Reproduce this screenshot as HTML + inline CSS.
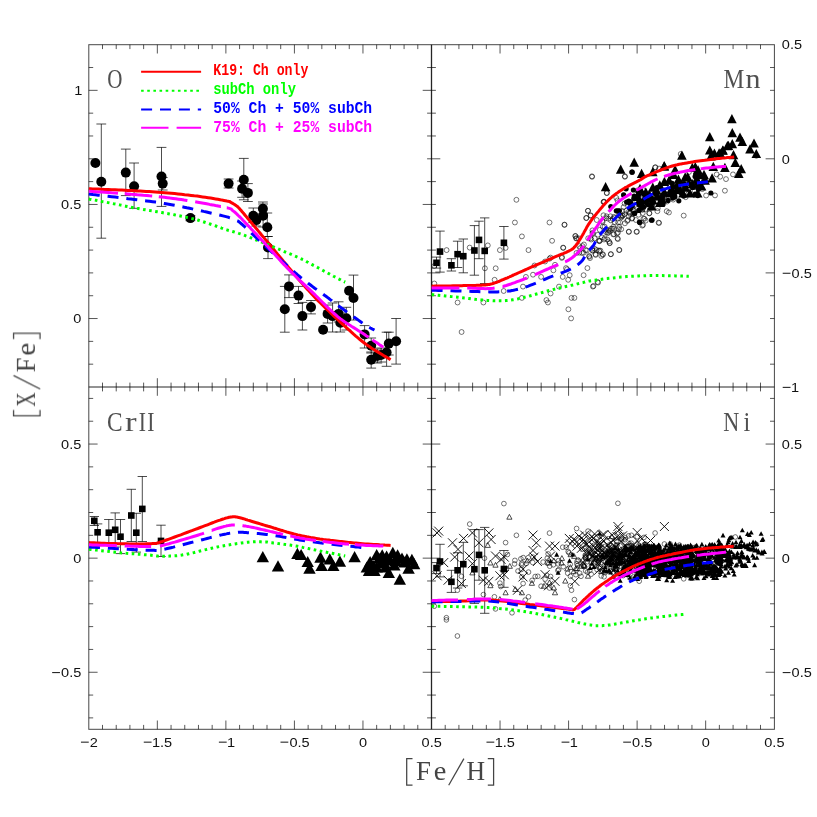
<!DOCTYPE html><html><head><meta charset="utf-8"><style>html,body{margin:0;padding:0;background:#fff}svg{display:block}</style></head><body><svg width="817" height="817" viewBox="0 0 817 817">
<rect width="817" height="817" fill="#fff"/>
<g stroke="#000" stroke-width="1" fill="none" shape-rendering="auto" opacity="0.72">
<rect x="88.8" y="44.7" width="685.6" height="684.5999999999999"/>
</g>
<g stroke="#000" stroke-width="1" opacity="0.85">
<line x1="431.50" y1="44.70" x2="431.50" y2="729.30" stroke="#000" stroke-width="1.3" />
<line x1="88.80" y1="387.00" x2="774.40" y2="387.00" stroke="#000" stroke-width="1" />
</g>
<g stroke="#000" stroke-width="1" opacity="0.66">
<line x1="102.51" y1="44.70" x2="102.51" y2="49.10" stroke="#000" stroke-width="1" />
<line x1="102.51" y1="729.30" x2="102.51" y2="724.90" stroke="#000" stroke-width="1" />
<line x1="102.51" y1="382.60" x2="102.51" y2="391.40" stroke="#000" stroke-width="1" />
<line x1="116.22" y1="44.70" x2="116.22" y2="49.10" stroke="#000" stroke-width="1" />
<line x1="116.22" y1="729.30" x2="116.22" y2="724.90" stroke="#000" stroke-width="1" />
<line x1="116.22" y1="382.60" x2="116.22" y2="391.40" stroke="#000" stroke-width="1" />
<line x1="129.92" y1="44.70" x2="129.92" y2="49.10" stroke="#000" stroke-width="1" />
<line x1="129.92" y1="729.30" x2="129.92" y2="724.90" stroke="#000" stroke-width="1" />
<line x1="129.92" y1="382.60" x2="129.92" y2="391.40" stroke="#000" stroke-width="1" />
<line x1="143.63" y1="44.70" x2="143.63" y2="49.10" stroke="#000" stroke-width="1" />
<line x1="143.63" y1="729.30" x2="143.63" y2="724.90" stroke="#000" stroke-width="1" />
<line x1="143.63" y1="382.60" x2="143.63" y2="391.40" stroke="#000" stroke-width="1" />
<line x1="157.34" y1="44.70" x2="157.34" y2="53.50" stroke="#000" stroke-width="1" />
<line x1="157.34" y1="729.30" x2="157.34" y2="720.50" stroke="#000" stroke-width="1" />
<line x1="157.34" y1="378.20" x2="157.34" y2="395.80" stroke="#000" stroke-width="1" />
<line x1="171.05" y1="44.70" x2="171.05" y2="49.10" stroke="#000" stroke-width="1" />
<line x1="171.05" y1="729.30" x2="171.05" y2="724.90" stroke="#000" stroke-width="1" />
<line x1="171.05" y1="382.60" x2="171.05" y2="391.40" stroke="#000" stroke-width="1" />
<line x1="184.76" y1="44.70" x2="184.76" y2="49.10" stroke="#000" stroke-width="1" />
<line x1="184.76" y1="729.30" x2="184.76" y2="724.90" stroke="#000" stroke-width="1" />
<line x1="184.76" y1="382.60" x2="184.76" y2="391.40" stroke="#000" stroke-width="1" />
<line x1="198.46" y1="44.70" x2="198.46" y2="49.10" stroke="#000" stroke-width="1" />
<line x1="198.46" y1="729.30" x2="198.46" y2="724.90" stroke="#000" stroke-width="1" />
<line x1="198.46" y1="382.60" x2="198.46" y2="391.40" stroke="#000" stroke-width="1" />
<line x1="212.17" y1="44.70" x2="212.17" y2="49.10" stroke="#000" stroke-width="1" />
<line x1="212.17" y1="729.30" x2="212.17" y2="724.90" stroke="#000" stroke-width="1" />
<line x1="212.17" y1="382.60" x2="212.17" y2="391.40" stroke="#000" stroke-width="1" />
<line x1="225.88" y1="44.70" x2="225.88" y2="53.50" stroke="#000" stroke-width="1" />
<line x1="225.88" y1="729.30" x2="225.88" y2="720.50" stroke="#000" stroke-width="1" />
<line x1="225.88" y1="378.20" x2="225.88" y2="395.80" stroke="#000" stroke-width="1" />
<line x1="239.59" y1="44.70" x2="239.59" y2="49.10" stroke="#000" stroke-width="1" />
<line x1="239.59" y1="729.30" x2="239.59" y2="724.90" stroke="#000" stroke-width="1" />
<line x1="239.59" y1="382.60" x2="239.59" y2="391.40" stroke="#000" stroke-width="1" />
<line x1="253.30" y1="44.70" x2="253.30" y2="49.10" stroke="#000" stroke-width="1" />
<line x1="253.30" y1="729.30" x2="253.30" y2="724.90" stroke="#000" stroke-width="1" />
<line x1="253.30" y1="382.60" x2="253.30" y2="391.40" stroke="#000" stroke-width="1" />
<line x1="267.00" y1="44.70" x2="267.00" y2="49.10" stroke="#000" stroke-width="1" />
<line x1="267.00" y1="729.30" x2="267.00" y2="724.90" stroke="#000" stroke-width="1" />
<line x1="267.00" y1="382.60" x2="267.00" y2="391.40" stroke="#000" stroke-width="1" />
<line x1="280.71" y1="44.70" x2="280.71" y2="49.10" stroke="#000" stroke-width="1" />
<line x1="280.71" y1="729.30" x2="280.71" y2="724.90" stroke="#000" stroke-width="1" />
<line x1="280.71" y1="382.60" x2="280.71" y2="391.40" stroke="#000" stroke-width="1" />
<line x1="294.42" y1="44.70" x2="294.42" y2="53.50" stroke="#000" stroke-width="1" />
<line x1="294.42" y1="729.30" x2="294.42" y2="720.50" stroke="#000" stroke-width="1" />
<line x1="294.42" y1="378.20" x2="294.42" y2="395.80" stroke="#000" stroke-width="1" />
<line x1="308.13" y1="44.70" x2="308.13" y2="49.10" stroke="#000" stroke-width="1" />
<line x1="308.13" y1="729.30" x2="308.13" y2="724.90" stroke="#000" stroke-width="1" />
<line x1="308.13" y1="382.60" x2="308.13" y2="391.40" stroke="#000" stroke-width="1" />
<line x1="321.84" y1="44.70" x2="321.84" y2="49.10" stroke="#000" stroke-width="1" />
<line x1="321.84" y1="729.30" x2="321.84" y2="724.90" stroke="#000" stroke-width="1" />
<line x1="321.84" y1="382.60" x2="321.84" y2="391.40" stroke="#000" stroke-width="1" />
<line x1="335.54" y1="44.70" x2="335.54" y2="49.10" stroke="#000" stroke-width="1" />
<line x1="335.54" y1="729.30" x2="335.54" y2="724.90" stroke="#000" stroke-width="1" />
<line x1="335.54" y1="382.60" x2="335.54" y2="391.40" stroke="#000" stroke-width="1" />
<line x1="349.25" y1="44.70" x2="349.25" y2="49.10" stroke="#000" stroke-width="1" />
<line x1="349.25" y1="729.30" x2="349.25" y2="724.90" stroke="#000" stroke-width="1" />
<line x1="349.25" y1="382.60" x2="349.25" y2="391.40" stroke="#000" stroke-width="1" />
<line x1="362.96" y1="44.70" x2="362.96" y2="53.50" stroke="#000" stroke-width="1" />
<line x1="362.96" y1="729.30" x2="362.96" y2="720.50" stroke="#000" stroke-width="1" />
<line x1="362.96" y1="378.20" x2="362.96" y2="395.80" stroke="#000" stroke-width="1" />
<line x1="376.67" y1="44.70" x2="376.67" y2="49.10" stroke="#000" stroke-width="1" />
<line x1="376.67" y1="729.30" x2="376.67" y2="724.90" stroke="#000" stroke-width="1" />
<line x1="376.67" y1="382.60" x2="376.67" y2="391.40" stroke="#000" stroke-width="1" />
<line x1="390.38" y1="44.70" x2="390.38" y2="49.10" stroke="#000" stroke-width="1" />
<line x1="390.38" y1="729.30" x2="390.38" y2="724.90" stroke="#000" stroke-width="1" />
<line x1="390.38" y1="382.60" x2="390.38" y2="391.40" stroke="#000" stroke-width="1" />
<line x1="404.08" y1="44.70" x2="404.08" y2="49.10" stroke="#000" stroke-width="1" />
<line x1="404.08" y1="729.30" x2="404.08" y2="724.90" stroke="#000" stroke-width="1" />
<line x1="404.08" y1="382.60" x2="404.08" y2="391.40" stroke="#000" stroke-width="1" />
<line x1="417.79" y1="44.70" x2="417.79" y2="49.10" stroke="#000" stroke-width="1" />
<line x1="417.79" y1="729.30" x2="417.79" y2="724.90" stroke="#000" stroke-width="1" />
<line x1="417.79" y1="382.60" x2="417.79" y2="391.40" stroke="#000" stroke-width="1" />
<line x1="445.21" y1="44.70" x2="445.21" y2="49.10" stroke="#000" stroke-width="1" />
<line x1="445.21" y1="729.30" x2="445.21" y2="724.90" stroke="#000" stroke-width="1" />
<line x1="445.21" y1="382.60" x2="445.21" y2="391.40" stroke="#000" stroke-width="1" />
<line x1="458.92" y1="44.70" x2="458.92" y2="49.10" stroke="#000" stroke-width="1" />
<line x1="458.92" y1="729.30" x2="458.92" y2="724.90" stroke="#000" stroke-width="1" />
<line x1="458.92" y1="382.60" x2="458.92" y2="391.40" stroke="#000" stroke-width="1" />
<line x1="472.62" y1="44.70" x2="472.62" y2="49.10" stroke="#000" stroke-width="1" />
<line x1="472.62" y1="729.30" x2="472.62" y2="724.90" stroke="#000" stroke-width="1" />
<line x1="472.62" y1="382.60" x2="472.62" y2="391.40" stroke="#000" stroke-width="1" />
<line x1="486.33" y1="44.70" x2="486.33" y2="49.10" stroke="#000" stroke-width="1" />
<line x1="486.33" y1="729.30" x2="486.33" y2="724.90" stroke="#000" stroke-width="1" />
<line x1="486.33" y1="382.60" x2="486.33" y2="391.40" stroke="#000" stroke-width="1" />
<line x1="500.04" y1="44.70" x2="500.04" y2="53.50" stroke="#000" stroke-width="1" />
<line x1="500.04" y1="729.30" x2="500.04" y2="720.50" stroke="#000" stroke-width="1" />
<line x1="500.04" y1="378.20" x2="500.04" y2="395.80" stroke="#000" stroke-width="1" />
<line x1="513.75" y1="44.70" x2="513.75" y2="49.10" stroke="#000" stroke-width="1" />
<line x1="513.75" y1="729.30" x2="513.75" y2="724.90" stroke="#000" stroke-width="1" />
<line x1="513.75" y1="382.60" x2="513.75" y2="391.40" stroke="#000" stroke-width="1" />
<line x1="527.46" y1="44.70" x2="527.46" y2="49.10" stroke="#000" stroke-width="1" />
<line x1="527.46" y1="729.30" x2="527.46" y2="724.90" stroke="#000" stroke-width="1" />
<line x1="527.46" y1="382.60" x2="527.46" y2="391.40" stroke="#000" stroke-width="1" />
<line x1="541.16" y1="44.70" x2="541.16" y2="49.10" stroke="#000" stroke-width="1" />
<line x1="541.16" y1="729.30" x2="541.16" y2="724.90" stroke="#000" stroke-width="1" />
<line x1="541.16" y1="382.60" x2="541.16" y2="391.40" stroke="#000" stroke-width="1" />
<line x1="554.87" y1="44.70" x2="554.87" y2="49.10" stroke="#000" stroke-width="1" />
<line x1="554.87" y1="729.30" x2="554.87" y2="724.90" stroke="#000" stroke-width="1" />
<line x1="554.87" y1="382.60" x2="554.87" y2="391.40" stroke="#000" stroke-width="1" />
<line x1="568.58" y1="44.70" x2="568.58" y2="53.50" stroke="#000" stroke-width="1" />
<line x1="568.58" y1="729.30" x2="568.58" y2="720.50" stroke="#000" stroke-width="1" />
<line x1="568.58" y1="378.20" x2="568.58" y2="395.80" stroke="#000" stroke-width="1" />
<line x1="582.29" y1="44.70" x2="582.29" y2="49.10" stroke="#000" stroke-width="1" />
<line x1="582.29" y1="729.30" x2="582.29" y2="724.90" stroke="#000" stroke-width="1" />
<line x1="582.29" y1="382.60" x2="582.29" y2="391.40" stroke="#000" stroke-width="1" />
<line x1="596.00" y1="44.70" x2="596.00" y2="49.10" stroke="#000" stroke-width="1" />
<line x1="596.00" y1="729.30" x2="596.00" y2="724.90" stroke="#000" stroke-width="1" />
<line x1="596.00" y1="382.60" x2="596.00" y2="391.40" stroke="#000" stroke-width="1" />
<line x1="609.70" y1="44.70" x2="609.70" y2="49.10" stroke="#000" stroke-width="1" />
<line x1="609.70" y1="729.30" x2="609.70" y2="724.90" stroke="#000" stroke-width="1" />
<line x1="609.70" y1="382.60" x2="609.70" y2="391.40" stroke="#000" stroke-width="1" />
<line x1="623.41" y1="44.70" x2="623.41" y2="49.10" stroke="#000" stroke-width="1" />
<line x1="623.41" y1="729.30" x2="623.41" y2="724.90" stroke="#000" stroke-width="1" />
<line x1="623.41" y1="382.60" x2="623.41" y2="391.40" stroke="#000" stroke-width="1" />
<line x1="637.12" y1="44.70" x2="637.12" y2="53.50" stroke="#000" stroke-width="1" />
<line x1="637.12" y1="729.30" x2="637.12" y2="720.50" stroke="#000" stroke-width="1" />
<line x1="637.12" y1="378.20" x2="637.12" y2="395.80" stroke="#000" stroke-width="1" />
<line x1="650.83" y1="44.70" x2="650.83" y2="49.10" stroke="#000" stroke-width="1" />
<line x1="650.83" y1="729.30" x2="650.83" y2="724.90" stroke="#000" stroke-width="1" />
<line x1="650.83" y1="382.60" x2="650.83" y2="391.40" stroke="#000" stroke-width="1" />
<line x1="664.54" y1="44.70" x2="664.54" y2="49.10" stroke="#000" stroke-width="1" />
<line x1="664.54" y1="729.30" x2="664.54" y2="724.90" stroke="#000" stroke-width="1" />
<line x1="664.54" y1="382.60" x2="664.54" y2="391.40" stroke="#000" stroke-width="1" />
<line x1="678.24" y1="44.70" x2="678.24" y2="49.10" stroke="#000" stroke-width="1" />
<line x1="678.24" y1="729.30" x2="678.24" y2="724.90" stroke="#000" stroke-width="1" />
<line x1="678.24" y1="382.60" x2="678.24" y2="391.40" stroke="#000" stroke-width="1" />
<line x1="691.95" y1="44.70" x2="691.95" y2="49.10" stroke="#000" stroke-width="1" />
<line x1="691.95" y1="729.30" x2="691.95" y2="724.90" stroke="#000" stroke-width="1" />
<line x1="691.95" y1="382.60" x2="691.95" y2="391.40" stroke="#000" stroke-width="1" />
<line x1="705.66" y1="44.70" x2="705.66" y2="53.50" stroke="#000" stroke-width="1" />
<line x1="705.66" y1="729.30" x2="705.66" y2="720.50" stroke="#000" stroke-width="1" />
<line x1="705.66" y1="378.20" x2="705.66" y2="395.80" stroke="#000" stroke-width="1" />
<line x1="719.37" y1="44.70" x2="719.37" y2="49.10" stroke="#000" stroke-width="1" />
<line x1="719.37" y1="729.30" x2="719.37" y2="724.90" stroke="#000" stroke-width="1" />
<line x1="719.37" y1="382.60" x2="719.37" y2="391.40" stroke="#000" stroke-width="1" />
<line x1="733.08" y1="44.70" x2="733.08" y2="49.10" stroke="#000" stroke-width="1" />
<line x1="733.08" y1="729.30" x2="733.08" y2="724.90" stroke="#000" stroke-width="1" />
<line x1="733.08" y1="382.60" x2="733.08" y2="391.40" stroke="#000" stroke-width="1" />
<line x1="746.78" y1="44.70" x2="746.78" y2="49.10" stroke="#000" stroke-width="1" />
<line x1="746.78" y1="729.30" x2="746.78" y2="724.90" stroke="#000" stroke-width="1" />
<line x1="746.78" y1="382.60" x2="746.78" y2="391.40" stroke="#000" stroke-width="1" />
<line x1="760.49" y1="44.70" x2="760.49" y2="49.10" stroke="#000" stroke-width="1" />
<line x1="760.49" y1="729.30" x2="760.49" y2="724.90" stroke="#000" stroke-width="1" />
<line x1="760.49" y1="382.60" x2="760.49" y2="391.40" stroke="#000" stroke-width="1" />
<line x1="88.80" y1="364.18" x2="93.20" y2="364.18" stroke="#000" stroke-width="1" />
<line x1="427.10" y1="364.18" x2="431.50" y2="364.18" stroke="#000" stroke-width="1" />
<line x1="88.80" y1="341.36" x2="93.20" y2="341.36" stroke="#000" stroke-width="1" />
<line x1="427.10" y1="341.36" x2="431.50" y2="341.36" stroke="#000" stroke-width="1" />
<line x1="88.80" y1="318.54" x2="97.60" y2="318.54" stroke="#000" stroke-width="1" />
<line x1="422.70" y1="318.54" x2="431.50" y2="318.54" stroke="#000" stroke-width="1" />
<line x1="88.80" y1="295.72" x2="93.20" y2="295.72" stroke="#000" stroke-width="1" />
<line x1="427.10" y1="295.72" x2="431.50" y2="295.72" stroke="#000" stroke-width="1" />
<line x1="88.80" y1="272.90" x2="93.20" y2="272.90" stroke="#000" stroke-width="1" />
<line x1="427.10" y1="272.90" x2="431.50" y2="272.90" stroke="#000" stroke-width="1" />
<line x1="88.80" y1="250.08" x2="93.20" y2="250.08" stroke="#000" stroke-width="1" />
<line x1="427.10" y1="250.08" x2="431.50" y2="250.08" stroke="#000" stroke-width="1" />
<line x1="88.80" y1="227.26" x2="93.20" y2="227.26" stroke="#000" stroke-width="1" />
<line x1="427.10" y1="227.26" x2="431.50" y2="227.26" stroke="#000" stroke-width="1" />
<line x1="88.80" y1="204.44" x2="97.60" y2="204.44" stroke="#000" stroke-width="1" />
<line x1="422.70" y1="204.44" x2="431.50" y2="204.44" stroke="#000" stroke-width="1" />
<line x1="88.80" y1="181.62" x2="93.20" y2="181.62" stroke="#000" stroke-width="1" />
<line x1="427.10" y1="181.62" x2="431.50" y2="181.62" stroke="#000" stroke-width="1" />
<line x1="88.80" y1="158.80" x2="93.20" y2="158.80" stroke="#000" stroke-width="1" />
<line x1="427.10" y1="158.80" x2="431.50" y2="158.80" stroke="#000" stroke-width="1" />
<line x1="88.80" y1="135.98" x2="93.20" y2="135.98" stroke="#000" stroke-width="1" />
<line x1="427.10" y1="135.98" x2="431.50" y2="135.98" stroke="#000" stroke-width="1" />
<line x1="88.80" y1="113.16" x2="93.20" y2="113.16" stroke="#000" stroke-width="1" />
<line x1="427.10" y1="113.16" x2="431.50" y2="113.16" stroke="#000" stroke-width="1" />
<line x1="88.80" y1="90.34" x2="97.60" y2="90.34" stroke="#000" stroke-width="1" />
<line x1="422.70" y1="90.34" x2="431.50" y2="90.34" stroke="#000" stroke-width="1" />
<line x1="88.80" y1="67.52" x2="93.20" y2="67.52" stroke="#000" stroke-width="1" />
<line x1="427.10" y1="67.52" x2="431.50" y2="67.52" stroke="#000" stroke-width="1" />
<line x1="431.50" y1="364.18" x2="435.90" y2="364.18" stroke="#000" stroke-width="1" />
<line x1="770.00" y1="364.18" x2="774.40" y2="364.18" stroke="#000" stroke-width="1" />
<line x1="431.50" y1="341.36" x2="435.90" y2="341.36" stroke="#000" stroke-width="1" />
<line x1="770.00" y1="341.36" x2="774.40" y2="341.36" stroke="#000" stroke-width="1" />
<line x1="431.50" y1="318.54" x2="435.90" y2="318.54" stroke="#000" stroke-width="1" />
<line x1="770.00" y1="318.54" x2="774.40" y2="318.54" stroke="#000" stroke-width="1" />
<line x1="431.50" y1="295.72" x2="435.90" y2="295.72" stroke="#000" stroke-width="1" />
<line x1="770.00" y1="295.72" x2="774.40" y2="295.72" stroke="#000" stroke-width="1" />
<line x1="431.50" y1="272.90" x2="440.30" y2="272.90" stroke="#000" stroke-width="1" />
<line x1="765.60" y1="272.90" x2="774.40" y2="272.90" stroke="#000" stroke-width="1" />
<line x1="431.50" y1="250.08" x2="435.90" y2="250.08" stroke="#000" stroke-width="1" />
<line x1="770.00" y1="250.08" x2="774.40" y2="250.08" stroke="#000" stroke-width="1" />
<line x1="431.50" y1="227.26" x2="435.90" y2="227.26" stroke="#000" stroke-width="1" />
<line x1="770.00" y1="227.26" x2="774.40" y2="227.26" stroke="#000" stroke-width="1" />
<line x1="431.50" y1="204.44" x2="435.90" y2="204.44" stroke="#000" stroke-width="1" />
<line x1="770.00" y1="204.44" x2="774.40" y2="204.44" stroke="#000" stroke-width="1" />
<line x1="431.50" y1="181.62" x2="435.90" y2="181.62" stroke="#000" stroke-width="1" />
<line x1="770.00" y1="181.62" x2="774.40" y2="181.62" stroke="#000" stroke-width="1" />
<line x1="431.50" y1="158.80" x2="440.30" y2="158.80" stroke="#000" stroke-width="1" />
<line x1="765.60" y1="158.80" x2="774.40" y2="158.80" stroke="#000" stroke-width="1" />
<line x1="431.50" y1="135.98" x2="435.90" y2="135.98" stroke="#000" stroke-width="1" />
<line x1="770.00" y1="135.98" x2="774.40" y2="135.98" stroke="#000" stroke-width="1" />
<line x1="431.50" y1="113.16" x2="435.90" y2="113.16" stroke="#000" stroke-width="1" />
<line x1="770.00" y1="113.16" x2="774.40" y2="113.16" stroke="#000" stroke-width="1" />
<line x1="431.50" y1="90.34" x2="435.90" y2="90.34" stroke="#000" stroke-width="1" />
<line x1="770.00" y1="90.34" x2="774.40" y2="90.34" stroke="#000" stroke-width="1" />
<line x1="431.50" y1="67.52" x2="435.90" y2="67.52" stroke="#000" stroke-width="1" />
<line x1="770.00" y1="67.52" x2="774.40" y2="67.52" stroke="#000" stroke-width="1" />
<line x1="88.80" y1="717.89" x2="93.20" y2="717.89" stroke="#000" stroke-width="1" />
<line x1="427.10" y1="717.89" x2="435.90" y2="717.89" stroke="#000" stroke-width="1" />
<line x1="770.00" y1="717.89" x2="774.40" y2="717.89" stroke="#000" stroke-width="1" />
<line x1="88.80" y1="695.07" x2="93.20" y2="695.07" stroke="#000" stroke-width="1" />
<line x1="427.10" y1="695.07" x2="435.90" y2="695.07" stroke="#000" stroke-width="1" />
<line x1="770.00" y1="695.07" x2="774.40" y2="695.07" stroke="#000" stroke-width="1" />
<line x1="88.80" y1="672.25" x2="97.60" y2="672.25" stroke="#000" stroke-width="1" />
<line x1="422.70" y1="672.25" x2="440.30" y2="672.25" stroke="#000" stroke-width="1" />
<line x1="765.60" y1="672.25" x2="774.40" y2="672.25" stroke="#000" stroke-width="1" />
<line x1="88.80" y1="649.43" x2="93.20" y2="649.43" stroke="#000" stroke-width="1" />
<line x1="427.10" y1="649.43" x2="435.90" y2="649.43" stroke="#000" stroke-width="1" />
<line x1="770.00" y1="649.43" x2="774.40" y2="649.43" stroke="#000" stroke-width="1" />
<line x1="88.80" y1="626.61" x2="93.20" y2="626.61" stroke="#000" stroke-width="1" />
<line x1="427.10" y1="626.61" x2="435.90" y2="626.61" stroke="#000" stroke-width="1" />
<line x1="770.00" y1="626.61" x2="774.40" y2="626.61" stroke="#000" stroke-width="1" />
<line x1="88.80" y1="603.79" x2="93.20" y2="603.79" stroke="#000" stroke-width="1" />
<line x1="427.10" y1="603.79" x2="435.90" y2="603.79" stroke="#000" stroke-width="1" />
<line x1="770.00" y1="603.79" x2="774.40" y2="603.79" stroke="#000" stroke-width="1" />
<line x1="88.80" y1="580.97" x2="93.20" y2="580.97" stroke="#000" stroke-width="1" />
<line x1="427.10" y1="580.97" x2="435.90" y2="580.97" stroke="#000" stroke-width="1" />
<line x1="770.00" y1="580.97" x2="774.40" y2="580.97" stroke="#000" stroke-width="1" />
<line x1="88.80" y1="558.15" x2="97.60" y2="558.15" stroke="#000" stroke-width="1" />
<line x1="422.70" y1="558.15" x2="440.30" y2="558.15" stroke="#000" stroke-width="1" />
<line x1="765.60" y1="558.15" x2="774.40" y2="558.15" stroke="#000" stroke-width="1" />
<line x1="88.80" y1="535.33" x2="93.20" y2="535.33" stroke="#000" stroke-width="1" />
<line x1="427.10" y1="535.33" x2="435.90" y2="535.33" stroke="#000" stroke-width="1" />
<line x1="770.00" y1="535.33" x2="774.40" y2="535.33" stroke="#000" stroke-width="1" />
<line x1="88.80" y1="512.51" x2="93.20" y2="512.51" stroke="#000" stroke-width="1" />
<line x1="427.10" y1="512.51" x2="435.90" y2="512.51" stroke="#000" stroke-width="1" />
<line x1="770.00" y1="512.51" x2="774.40" y2="512.51" stroke="#000" stroke-width="1" />
<line x1="88.80" y1="489.69" x2="93.20" y2="489.69" stroke="#000" stroke-width="1" />
<line x1="427.10" y1="489.69" x2="435.90" y2="489.69" stroke="#000" stroke-width="1" />
<line x1="770.00" y1="489.69" x2="774.40" y2="489.69" stroke="#000" stroke-width="1" />
<line x1="88.80" y1="466.87" x2="93.20" y2="466.87" stroke="#000" stroke-width="1" />
<line x1="427.10" y1="466.87" x2="435.90" y2="466.87" stroke="#000" stroke-width="1" />
<line x1="770.00" y1="466.87" x2="774.40" y2="466.87" stroke="#000" stroke-width="1" />
<line x1="88.80" y1="444.05" x2="97.60" y2="444.05" stroke="#000" stroke-width="1" />
<line x1="422.70" y1="444.05" x2="440.30" y2="444.05" stroke="#000" stroke-width="1" />
<line x1="765.60" y1="444.05" x2="774.40" y2="444.05" stroke="#000" stroke-width="1" />
<line x1="88.80" y1="421.23" x2="93.20" y2="421.23" stroke="#000" stroke-width="1" />
<line x1="427.10" y1="421.23" x2="435.90" y2="421.23" stroke="#000" stroke-width="1" />
<line x1="770.00" y1="421.23" x2="774.40" y2="421.23" stroke="#000" stroke-width="1" />
<line x1="88.80" y1="398.41" x2="93.20" y2="398.41" stroke="#000" stroke-width="1" />
<line x1="427.10" y1="398.41" x2="435.90" y2="398.41" stroke="#000" stroke-width="1" />
<line x1="770.00" y1="398.41" x2="774.40" y2="398.41" stroke="#000" stroke-width="1" />
</g>
<g opacity="0.999">
<rect x="80.95" y="741.65" width="7.8" height="1.0" fill="#111"/>
<text transform="translate(89.85,746.50) scale(1.12,1)" font-family="Liberation Sans" font-size="13.0" fill="#111">2</text>
<rect x="143.77" y="741.65" width="7.8" height="1.0" fill="#111"/>
<text transform="translate(151.97,746.50) scale(1.12,1)" font-family="Liberation Sans" font-size="13.0" fill="#111">1.5</text>
<rect x="218.88" y="741.65" width="7.8" height="1.0" fill="#111"/>
<text transform="translate(227.08,746.50) scale(1.12,1)" font-family="Liberation Sans" font-size="13.0" fill="#111">1</text>
<rect x="280.50" y="741.65" width="7.8" height="1.0" fill="#111"/>
<text transform="translate(289.40,746.50) scale(1.12,1)" font-family="Liberation Sans" font-size="13.0" fill="#111">0.5</text>
<text transform="translate(359.11,746.50) scale(1.12,1)" font-family="Liberation Sans" font-size="13.0" fill="#111">0</text>
<text transform="translate(421.58,746.50) scale(1.12,1)" font-family="Liberation Sans" font-size="13.0" fill="#111">0.5</text>
<rect x="486.47" y="741.65" width="7.8" height="1.0" fill="#111"/>
<text transform="translate(494.67,746.50) scale(1.12,1)" font-family="Liberation Sans" font-size="13.0" fill="#111">1.5</text>
<rect x="561.58" y="741.65" width="7.8" height="1.0" fill="#111"/>
<text transform="translate(569.78,746.50) scale(1.12,1)" font-family="Liberation Sans" font-size="13.0" fill="#111">1</text>
<rect x="623.20" y="741.65" width="7.8" height="1.0" fill="#111"/>
<text transform="translate(632.10,746.50) scale(1.12,1)" font-family="Liberation Sans" font-size="13.0" fill="#111">0.5</text>
<text transform="translate(701.81,746.50) scale(1.12,1)" font-family="Liberation Sans" font-size="13.0" fill="#111">0</text>
<text transform="translate(764.28,746.50) scale(1.12,1)" font-family="Liberation Sans" font-size="13.0" fill="#111">0.5</text>
<text transform="translate(74.20,95.04) scale(1.12,1)" font-family="Liberation Sans" font-size="13.0" fill="#111">1</text>
<text transform="translate(61.06,209.14) scale(1.12,1)" font-family="Liberation Sans" font-size="13.0" fill="#111">0.5</text>
<text transform="translate(73.20,323.24) scale(1.12,1)" font-family="Liberation Sans" font-size="13.0" fill="#111">0</text>
<text transform="translate(61.06,448.75) scale(1.12,1)" font-family="Liberation Sans" font-size="13.0" fill="#111">0.5</text>
<text transform="translate(73.20,562.85) scale(1.12,1)" font-family="Liberation Sans" font-size="13.0" fill="#111">0</text>
<rect x="52.16" y="672.10" width="7.8" height="1.0" fill="#111"/>
<text transform="translate(61.06,676.95) scale(1.12,1)" font-family="Liberation Sans" font-size="13.0" fill="#111">0.5</text>
<text transform="translate(781.80,49.40) scale(1.12,1)" font-family="Liberation Sans" font-size="13.0" fill="#111">0.5</text>
<text transform="translate(781.80,163.50) scale(1.12,1)" font-family="Liberation Sans" font-size="13.0" fill="#111">0</text>
<rect x="782.70" y="272.75" width="7.8" height="1.0" fill="#111"/>
<text transform="translate(791.60,277.60) scale(1.12,1)" font-family="Liberation Sans" font-size="13.0" fill="#111">0.5</text>
<rect x="782.70" y="386.85" width="7.8" height="1.0" fill="#111"/>
<text transform="translate(790.90,391.70) scale(1.12,1)" font-family="Liberation Sans" font-size="13.0" fill="#111">1</text>
<text transform="translate(781.80,448.75) scale(1.12,1)" font-family="Liberation Sans" font-size="13.0" fill="#111">0.5</text>
<text transform="translate(781.80,562.85) scale(1.12,1)" font-family="Liberation Sans" font-size="13.0" fill="#111">0</text>
<rect x="782.70" y="672.10" width="7.8" height="1.0" fill="#111"/>
<text transform="translate(791.60,676.95) scale(1.12,1)" font-family="Liberation Sans" font-size="13.0" fill="#111">0.5</text>
<g transform="translate(406.1,780)" fill="#444" stroke="none" font-family="Liberation Serif" font-size="27.5">
<path d="M6.4,-21.4H0.6V5.2H6.4" fill="none" stroke="#444" stroke-width="1.25"/>
<text x="10.0" y="0" textLength="14.9" lengthAdjust="spacingAndGlyphs">F</text>
<text x="27.6" y="0" textLength="12.6" lengthAdjust="spacingAndGlyphs">e</text>
<path d="M42.6,5.2L57.8,-21.4" fill="none" stroke="#444" stroke-width="1.25"/>
<text x="60.3" y="0" textLength="18.6" lengthAdjust="spacingAndGlyphs">H</text>
<path d="M81.7,-21.4H87.5V5.2H81.7" fill="none" stroke="#444" stroke-width="1.25"/>
</g>
<g transform="translate(34.9,416.4) rotate(-90)" fill="#444" stroke="none" font-family="Liberation Serif" font-size="27.5">
<path d="M6.4,-21.4H0.6V5.2H6.4" fill="none" stroke="#444" stroke-width="1.25"/>
<text x="9.7" y="0" textLength="14.2" lengthAdjust="spacingAndGlyphs">X</text>
<path d="M27.4,5.2L40.9,-21.4" fill="none" stroke="#444" stroke-width="1.25"/>
<text x="43.9" y="0" textLength="14.9" lengthAdjust="spacingAndGlyphs">F</text>
<text x="60.8" y="0" textLength="12.9" lengthAdjust="spacingAndGlyphs">e</text>
<path d="M77.3,-21.4H83.1V5.2H77.3" fill="none" stroke="#444" stroke-width="1.25"/>
</g>
<text x="107.2" y="88.3" font-family="Liberation Serif" font-size="28" fill="#505050" textLength="15.2" lengthAdjust="spacingAndGlyphs">O</text>
<text x="723.4" y="88.4" font-family="Liberation Serif" font-size="28" fill="#505050" textLength="20.8" lengthAdjust="spacingAndGlyphs">M</text>
<text x="745.4" y="88.4" font-family="Liberation Serif" font-size="28" fill="#505050" textLength="15.0" lengthAdjust="spacingAndGlyphs">n</text>
<text x="106.9" y="430.7" font-family="Liberation Serif" font-size="28" fill="#505050" textLength="15.6" lengthAdjust="spacingAndGlyphs">C</text>
<text x="125.0" y="430.7" font-family="Liberation Serif" font-size="28" fill="#505050" textLength="11.6" lengthAdjust="spacingAndGlyphs">r</text>
<text x="138.8" y="430.7" font-family="Liberation Serif" font-size="28" fill="#505050" textLength="7.2" lengthAdjust="spacingAndGlyphs">I</text>
<text x="147.2" y="430.7" font-family="Liberation Serif" font-size="28" fill="#505050" textLength="7.2" lengthAdjust="spacingAndGlyphs">I</text>
<text x="723.2" y="430.8" font-family="Liberation Serif" font-size="28" fill="#505050" textLength="16.0" lengthAdjust="spacingAndGlyphs">N</text>
<text x="743.4" y="430.8" font-family="Liberation Serif" font-size="28" fill="#505050" textLength="6.8" lengthAdjust="spacingAndGlyphs">i</text>
</g>
<path d="M101.3,124.0V238.2M96.4,124.0h9.8M96.4,238.2h9.8" stroke="#000" stroke-width="1" fill="none" opacity="0.7"/>
<path d="M125.8,149.1V195.6M120.9,149.1h9.8M120.9,195.6h9.8" stroke="#000" stroke-width="1" fill="none" opacity="0.7"/>
<path d="M134.1,163.0V208.3M129.2,163.0h9.8M129.2,208.3h9.8" stroke="#000" stroke-width="1" fill="none" opacity="0.7"/>
<path d="M161.5,147.4V206.4M156.6,147.4h9.8M156.6,206.4h9.8" stroke="#000" stroke-width="1" fill="none" opacity="0.7"/>
<path d="M162.7,177.5V190.0M157.8,177.5h9.8M157.8,190.0h9.8" stroke="#000" stroke-width="1" fill="none" opacity="0.7"/>
<path d="M190.4,215.5V220.7M185.5,215.5h9.8M185.5,220.7h9.8" stroke="#000" stroke-width="1" fill="none" opacity="0.7"/>
<path d="M228.6,179.0V188.0M223.7,179.0h9.8M223.7,188.0h9.8" stroke="#000" stroke-width="1" fill="none" opacity="0.7"/>
<path d="M243.8,158.4V199.8M238.9,158.4h9.8M238.9,199.8h9.8" stroke="#000" stroke-width="1" fill="none" opacity="0.7"/>
<path d="M242.1,181.0V197.3M237.2,181.0h9.8M237.2,197.3h9.8" stroke="#000" stroke-width="1" fill="none" opacity="0.7"/>
<path d="M247.9,183.6V201.5M243.0,183.6h9.8M243.0,201.5h9.8" stroke="#000" stroke-width="1" fill="none" opacity="0.7"/>
<path d="M262.9,202.0V215.0M258.0,202.0h9.8M258.0,215.0h9.8" stroke="#000" stroke-width="1" fill="none" opacity="0.7"/>
<path d="M253.3,208.0V222.5M248.4,208.0h9.8M248.4,222.5h9.8" stroke="#000" stroke-width="1" fill="none" opacity="0.7"/>
<path d="M256.3,214.0V226.0M251.4,214.0h9.8M251.4,226.0h9.8" stroke="#000" stroke-width="1" fill="none" opacity="0.7"/>
<path d="M263.1,204.0V227.0M258.2,204.0h9.8M258.2,227.0h9.8" stroke="#000" stroke-width="1" fill="none" opacity="0.7"/>
<path d="M267.3,213.0V236.5M262.4,213.0h9.8M262.4,236.5h9.8" stroke="#000" stroke-width="1" fill="none" opacity="0.7"/>
<path d="M268.0,236.5V258.6M263.1,236.5h9.8M263.1,258.6h9.8" stroke="#000" stroke-width="1" fill="none" opacity="0.7"/>
<path d="M289.0,274.9V297.6M284.1,274.9h9.8M284.1,297.6h9.8" stroke="#000" stroke-width="1" fill="none" opacity="0.7"/>
<path d="M284.8,286.4V332.2M279.9,286.4h9.8M279.9,332.2h9.8" stroke="#000" stroke-width="1" fill="none" opacity="0.7"/>
<path d="M298.5,286.4V303.5M293.6,286.4h9.8M293.6,303.5h9.8" stroke="#000" stroke-width="1" fill="none" opacity="0.7"/>
<path d="M302.4,302.4V330.0M297.5,302.4h9.8M297.5,330.0h9.8" stroke="#000" stroke-width="1" fill="none" opacity="0.7"/>
<path d="M311.0,300.5V313.9M306.1,300.5h9.8M306.1,313.9h9.8" stroke="#000" stroke-width="1" fill="none" opacity="0.7"/>
<path d="M327.6,305.0V323.0M322.7,305.0h9.8M322.7,323.0h9.8" stroke="#000" stroke-width="1" fill="none" opacity="0.7"/>
<path d="M332.6,303.0V332.0M327.7,303.0h9.8M327.7,332.0h9.8" stroke="#000" stroke-width="1" fill="none" opacity="0.7"/>
<path d="M338.6,301.8V322.0M333.7,301.8h9.8M333.7,322.0h9.8" stroke="#000" stroke-width="1" fill="none" opacity="0.7"/>
<path d="M340.3,313.0V332.0M335.4,313.0h9.8M335.4,332.0h9.8" stroke="#000" stroke-width="1" fill="none" opacity="0.7"/>
<path d="M346.3,307.3V330.0M341.4,307.3h9.8M341.4,330.0h9.8" stroke="#000" stroke-width="1" fill="none" opacity="0.7"/>
<path d="M353.5,275.1V320.0M348.6,275.1h9.8M348.6,320.0h9.8" stroke="#000" stroke-width="1" fill="none" opacity="0.7"/>
<path d="M364.6,325.6V348.0M359.7,325.6h9.8M359.7,348.0h9.8" stroke="#000" stroke-width="1" fill="none" opacity="0.7"/>
<path d="M371.2,338.0V353.0M366.3,338.0h9.8M366.3,353.0h9.8" stroke="#000" stroke-width="1" fill="none" opacity="0.7"/>
<path d="M371.2,352.0V368.1M366.3,352.0h9.8M366.3,368.1h9.8" stroke="#000" stroke-width="1" fill="none" opacity="0.7"/>
<path d="M377.3,349.0V363.0M372.4,349.0h9.8M372.4,363.0h9.8" stroke="#000" stroke-width="1" fill="none" opacity="0.7"/>
<path d="M381.1,348.0V362.0M376.2,348.0h9.8M376.2,362.0h9.8" stroke="#000" stroke-width="1" fill="none" opacity="0.7"/>
<path d="M386.6,332.2V366.3M381.7,332.2h9.8M381.7,366.3h9.8" stroke="#000" stroke-width="1" fill="none" opacity="0.7"/>
<path d="M388.8,332.2V355.0M383.9,332.2h9.8M383.9,355.0h9.8" stroke="#000" stroke-width="1" fill="none" opacity="0.7"/>
<path d="M396.1,318.5V364.1M391.2,318.5h9.8M391.2,364.1h9.8" stroke="#000" stroke-width="1" fill="none" opacity="0.7"/>
<circle cx="95.4" cy="163.0" r="5" fill="#000"/>
<circle cx="101.3" cy="181.7" r="5" fill="#000"/>
<circle cx="125.8" cy="172.6" r="5" fill="#000"/>
<circle cx="134.1" cy="186.3" r="5" fill="#000"/>
<circle cx="161.5" cy="176.5" r="5" fill="#000"/>
<circle cx="162.7" cy="183.6" r="5" fill="#000"/>
<circle cx="190.4" cy="218.1" r="5" fill="#000"/>
<circle cx="228.6" cy="183.6" r="5" fill="#000"/>
<circle cx="243.8" cy="179.7" r="5" fill="#000"/>
<circle cx="242.1" cy="188.8" r="5" fill="#000"/>
<circle cx="247.9" cy="192.9" r="5" fill="#000"/>
<circle cx="262.9" cy="208.8" r="5" fill="#000"/>
<circle cx="253.3" cy="215.7" r="5" fill="#000"/>
<circle cx="256.3" cy="220.1" r="5" fill="#000"/>
<circle cx="263.1" cy="215.7" r="5" fill="#000"/>
<circle cx="267.3" cy="227.2" r="5" fill="#000"/>
<circle cx="268.0" cy="247.5" r="5" fill="#000"/>
<circle cx="289.0" cy="286.4" r="5" fill="#000"/>
<circle cx="284.8" cy="309.3" r="5" fill="#000"/>
<circle cx="298.5" cy="295.6" r="5" fill="#000"/>
<circle cx="302.4" cy="316.1" r="5" fill="#000"/>
<circle cx="311.0" cy="307.1" r="5" fill="#000"/>
<circle cx="323.1" cy="329.8" r="5" fill="#000"/>
<circle cx="327.6" cy="313.9" r="5" fill="#000"/>
<circle cx="332.6" cy="316.1" r="5" fill="#000"/>
<circle cx="338.6" cy="313.9" r="5" fill="#000"/>
<circle cx="340.3" cy="322.7" r="5" fill="#000"/>
<circle cx="346.3" cy="318.3" r="5" fill="#000"/>
<circle cx="349.1" cy="290.8" r="5" fill="#000"/>
<circle cx="353.5" cy="298.0" r="5" fill="#000"/>
<circle cx="364.6" cy="334.4" r="5" fill="#000"/>
<circle cx="371.2" cy="345.8" r="5" fill="#000"/>
<circle cx="371.2" cy="359.7" r="5" fill="#000"/>
<circle cx="377.3" cy="356.0" r="5" fill="#000"/>
<circle cx="381.1" cy="354.9" r="5" fill="#000"/>
<circle cx="386.6" cy="352.5" r="5" fill="#000"/>
<circle cx="388.8" cy="343.6" r="5" fill="#000"/>
<circle cx="396.1" cy="341.2" r="5" fill="#000"/>
<path d="M94.3,516.5V525.5M89.6,516.5h9.4M89.6,525.5h9.4" stroke="#000" stroke-width="1" fill="none" opacity="0.7"/>
<path d="M97.6,523.9V542.6M92.9,523.9h9.4M92.9,542.6h9.4" stroke="#000" stroke-width="1" fill="none" opacity="0.7"/>
<path d="M108.8,519.5V543.7M104.1,519.5h9.4M104.1,543.7h9.4" stroke="#000" stroke-width="1" fill="none" opacity="0.7"/>
<path d="M115.2,512.9V547.0M110.5,512.9h9.4M110.5,547.0h9.4" stroke="#000" stroke-width="1" fill="none" opacity="0.7"/>
<path d="M120.5,519.5V553.6M115.8,519.5h9.4M115.8,553.6h9.4" stroke="#000" stroke-width="1" fill="none" opacity="0.7"/>
<path d="M131.3,489.3V541.5M126.6,489.3h9.4M126.6,541.5h9.4" stroke="#000" stroke-width="1" fill="none" opacity="0.7"/>
<path d="M136.3,513.3V552.1M131.6,513.3h9.4M131.6,552.1h9.4" stroke="#000" stroke-width="1" fill="none" opacity="0.7"/>
<path d="M142.3,476.5V541.5M137.6,476.5h9.4M137.6,541.5h9.4" stroke="#000" stroke-width="1" fill="none" opacity="0.7"/>
<path d="M161.0,525.2V556.5M156.3,525.2h9.4M156.3,556.5h9.4" stroke="#000" stroke-width="1" fill="none" opacity="0.7"/>
<rect x="91.0" y="517.5" width="6.6" height="6.6" fill="#000"/>
<rect x="94.3" y="529.0" width="6.6" height="6.6" fill="#000"/>
<rect x="105.5" y="529.4" width="6.6" height="6.6" fill="#000"/>
<rect x="111.9" y="526.5" width="6.6" height="6.6" fill="#000"/>
<rect x="117.2" y="533.4" width="6.6" height="6.6" fill="#000"/>
<rect x="128.0" y="512.2" width="6.6" height="6.6" fill="#000"/>
<rect x="133.0" y="529.4" width="6.6" height="6.6" fill="#000"/>
<rect x="139.0" y="505.6" width="6.6" height="6.6" fill="#000"/>
<rect x="157.7" y="537.6" width="6.6" height="6.6" fill="#000"/>
<polygon points="262.8,551.1 269.0,562.3 256.6,562.3" fill="#000"/>
<polygon points="278.0,560.3 284.2,571.5 271.8,571.5" fill="#000"/>
<polygon points="297.4,547.8 303.6,559.0 291.2,559.0" fill="#000"/>
<polygon points="301.1,548.9 307.3,560.1 294.9,560.1" fill="#000"/>
<polygon points="307.7,555.9 313.9,567.1 301.5,567.1" fill="#000"/>
<polygon points="309.5,562.5 315.7,573.7 303.3,573.7" fill="#000"/>
<polygon points="320.5,551.5 326.7,562.7 314.3,562.7" fill="#000"/>
<polygon points="321.6,559.9 327.8,571.1 315.4,571.1" fill="#000"/>
<polygon points="329.8,553.3 336.0,564.5 323.6,564.5" fill="#000"/>
<polygon points="333.3,559.9 339.5,571.1 327.1,571.1" fill="#000"/>
<polygon points="339.9,555.5 346.1,566.7 333.7,566.7" fill="#000"/>
<polygon points="354.6,551.1 360.8,562.3 348.4,562.3" fill="#000"/>
<polygon points="370.1,555.9 376.3,567.1 363.9,567.1" fill="#000"/>
<polygon points="366.8,561.4 373.0,572.6 360.6,572.6" fill="#000"/>
<polygon points="369.0,564.7 375.2,575.9 362.8,575.9" fill="#000"/>
<polygon points="374.5,564.7 380.7,575.9 368.3,575.9" fill="#000"/>
<polygon points="376.7,548.9 382.9,560.1 370.5,560.1" fill="#000"/>
<polygon points="382.2,549.3 388.4,560.5 376.0,560.5" fill="#000"/>
<polygon points="381.1,557.0 387.3,568.2 374.9,568.2" fill="#000"/>
<polygon points="392.8,546.7 399.0,557.9 386.6,557.9" fill="#000"/>
<polygon points="397.6,549.3 403.8,560.5 391.4,560.5" fill="#000"/>
<polygon points="389.9,553.7 396.1,564.9 383.7,564.9" fill="#000"/>
<polygon points="394.3,559.2 400.5,570.4 388.1,570.4" fill="#000"/>
<polygon points="388.8,566.9 395.0,578.1 382.6,578.1" fill="#000"/>
<polygon points="399.8,573.5 406.0,584.7 393.6,584.7" fill="#000"/>
<polygon points="406.9,553.3 413.1,564.5 400.7,564.5" fill="#000"/>
<polygon points="411.9,553.7 418.1,564.9 405.7,564.9" fill="#000"/>
<polygon points="414.1,558.1 420.3,569.3 407.9,569.3" fill="#000"/>
<polygon points="408.6,562.5 414.8,573.7 402.4,573.7" fill="#000"/>
<polygon points="402.0,552.6 408.2,563.8 395.8,563.8" fill="#000"/>
<polygon points="373.4,559.9 379.6,571.1 367.2,571.1" fill="#000"/>
<polygon points="385.5,561.4 391.7,572.6 379.3,572.6" fill="#000"/>
<polygon points="378.9,552.6 385.1,563.8 372.7,563.8" fill="#000"/>
<polygon points="386.6,550.4 392.8,561.6 380.4,561.6" fill="#000"/>
<polygon points="395.4,554.8 401.6,566.0 389.2,566.0" fill="#000"/>
<polygon points="384.4,557.0 390.6,568.2 378.2,568.2" fill="#000"/>
<polygon points="376.7,561.4 382.9,572.6 370.5,572.6" fill="#000"/>
<polygon points="404.2,556.4 410.4,567.6 398.0,567.6" fill="#000"/>
<path d="M436.5,257.1V268.1M431.8,257.1h9.4M431.8,268.1h9.4" stroke="#000" stroke-width="1" fill="none" opacity="0.7"/>
<path d="M440.0,231.1V272.1M435.3,231.1h9.4M435.3,272.1h9.4" stroke="#000" stroke-width="1" fill="none" opacity="0.7"/>
<path d="M451.4,258.7V271.0M446.7,258.7h9.4M446.7,271.0h9.4" stroke="#000" stroke-width="1" fill="none" opacity="0.7"/>
<path d="M457.6,241.2V267.5M452.9,241.2h9.4M452.9,267.5h9.4" stroke="#000" stroke-width="1" fill="none" opacity="0.7"/>
<path d="M463.3,239.0V272.8M458.6,239.0h9.4M458.6,272.8h9.4" stroke="#000" stroke-width="1" fill="none" opacity="0.7"/>
<path d="M474.4,225.6V275.2M469.7,225.6h9.4M469.7,275.2h9.4" stroke="#000" stroke-width="1" fill="none" opacity="0.7"/>
<path d="M479.0,221.2V258.7M474.3,221.2h9.4M474.3,258.7h9.4" stroke="#000" stroke-width="1" fill="none" opacity="0.7"/>
<path d="M484.7,217.9V283.5M480.0,217.9h9.4M480.0,283.5h9.4" stroke="#000" stroke-width="1" fill="none" opacity="0.7"/>
<path d="M503.9,226.5V259.1M499.2,226.5h9.4M499.2,259.1h9.4" stroke="#000" stroke-width="1" fill="none" opacity="0.7"/>
<circle cx="516.4" cy="199.8" r="2.45" fill="none" stroke="#000" stroke-width="0.55"/>
<circle cx="514.9" cy="222.5" r="2.45" fill="none" stroke="#000" stroke-width="0.55"/>
<circle cx="521.9" cy="236.4" r="2.45" fill="none" stroke="#000" stroke-width="0.55"/>
<circle cx="528.5" cy="250.1" r="2.45" fill="none" stroke="#000" stroke-width="0.55"/>
<circle cx="549.5" cy="222.5" r="2.45" fill="none" stroke="#000" stroke-width="0.55"/>
<circle cx="564.5" cy="224.9" r="2.45" fill="none" stroke="#000" stroke-width="0.55"/>
<circle cx="552.1" cy="240.8" r="2.45" fill="none" stroke="#000" stroke-width="0.55"/>
<circle cx="563.1" cy="247.6" r="2.45" fill="none" stroke="#000" stroke-width="0.55"/>
<circle cx="446.6" cy="250.1" r="2.45" fill="none" stroke="#000" stroke-width="0.55"/>
<circle cx="434.3" cy="265.9" r="2.45" fill="none" stroke="#000" stroke-width="0.55"/>
<circle cx="469.7" cy="247.6" r="2.45" fill="none" stroke="#000" stroke-width="0.55"/>
<circle cx="487.8" cy="245.4" r="2.45" fill="none" stroke="#000" stroke-width="0.55"/>
<circle cx="499.9" cy="250.1" r="2.45" fill="none" stroke="#000" stroke-width="0.55"/>
<circle cx="505.6" cy="247.9" r="2.45" fill="none" stroke="#000" stroke-width="0.55"/>
<circle cx="484.9" cy="268.3" r="2.45" fill="none" stroke="#000" stroke-width="0.55"/>
<circle cx="495.7" cy="268.3" r="2.45" fill="none" stroke="#000" stroke-width="0.55"/>
<circle cx="494.6" cy="279.8" r="2.45" fill="none" stroke="#000" stroke-width="0.55"/>
<circle cx="434.3" cy="283.5" r="2.45" fill="none" stroke="#000" stroke-width="0.55"/>
<circle cx="457.6" cy="302.5" r="2.45" fill="none" stroke="#000" stroke-width="0.55"/>
<circle cx="483.4" cy="302.5" r="2.45" fill="none" stroke="#000" stroke-width="0.55"/>
<circle cx="461.6" cy="332.0" r="2.45" fill="none" stroke="#000" stroke-width="0.55"/>
<circle cx="503.7" cy="291.0" r="2.45" fill="none" stroke="#000" stroke-width="0.55"/>
<circle cx="523.0" cy="286.6" r="2.45" fill="none" stroke="#000" stroke-width="0.55"/>
<circle cx="521.9" cy="297.9" r="2.45" fill="none" stroke="#000" stroke-width="0.55"/>
<circle cx="525.9" cy="276.9" r="2.45" fill="none" stroke="#000" stroke-width="0.55"/>
<circle cx="534.5" cy="265.5" r="2.45" fill="none" stroke="#000" stroke-width="0.55"/>
<circle cx="533.0" cy="274.7" r="2.45" fill="none" stroke="#000" stroke-width="0.55"/>
<circle cx="541.1" cy="276.9" r="2.45" fill="none" stroke="#000" stroke-width="0.55"/>
<circle cx="545.1" cy="261.5" r="2.45" fill="none" stroke="#000" stroke-width="0.55"/>
<circle cx="549.5" cy="258.7" r="2.45" fill="none" stroke="#000" stroke-width="0.55"/>
<circle cx="550.6" cy="257.6" r="2.45" fill="none" stroke="#000" stroke-width="0.55"/>
<circle cx="553.4" cy="270.3" r="2.45" fill="none" stroke="#000" stroke-width="0.55"/>
<circle cx="555.0" cy="264.8" r="2.45" fill="none" stroke="#000" stroke-width="0.55"/>
<circle cx="562.0" cy="257.1" r="2.45" fill="none" stroke="#000" stroke-width="0.55"/>
<circle cx="566.0" cy="268.1" r="2.45" fill="none" stroke="#000" stroke-width="0.55"/>
<circle cx="567.1" cy="269.2" r="2.45" fill="none" stroke="#000" stroke-width="0.55"/>
<circle cx="562.7" cy="276.9" r="2.45" fill="none" stroke="#000" stroke-width="0.55"/>
<circle cx="569.7" cy="275.2" r="2.45" fill="none" stroke="#000" stroke-width="0.55"/>
<circle cx="568.2" cy="279.8" r="2.45" fill="none" stroke="#000" stroke-width="0.55"/>
<circle cx="559.0" cy="286.6" r="2.45" fill="none" stroke="#000" stroke-width="0.55"/>
<circle cx="550.6" cy="293.5" r="2.45" fill="none" stroke="#000" stroke-width="0.55"/>
<circle cx="546.4" cy="300.1" r="2.45" fill="none" stroke="#000" stroke-width="0.55"/>
<circle cx="547.9" cy="302.5" r="2.45" fill="none" stroke="#000" stroke-width="0.55"/>
<circle cx="571.5" cy="297.9" r="2.45" fill="none" stroke="#000" stroke-width="0.55"/>
<circle cx="574.4" cy="297.9" r="2.45" fill="none" stroke="#000" stroke-width="0.55"/>
<circle cx="568.4" cy="309.3" r="2.45" fill="none" stroke="#000" stroke-width="0.55"/>
<circle cx="571.1" cy="318.4" r="2.45" fill="none" stroke="#000" stroke-width="0.55"/>
<circle cx="583.6" cy="275.2" r="2.45" fill="none" stroke="#000" stroke-width="0.55"/>
<circle cx="587.4" cy="268.1" r="2.45" fill="none" stroke="#000" stroke-width="0.55"/>
<circle cx="592.9" cy="286.6" r="2.45" fill="none" stroke="#000" stroke-width="0.55"/>
<circle cx="597.5" cy="282.0" r="2.45" fill="none" stroke="#000" stroke-width="0.55"/>
<circle cx="588.0" cy="210.8" r="2.45" fill="none" stroke="#000" stroke-width="0.55"/>
<circle cx="586.3" cy="217.9" r="2.45" fill="none" stroke="#000" stroke-width="0.55"/>
<circle cx="590.7" cy="215.3" r="2.45" fill="none" stroke="#000" stroke-width="0.55"/>
<circle cx="603.5" cy="202.0" r="2.45" fill="none" stroke="#000" stroke-width="0.55"/>
<circle cx="575.5" cy="236.2" r="2.45" fill="none" stroke="#000" stroke-width="0.55"/>
<circle cx="576.1" cy="238.4" r="2.45" fill="none" stroke="#000" stroke-width="0.55"/>
<circle cx="579.2" cy="246.1" r="2.45" fill="none" stroke="#000" stroke-width="0.55"/>
<circle cx="582.5" cy="246.1" r="2.45" fill="none" stroke="#000" stroke-width="0.55"/>
<circle cx="586.9" cy="250.5" r="2.45" fill="none" stroke="#000" stroke-width="0.55"/>
<circle cx="589.1" cy="256.0" r="2.45" fill="none" stroke="#000" stroke-width="0.55"/>
<circle cx="592.4" cy="250.5" r="2.45" fill="none" stroke="#000" stroke-width="0.55"/>
<circle cx="595.7" cy="254.9" r="2.45" fill="none" stroke="#000" stroke-width="0.55"/>
<circle cx="599.0" cy="250.5" r="2.45" fill="none" stroke="#000" stroke-width="0.55"/>
<circle cx="601.3" cy="256.0" r="2.45" fill="none" stroke="#000" stroke-width="0.55"/>
<circle cx="594.6" cy="238.4" r="2.45" fill="none" stroke="#000" stroke-width="0.55"/>
<circle cx="599.0" cy="240.6" r="2.45" fill="none" stroke="#000" stroke-width="0.55"/>
<circle cx="592.4" cy="232.9" r="2.45" fill="none" stroke="#000" stroke-width="0.55"/>
<circle cx="583.6" cy="252.7" r="2.45" fill="none" stroke="#000" stroke-width="0.55"/>
<circle cx="579.2" cy="252.7" r="2.45" fill="none" stroke="#000" stroke-width="0.55"/>
<circle cx="603.5" cy="215.3" r="2.45" fill="none" stroke="#000" stroke-width="0.55"/>
<circle cx="602.4" cy="220.8" r="2.45" fill="none" stroke="#000" stroke-width="0.55"/>
<circle cx="592.1" cy="176.8" r="2.45" fill="none" stroke="#000" stroke-width="0.55"/>
<circle cx="624.9" cy="176.8" r="2.45" fill="none" stroke="#000" stroke-width="0.55"/>
<circle cx="606.9" cy="193.0" r="2.45" fill="none" stroke="#000" stroke-width="0.55"/>
<circle cx="604.1" cy="202.0" r="2.45" fill="none" stroke="#000" stroke-width="0.55"/>
<circle cx="587.9" cy="210.8" r="2.45" fill="none" stroke="#000" stroke-width="0.55"/>
<circle cx="590.6" cy="215.7" r="2.45" fill="none" stroke="#000" stroke-width="0.55"/>
<circle cx="586.3" cy="218.1" r="2.45" fill="none" stroke="#000" stroke-width="0.55"/>
<circle cx="596.7" cy="220.0" r="2.45" fill="none" stroke="#000" stroke-width="0.55"/>
<circle cx="564.5" cy="224.6" r="2.45" fill="none" stroke="#000" stroke-width="0.55"/>
<circle cx="563.3" cy="247.9" r="2.45" fill="none" stroke="#000" stroke-width="0.55"/>
<circle cx="561.8" cy="257.9" r="2.45" fill="none" stroke="#000" stroke-width="0.55"/>
<circle cx="575.3" cy="235.9" r="2.45" fill="none" stroke="#000" stroke-width="0.55"/>
<circle cx="576.5" cy="238.3" r="2.45" fill="none" stroke="#000" stroke-width="0.55"/>
<circle cx="578.4" cy="238.3" r="2.45" fill="none" stroke="#000" stroke-width="0.55"/>
<circle cx="583.9" cy="244.5" r="2.45" fill="none" stroke="#000" stroke-width="0.55"/>
<circle cx="580.2" cy="248.1" r="2.45" fill="none" stroke="#000" stroke-width="0.55"/>
<circle cx="585.7" cy="250.0" r="2.45" fill="none" stroke="#000" stroke-width="0.55"/>
<circle cx="576.5" cy="253.0" r="2.45" fill="none" stroke="#000" stroke-width="0.55"/>
<circle cx="582.0" cy="253.0" r="2.45" fill="none" stroke="#000" stroke-width="0.55"/>
<circle cx="589.4" cy="256.7" r="2.45" fill="none" stroke="#000" stroke-width="0.55"/>
<circle cx="593.0" cy="250.6" r="2.45" fill="none" stroke="#000" stroke-width="0.55"/>
<circle cx="596.7" cy="250.0" r="2.45" fill="none" stroke="#000" stroke-width="0.55"/>
<circle cx="600.4" cy="250.6" r="2.45" fill="none" stroke="#000" stroke-width="0.55"/>
<circle cx="602.8" cy="254.9" r="2.45" fill="none" stroke="#000" stroke-width="0.55"/>
<circle cx="595.5" cy="254.2" r="2.45" fill="none" stroke="#000" stroke-width="0.55"/>
<circle cx="610.8" cy="254.2" r="2.45" fill="none" stroke="#000" stroke-width="0.55"/>
<circle cx="619.4" cy="250.0" r="2.45" fill="none" stroke="#000" stroke-width="0.55"/>
<circle cx="588.2" cy="238.3" r="2.45" fill="none" stroke="#000" stroke-width="0.55"/>
<circle cx="590.6" cy="238.3" r="2.45" fill="none" stroke="#000" stroke-width="0.55"/>
<circle cx="592.4" cy="230.4" r="2.45" fill="none" stroke="#000" stroke-width="0.55"/>
<circle cx="599.8" cy="240.8" r="2.45" fill="none" stroke="#000" stroke-width="0.55"/>
<circle cx="604.7" cy="238.3" r="2.45" fill="none" stroke="#000" stroke-width="0.55"/>
<circle cx="609.0" cy="241.4" r="2.45" fill="none" stroke="#000" stroke-width="0.55"/>
<circle cx="609.6" cy="243.2" r="2.45" fill="none" stroke="#000" stroke-width="0.55"/>
<circle cx="617.5" cy="238.3" r="2.45" fill="none" stroke="#000" stroke-width="0.55"/>
<circle cx="613.9" cy="234.1" r="2.45" fill="none" stroke="#000" stroke-width="0.55"/>
<circle cx="616.9" cy="233.4" r="2.45" fill="none" stroke="#000" stroke-width="0.55"/>
<circle cx="609.6" cy="231.0" r="2.45" fill="none" stroke="#000" stroke-width="0.55"/>
<circle cx="613.9" cy="228.5" r="2.45" fill="none" stroke="#000" stroke-width="0.55"/>
<circle cx="618.8" cy="229.2" r="2.45" fill="none" stroke="#000" stroke-width="0.55"/>
<circle cx="621.2" cy="229.2" r="2.45" fill="none" stroke="#000" stroke-width="0.55"/>
<circle cx="602.8" cy="226.7" r="2.45" fill="none" stroke="#000" stroke-width="0.55"/>
<circle cx="604.7" cy="226.7" r="2.45" fill="none" stroke="#000" stroke-width="0.55"/>
<circle cx="599.8" cy="229.8" r="2.45" fill="none" stroke="#000" stroke-width="0.55"/>
<circle cx="597.9" cy="234.7" r="2.45" fill="none" stroke="#000" stroke-width="0.55"/>
<circle cx="593.0" cy="233.4" r="2.45" fill="none" stroke="#000" stroke-width="0.55"/>
<circle cx="606.5" cy="216.3" r="2.45" fill="none" stroke="#000" stroke-width="0.55"/>
<circle cx="605.9" cy="218.1" r="2.45" fill="none" stroke="#000" stroke-width="0.55"/>
<circle cx="613.9" cy="216.9" r="2.45" fill="none" stroke="#000" stroke-width="0.55"/>
<circle cx="618.1" cy="222.4" r="2.45" fill="none" stroke="#000" stroke-width="0.55"/>
<circle cx="620.0" cy="222.4" r="2.45" fill="none" stroke="#000" stroke-width="0.55"/>
<circle cx="620.6" cy="215.7" r="2.45" fill="none" stroke="#000" stroke-width="0.55"/>
<circle cx="623.6" cy="207.1" r="2.45" fill="none" stroke="#000" stroke-width="0.55"/>
<circle cx="616.3" cy="197.9" r="2.45" fill="none" stroke="#000" stroke-width="0.55"/>
<circle cx="617.5" cy="200.4" r="2.45" fill="none" stroke="#000" stroke-width="0.55"/>
<circle cx="628.9" cy="231.6" r="2.45" fill="none" stroke="#000" stroke-width="0.55"/>
<circle cx="636.9" cy="231.6" r="2.45" fill="none" stroke="#000" stroke-width="0.55"/>
<circle cx="643.0" cy="224.9" r="2.45" fill="none" stroke="#000" stroke-width="0.55"/>
<circle cx="644.5" cy="218.8" r="2.45" fill="none" stroke="#000" stroke-width="0.55"/>
<circle cx="645.7" cy="220.6" r="2.45" fill="none" stroke="#000" stroke-width="0.55"/>
<circle cx="649.4" cy="213.2" r="2.45" fill="none" stroke="#000" stroke-width="0.55"/>
<circle cx="640.8" cy="209.0" r="2.45" fill="none" stroke="#000" stroke-width="0.55"/>
<circle cx="632.2" cy="218.1" r="2.45" fill="none" stroke="#000" stroke-width="0.55"/>
<circle cx="627.9" cy="220.0" r="2.45" fill="none" stroke="#000" stroke-width="0.55"/>
<circle cx="635.9" cy="220.0" r="2.45" fill="none" stroke="#000" stroke-width="0.55"/>
<circle cx="633.4" cy="213.9" r="2.45" fill="none" stroke="#000" stroke-width="0.55"/>
<circle cx="659.1" cy="223.0" r="2.45" fill="none" stroke="#000" stroke-width="0.55"/>
<circle cx="655.5" cy="167.3" r="2.45" fill="none" stroke="#000" stroke-width="0.55"/>
<circle cx="659.1" cy="168.6" r="2.45" fill="none" stroke="#000" stroke-width="0.55"/>
<circle cx="591.9" cy="176.3" r="2.45" fill="none" stroke="#000" stroke-width="0.55"/>
<circle cx="624.9" cy="176.3" r="2.45" fill="none" stroke="#000" stroke-width="0.55"/>
<circle cx="606.7" cy="193.0" r="2.45" fill="none" stroke="#000" stroke-width="0.55"/>
<circle cx="604.0" cy="201.6" r="2.45" fill="none" stroke="#000" stroke-width="0.55"/>
<circle cx="683.7" cy="215.6" r="2.45" fill="none" stroke="#000" stroke-width="0.55"/>
<circle cx="724.9" cy="190.7" r="2.45" fill="none" stroke="#000" stroke-width="0.55"/>
<circle cx="726.0" cy="179.1" r="2.45" fill="none" stroke="#000" stroke-width="0.55"/>
<circle cx="733.0" cy="174.4" r="2.45" fill="none" stroke="#000" stroke-width="0.55"/>
<circle cx="756.3" cy="155.8" r="2.45" fill="none" stroke="#000" stroke-width="0.55"/>
<circle cx="658.6" cy="222.6" r="2.45" fill="none" stroke="#000" stroke-width="0.55"/>
<circle cx="636.5" cy="231.9" r="2.45" fill="none" stroke="#000" stroke-width="0.55"/>
<circle cx="628.8" cy="231.9" r="2.45" fill="none" stroke="#000" stroke-width="0.55"/>
<circle cx="619.1" cy="250.0" r="2.45" fill="none" stroke="#000" stroke-width="0.55"/>
<circle cx="610.9" cy="254.2" r="2.45" fill="none" stroke="#000" stroke-width="0.55"/>
<circle cx="602.8" cy="254.2" r="2.45" fill="none" stroke="#000" stroke-width="0.55"/>
<circle cx="598.1" cy="282.6" r="2.45" fill="none" stroke="#000" stroke-width="0.55"/>
<circle cx="593.5" cy="286.0" r="2.45" fill="none" stroke="#000" stroke-width="0.55"/>
<circle cx="617.9" cy="239.1" r="2.45" fill="none" stroke="#000" stroke-width="0.55"/>
<circle cx="655.1" cy="167.4" r="2.45" fill="none" stroke="#000" stroke-width="0.55"/>
<circle cx="680.7" cy="154.0" r="2.45" fill="none" stroke="#000" stroke-width="0.55"/>
<circle cx="720.2" cy="176.7" r="2.45" fill="none" stroke="#000" stroke-width="0.55"/>
<circle cx="716.7" cy="174.4" r="2.45" fill="none" stroke="#000" stroke-width="0.55"/>
<circle cx="666.7" cy="211.2" r="2.45" fill="none" stroke="#000" stroke-width="0.55"/>
<circle cx="657.4" cy="211.2" r="2.45" fill="none" stroke="#000" stroke-width="0.55"/>
<circle cx="649.3" cy="213.3" r="2.45" fill="none" stroke="#000" stroke-width="0.55"/>
<circle cx="643.5" cy="218.6" r="2.45" fill="none" stroke="#000" stroke-width="0.55"/>
<circle cx="642.3" cy="225.6" r="2.45" fill="none" stroke="#000" stroke-width="0.55"/>
<circle cx="631.9" cy="218.6" r="2.45" fill="none" stroke="#000" stroke-width="0.55"/>
<circle cx="627.2" cy="220.9" r="2.45" fill="none" stroke="#000" stroke-width="0.55"/>
<circle cx="624.9" cy="223.3" r="2.45" fill="none" stroke="#000" stroke-width="0.55"/>
<circle cx="621.4" cy="217.4" r="2.45" fill="none" stroke="#000" stroke-width="0.55"/>
<circle cx="613.3" cy="226.7" r="2.45" fill="none" stroke="#000" stroke-width="0.55"/>
<circle cx="608.6" cy="230.2" r="2.45" fill="none" stroke="#000" stroke-width="0.55"/>
<circle cx="613.3" cy="234.4" r="2.45" fill="none" stroke="#000" stroke-width="0.55"/>
<circle cx="617.9" cy="232.6" r="2.45" fill="none" stroke="#000" stroke-width="0.55"/>
<circle cx="607.4" cy="239.5" r="2.45" fill="none" stroke="#000" stroke-width="0.55"/>
<circle cx="609.8" cy="243.0" r="2.45" fill="none" stroke="#000" stroke-width="0.55"/>
<circle cx="604.0" cy="239.5" r="2.45" fill="none" stroke="#000" stroke-width="0.55"/>
<circle cx="599.3" cy="241.2" r="2.45" fill="none" stroke="#000" stroke-width="0.55"/>
<circle cx="594.7" cy="248.8" r="2.45" fill="none" stroke="#000" stroke-width="0.55"/>
<circle cx="599.3" cy="251.2" r="2.45" fill="none" stroke="#000" stroke-width="0.55"/>
<circle cx="592.3" cy="248.8" r="2.45" fill="none" stroke="#000" stroke-width="0.55"/>
<circle cx="591.2" cy="239.5" r="2.45" fill="none" stroke="#000" stroke-width="0.55"/>
<circle cx="590.0" cy="258.1" r="2.45" fill="none" stroke="#000" stroke-width="0.55"/>
<circle cx="643.1" cy="190.1" r="2.45" fill="none" stroke="#000" stroke-width="0.55"/>
<circle cx="644.0" cy="198.8" r="2.45" fill="none" stroke="#000" stroke-width="0.55"/>
<circle cx="647.1" cy="199.7" r="2.45" fill="none" stroke="#000" stroke-width="0.55"/>
<circle cx="647.4" cy="201.1" r="2.45" fill="none" stroke="#000" stroke-width="0.55"/>
<circle cx="656.8" cy="201.0" r="2.45" fill="none" stroke="#000" stroke-width="0.55"/>
<circle cx="632.5" cy="207.0" r="2.45" fill="none" stroke="#000" stroke-width="0.55"/>
<circle cx="610.9" cy="228.8" r="2.45" fill="none" stroke="#000" stroke-width="0.55"/>
<circle cx="602.6" cy="221.8" r="2.45" fill="none" stroke="#000" stroke-width="0.55"/>
<circle cx="706.1" cy="195.5" r="2.45" fill="none" stroke="#000" stroke-width="0.55"/>
<circle cx="655.6" cy="198.3" r="2.45" fill="none" stroke="#000" stroke-width="0.55"/>
<circle cx="619.2" cy="227.0" r="2.45" fill="none" stroke="#000" stroke-width="0.55"/>
<circle cx="606.0" cy="229.8" r="2.45" fill="none" stroke="#000" stroke-width="0.55"/>
<circle cx="622.6" cy="215.9" r="2.45" fill="none" stroke="#000" stroke-width="0.55"/>
<circle cx="643.9" cy="206.4" r="2.45" fill="none" stroke="#000" stroke-width="0.55"/>
<circle cx="642.3" cy="209.9" r="2.45" fill="none" stroke="#000" stroke-width="0.55"/>
<circle cx="657.7" cy="192.7" r="2.45" fill="none" stroke="#000" stroke-width="0.55"/>
<circle cx="646.5" cy="199.7" r="2.45" fill="none" stroke="#000" stroke-width="0.55"/>
<circle cx="630.4" cy="204.5" r="2.45" fill="none" stroke="#000" stroke-width="0.55"/>
<circle cx="715.0" cy="195.4" r="2.45" fill="none" stroke="#000" stroke-width="0.55"/>
<circle cx="663.8" cy="197.7" r="2.45" fill="none" stroke="#000" stroke-width="0.55"/>
<circle cx="633.4" cy="210.3" r="2.45" fill="none" stroke="#000" stroke-width="0.55"/>
<circle cx="607.8" cy="233.2" r="2.45" fill="none" stroke="#000" stroke-width="0.55"/>
<circle cx="669.8" cy="185.6" r="2.45" fill="none" stroke="#000" stroke-width="0.55"/>
<circle cx="638.6" cy="214.7" r="2.45" fill="none" stroke="#000" stroke-width="0.55"/>
<circle cx="698.7" cy="188.5" r="2.45" fill="none" stroke="#000" stroke-width="0.55"/>
<circle cx="624.5" cy="214.2" r="2.45" fill="none" stroke="#000" stroke-width="0.55"/>
<circle cx="688.9" cy="172.1" r="2.45" fill="none" stroke="#000" stroke-width="0.55"/>
<circle cx="639.3" cy="210.0" r="2.45" fill="none" stroke="#000" stroke-width="0.55"/>
<circle cx="608.3" cy="218.7" r="2.45" fill="none" stroke="#000" stroke-width="0.55"/>
<circle cx="629.8" cy="202.6" r="2.45" fill="none" stroke="#000" stroke-width="0.55"/>
<circle cx="610.4" cy="216.3" r="2.45" fill="none" stroke="#000" stroke-width="0.55"/>
<circle cx="668.9" cy="212.5" r="2.45" fill="none" stroke="#000" stroke-width="0.55"/>
<circle cx="614.6" cy="222.1" r="2.45" fill="none" stroke="#000" stroke-width="0.55"/>
<circle cx="606.1" cy="232.2" r="2.45" fill="none" stroke="#000" stroke-width="0.55"/>
<circle cx="673.2" cy="199.6" r="2.45" fill="none" stroke="#000" stroke-width="0.55"/>
<circle cx="642.7" cy="213.1" r="2.45" fill="none" stroke="#000" stroke-width="0.55"/>
<circle cx="622.6" cy="215.4" r="2.45" fill="none" stroke="#000" stroke-width="0.55"/>
<circle cx="658.0" cy="196.0" r="2.45" fill="none" stroke="#000" stroke-width="0.55"/>
<circle cx="614.4" cy="217.9" r="2.45" fill="none" stroke="#000" stroke-width="0.55"/>
<circle cx="629.8" cy="213.8" r="2.45" fill="none" stroke="#000" stroke-width="0.55"/>
<circle cx="702.3" cy="189.1" r="2.45" fill="none" stroke="#000" stroke-width="0.55"/>
<circle cx="684.7" cy="187.0" r="2.45" fill="none" stroke="#000" stroke-width="0.55"/>
<circle cx="624.6" cy="203.5" r="2.45" fill="none" stroke="#000" stroke-width="0.55"/>
<circle cx="657.8" cy="208.2" r="2.45" fill="none" stroke="#000" stroke-width="0.55"/>
<circle cx="612.3" cy="228.6" r="2.45" fill="none" stroke="#000" stroke-width="0.55"/>
<circle cx="628.8" cy="211.7" r="2.45" fill="none" stroke="#000" stroke-width="0.55"/>
<circle cx="670.5" cy="193.6" r="2.45" fill="none" stroke="#000" stroke-width="0.55"/>
<circle cx="608.3" cy="232.2" r="2.45" fill="none" stroke="#000" stroke-width="0.55"/>
<circle cx="610.9" cy="220.4" r="2.45" fill="none" stroke="#000" stroke-width="0.55"/>
<circle cx="654.4" cy="198.4" r="2.45" fill="none" stroke="#000" stroke-width="0.55"/>
<circle cx="637.5" cy="190.4" r="2.45" fill="none" stroke="#000" stroke-width="0.55"/>
<circle cx="645.3" cy="209.3" r="2.45" fill="none" stroke="#000" stroke-width="0.55"/>
<circle cx="652.2" cy="204.7" r="2.45" fill="none" stroke="#000" stroke-width="0.55"/>
<circle cx="618.8" cy="215.4" r="2.45" fill="none" stroke="#000" stroke-width="0.55"/>
<circle cx="688.6" cy="193.6" r="2.45" fill="none" stroke="#000" stroke-width="0.55"/>
<circle cx="622.5" cy="211.1" r="2.45" fill="none" stroke="#000" stroke-width="0.55"/>
<circle cx="667.0" cy="201.6" r="2.45" fill="none" stroke="#000" stroke-width="0.55"/>
<circle cx="696.8" cy="187.3" r="2.45" fill="none" stroke="#000" stroke-width="0.55"/>
<circle cx="684.3" cy="186.9" r="2.45" fill="none" stroke="#000" stroke-width="0.55"/>
<circle cx="612.8" cy="219.0" r="2.45" fill="none" stroke="#000" stroke-width="0.55"/>
<circle cx="602.0" cy="237.4" r="2.45" fill="none" stroke="#000" stroke-width="0.55"/>
<circle cx="663.5" cy="196.9" r="2.45" fill="none" stroke="#000" stroke-width="0.55"/>
<circle cx="628.7" cy="216.2" r="2.45" fill="none" stroke="#000" stroke-width="0.55"/>
<circle cx="631.7" cy="202.0" r="2.45" fill="none" stroke="#000" stroke-width="0.55"/>
<circle cx="621.1" cy="216.5" r="2.45" fill="none" stroke="#000" stroke-width="0.55"/>
<circle cx="626.2" cy="210.8" r="2.45" fill="none" stroke="#000" stroke-width="0.55"/>
<circle cx="651.0" cy="207.9" r="2.45" fill="none" stroke="#000" stroke-width="0.55"/>
<circle cx="630.6" cy="203.3" r="2.45" fill="none" stroke="#000" stroke-width="0.55"/>
<circle cx="690.1" cy="191.3" r="2.45" fill="none" stroke="#000" stroke-width="0.55"/>
<circle cx="629.7" cy="212.7" r="2.45" fill="none" stroke="#000" stroke-width="0.55"/>
<circle cx="642.6" cy="209.1" r="2.45" fill="none" stroke="#000" stroke-width="0.55"/>
<circle cx="637.3" cy="209.0" r="2.45" fill="none" stroke="#000" stroke-width="0.55"/>
<circle cx="652.0" cy="206.3" r="2.45" fill="none" stroke="#000" stroke-width="0.55"/>
<circle cx="685.7" cy="197.2" r="2.45" fill="none" stroke="#000" stroke-width="0.55"/>
<circle cx="705.5" cy="179.9" r="2.45" fill="none" stroke="#000" stroke-width="0.55"/>
<circle cx="631.9" cy="172.1" r="2.6" fill="#000"/>
<circle cx="710.9" cy="193.0" r="2.6" fill="#000"/>
<circle cx="651.6" cy="220.2" r="2.6" fill="#000"/>
<circle cx="639.5" cy="222.1" r="2.6" fill="#000"/>
<circle cx="634.2" cy="213.3" r="2.6" fill="#000"/>
<circle cx="617.9" cy="210.9" r="2.6" fill="#000"/>
<circle cx="632.2" cy="172.2" r="2.6" fill="#000"/>
<circle cx="633.4" cy="190.0" r="2.6" fill="#000"/>
<circle cx="626.1" cy="188.8" r="2.6" fill="#000"/>
<circle cx="623.6" cy="194.9" r="2.6" fill="#000"/>
<circle cx="626.7" cy="202.2" r="2.6" fill="#000"/>
<circle cx="630.4" cy="202.2" r="2.6" fill="#000"/>
<circle cx="632.2" cy="205.9" r="2.6" fill="#000"/>
<circle cx="610.8" cy="206.5" r="2.6" fill="#000"/>
<circle cx="616.3" cy="210.8" r="2.6" fill="#000"/>
<circle cx="619.4" cy="210.8" r="2.6" fill="#000"/>
<circle cx="634.7" cy="213.2" r="2.6" fill="#000"/>
<circle cx="639.8" cy="222.4" r="2.6" fill="#000"/>
<circle cx="652.0" cy="220.0" r="2.6" fill="#000"/>
<circle cx="638.3" cy="195.5" r="2.6" fill="#000"/>
<circle cx="673.0" cy="186.4" r="2.6" fill="#000"/>
<circle cx="638.8" cy="204.6" r="2.6" fill="#000"/>
<circle cx="698.1" cy="185.8" r="2.6" fill="#000"/>
<circle cx="682.0" cy="191.4" r="2.6" fill="#000"/>
<circle cx="677.0" cy="191.5" r="2.6" fill="#000"/>
<circle cx="665.1" cy="194.2" r="2.6" fill="#000"/>
<circle cx="705.0" cy="178.7" r="2.6" fill="#000"/>
<circle cx="633.8" cy="198.5" r="2.6" fill="#000"/>
<circle cx="697.3" cy="183.5" r="2.6" fill="#000"/>
<circle cx="684.8" cy="187.0" r="2.6" fill="#000"/>
<circle cx="698.5" cy="177.0" r="2.6" fill="#000"/>
<circle cx="655.1" cy="193.5" r="2.6" fill="#000"/>
<circle cx="695.1" cy="176.6" r="2.6" fill="#000"/>
<circle cx="660.1" cy="198.5" r="2.6" fill="#000"/>
<circle cx="672.1" cy="183.3" r="2.6" fill="#000"/>
<circle cx="676.1" cy="187.1" r="2.6" fill="#000"/>
<circle cx="674.9" cy="196.7" r="2.6" fill="#000"/>
<circle cx="634.2" cy="196.0" r="2.6" fill="#000"/>
<circle cx="695.7" cy="174.1" r="2.6" fill="#000"/>
<circle cx="684.1" cy="183.6" r="2.6" fill="#000"/>
<circle cx="672.7" cy="198.1" r="2.6" fill="#000"/>
<circle cx="661.9" cy="196.6" r="2.6" fill="#000"/>
<circle cx="685.8" cy="187.5" r="2.6" fill="#000"/>
<circle cx="630.3" cy="203.6" r="2.6" fill="#000"/>
<circle cx="645.7" cy="197.6" r="2.6" fill="#000"/>
<circle cx="681.8" cy="183.6" r="2.6" fill="#000"/>
<circle cx="698.9" cy="185.5" r="2.6" fill="#000"/>
<circle cx="647.7" cy="204.5" r="2.6" fill="#000"/>
<circle cx="680.2" cy="191.2" r="2.6" fill="#000"/>
<circle cx="643.6" cy="207.0" r="2.6" fill="#000"/>
<circle cx="678.8" cy="200.8" r="2.6" fill="#000"/>
<circle cx="662.0" cy="199.0" r="2.6" fill="#000"/>
<circle cx="679.3" cy="188.4" r="2.6" fill="#000"/>
<circle cx="643.3" cy="193.6" r="2.6" fill="#000"/>
<circle cx="698.4" cy="189.3" r="2.6" fill="#000"/>
<circle cx="695.8" cy="181.3" r="2.6" fill="#000"/>
<circle cx="652.4" cy="203.1" r="2.6" fill="#000"/>
<circle cx="638.5" cy="194.3" r="2.6" fill="#000"/>
<circle cx="693.4" cy="187.2" r="2.6" fill="#000"/>
<circle cx="682.8" cy="194.0" r="2.6" fill="#000"/>
<circle cx="641.0" cy="201.4" r="2.6" fill="#000"/>
<circle cx="662.7" cy="194.8" r="2.6" fill="#000"/>
<circle cx="659.9" cy="199.5" r="2.6" fill="#000"/>
<circle cx="676.2" cy="187.6" r="2.6" fill="#000"/>
<circle cx="692.6" cy="187.4" r="2.6" fill="#000"/>
<circle cx="703.6" cy="181.7" r="2.6" fill="#000"/>
<circle cx="630.4" cy="208.7" r="2.6" fill="#000"/>
<circle cx="695.2" cy="194.0" r="2.6" fill="#000"/>
<circle cx="671.9" cy="195.0" r="2.6" fill="#000"/>
<circle cx="651.8" cy="199.1" r="2.6" fill="#000"/>
<circle cx="638.5" cy="202.9" r="2.6" fill="#000"/>
<circle cx="663.0" cy="204.5" r="2.6" fill="#000"/>
<circle cx="646.3" cy="202.3" r="2.6" fill="#000"/>
<circle cx="638.8" cy="210.4" r="2.6" fill="#000"/>
<circle cx="662.4" cy="197.5" r="2.6" fill="#000"/>
<circle cx="676.5" cy="186.8" r="2.6" fill="#000"/>
<circle cx="701.8" cy="176.8" r="2.6" fill="#000"/>
<circle cx="680.7" cy="192.6" r="2.6" fill="#000"/>
<circle cx="641.8" cy="207.8" r="2.6" fill="#000"/>
<circle cx="628.8" cy="201.2" r="2.6" fill="#000"/>
<circle cx="641.8" cy="203.7" r="2.6" fill="#000"/>
<circle cx="649.0" cy="195.5" r="2.6" fill="#000"/>
<circle cx="668.1" cy="200.4" r="2.6" fill="#000"/>
<circle cx="675.3" cy="192.4" r="2.6" fill="#000"/>
<circle cx="689.0" cy="183.3" r="2.6" fill="#000"/>
<circle cx="697.8" cy="195.6" r="2.6" fill="#000"/>
<circle cx="683.6" cy="196.0" r="2.6" fill="#000"/>
<circle cx="638.0" cy="197.4" r="2.6" fill="#000"/>
<circle cx="698.1" cy="187.6" r="2.6" fill="#000"/>
<circle cx="657.0" cy="187.7" r="2.6" fill="#000"/>
<polygon points="731.9,114.0 736.7,123.2 727.1,123.2" fill="#000"/>
<polygon points="732.3,128.0 737.1,137.2 727.5,137.2" fill="#000"/>
<polygon points="740.0,132.6 744.8,141.8 735.2,141.8" fill="#000"/>
<polygon points="709.8,132.1 714.6,141.3 705.0,141.3" fill="#000"/>
<polygon points="742.3,136.8 747.1,146.0 737.5,146.0" fill="#000"/>
<polygon points="754.0,138.4 758.8,147.6 749.2,147.6" fill="#000"/>
<polygon points="728.4,140.7 733.2,149.9 723.6,149.9" fill="#000"/>
<polygon points="732.3,139.1 737.1,148.3 727.5,148.3" fill="#000"/>
<polygon points="723.0,145.4 727.8,154.6 718.2,154.6" fill="#000"/>
<polygon points="750.0,144.2 754.8,153.4 745.2,153.4" fill="#000"/>
<polygon points="756.3,148.9 761.1,158.1 751.5,158.1" fill="#000"/>
<polygon points="709.8,145.4 714.6,154.6 705.0,154.6" fill="#000"/>
<polygon points="714.4,148.4 719.2,157.6 709.6,157.6" fill="#000"/>
<polygon points="720.2,148.4 725.0,157.6 715.4,157.6" fill="#000"/>
<polygon points="710.9,151.2 715.7,160.4 706.1,160.4" fill="#000"/>
<polygon points="733.5,150.1 738.3,159.3 728.7,159.3" fill="#000"/>
<polygon points="735.3,157.7 740.1,166.9 730.5,166.9" fill="#000"/>
<polygon points="741.2,164.0 746.0,173.2 736.4,173.2" fill="#000"/>
<polygon points="738.8,168.7 743.6,177.9 734.0,177.9" fill="#000"/>
<polygon points="724.9,162.8 729.7,172.0 720.1,172.0" fill="#000"/>
<polygon points="681.9,150.5 686.7,159.7 677.1,159.7" fill="#000"/>
<polygon points="634.2,157.5 639.0,166.7 629.4,166.7" fill="#000"/>
<polygon points="620.7,164.5 625.5,173.7 615.9,173.7" fill="#000"/>
<polygon points="605.6,182.1 610.4,191.3 600.8,191.3" fill="#000"/>
<polygon points="641.6,168.7 646.4,177.9 636.8,177.9" fill="#000"/>
<polygon points="664.4,161.2 669.2,170.4 659.6,170.4" fill="#000"/>
<polygon points="652.8,167.0 657.6,176.2 648.0,176.2" fill="#000"/>
<polygon points="697.7,188.4 702.5,197.6 692.9,197.6" fill="#000"/>
<polygon points="692.3,162.8 697.1,172.0 687.5,172.0" fill="#000"/>
<polygon points="698.1,165.2 702.9,174.4 693.3,174.4" fill="#000"/>
<polygon points="713.3,161.7 718.1,170.9 708.5,170.9" fill="#000"/>
<polygon points="712.1,173.3 716.9,182.5 707.3,182.5" fill="#000"/>
<polygon points="704.0,169.8 708.8,179.0 699.2,179.0" fill="#000"/>
<polygon points="687.7,172.1 692.5,181.3 682.9,181.3" fill="#000"/>
<polygon points="678.4,174.5 683.2,183.7 673.6,183.7" fill="#000"/>
<polygon points="669.1,175.6 673.9,184.8 664.3,184.8" fill="#000"/>
<polygon points="664.4,176.8 669.2,186.0 659.6,186.0" fill="#000"/>
<polygon points="659.8,180.3 664.6,189.5 655.0,189.5" fill="#000"/>
<polygon points="652.8,182.6 657.6,191.8 648.0,191.8" fill="#000"/>
<polygon points="645.8,187.3 650.6,196.5 641.0,196.5" fill="#000"/>
<polygon points="640.0,183.8 644.8,193.0 635.2,193.0" fill="#000"/>
<polygon points="647.0,193.1 651.8,202.3 642.2,202.3" fill="#000"/>
<polygon points="652.8,195.4 657.6,204.6 648.0,204.6" fill="#000"/>
<polygon points="657.4,190.7 662.2,199.9 652.6,199.9" fill="#000"/>
<polygon points="664.4,187.3 669.2,196.5 659.6,196.5" fill="#000"/>
<polygon points="671.4,183.8 676.2,193.0 666.6,193.0" fill="#000"/>
<polygon points="678.4,184.9 683.2,194.1 673.6,194.1" fill="#000"/>
<polygon points="685.3,182.6 690.1,191.8 680.5,191.8" fill="#000"/>
<polygon points="692.3,179.1 697.1,188.3 687.5,188.3" fill="#000"/>
<polygon points="697.0,174.5 701.8,183.7 692.2,183.7" fill="#000"/>
<polygon points="690.0,188.4 694.8,197.6 685.2,197.6" fill="#000"/>
<polygon points="683.0,188.4 687.8,197.6 678.2,197.6" fill="#000"/>
<polygon points="659.8,197.7 664.6,206.9 655.0,206.9" fill="#000"/>
<polygon points="651.6,201.2 656.4,210.4 646.8,210.4" fill="#000"/>
<polygon points="643.5,195.4 648.3,204.6 638.7,204.6" fill="#000"/>
<polygon points="637.7,191.9 642.5,201.1 632.9,201.1" fill="#000"/>
<polygon points="701.6,181.4 706.4,190.6 696.8,190.6" fill="#000"/>
<polygon points="705.1,175.6 709.9,184.8 700.3,184.8" fill="#000"/>
<polygon points="673.7,169.8 678.5,179.0 668.9,179.0" fill="#000"/>
<polygon points="670.2,188.4 675.0,197.6 665.4,197.6" fill="#000"/>
<polygon points="677.2,180.3 682.0,189.5 672.4,189.5" fill="#000"/>
<polygon points="662.1,194.2 666.9,203.4 657.3,203.4" fill="#000"/>
<polygon points="656.3,184.9 661.1,194.1 651.5,194.1" fill="#000"/>
<polygon points="649.3,189.6 654.1,198.8 644.5,198.8" fill="#000"/>
<polygon points="722.8,145.6 727.6,154.8 718.0,154.8" fill="#000"/>
<polygon points="719.1,148.3 723.9,157.5 714.3,157.5" fill="#000"/>
<polygon points="727.4,141.0 732.2,150.2 722.6,150.2" fill="#000"/>
<polygon points="675.1,164.9 679.9,174.1 670.3,174.1" fill="#000"/>
<polygon points="695.3,162.1 700.1,171.3 690.5,171.3" fill="#000"/>
<polygon points="698.9,169.5 703.7,178.7 694.1,178.7" fill="#000"/>
<polygon points="664.1,161.2 668.9,170.4 659.3,170.4" fill="#000"/>
<polygon points="685.2,172.2 690.0,181.4 680.4,181.4" fill="#000"/>
<rect x="433.2" y="259.5" width="6.6" height="6.6" fill="#000"/>
<rect x="436.7" y="248.3" width="6.6" height="6.6" fill="#000"/>
<rect x="448.1" y="262.0" width="6.6" height="6.6" fill="#000"/>
<rect x="454.3" y="250.9" width="6.6" height="6.6" fill="#000"/>
<rect x="460.0" y="252.9" width="6.6" height="6.6" fill="#000"/>
<rect x="471.1" y="247.2" width="6.6" height="6.6" fill="#000"/>
<rect x="475.7" y="236.6" width="6.6" height="6.6" fill="#000"/>
<rect x="481.4" y="247.6" width="6.6" height="6.6" fill="#000"/>
<rect x="500.6" y="239.5" width="6.6" height="6.6" fill="#000"/>
<path d="M436.5,562.6V573.6M431.8,562.6h9.4M431.8,573.6h9.4" stroke="#000" stroke-width="1" fill="none" opacity="0.7"/>
<path d="M440.0,544.3V576.9M435.3,544.3h9.4M435.3,576.9h9.4" stroke="#000" stroke-width="1" fill="none" opacity="0.7"/>
<path d="M451.4,570.3V592.4M446.7,570.3h9.4M446.7,592.4h9.4" stroke="#000" stroke-width="1" fill="none" opacity="0.7"/>
<path d="M457.6,552.7V588.0M452.9,552.7h9.4M452.9,588.0h9.4" stroke="#000" stroke-width="1" fill="none" opacity="0.7"/>
<path d="M463.3,542.3V585.8M458.6,542.3h9.4M458.6,585.8h9.4" stroke="#000" stroke-width="1" fill="none" opacity="0.7"/>
<path d="M474.4,529.6V603.4M469.7,529.6h9.4M469.7,603.4h9.4" stroke="#000" stroke-width="1" fill="none" opacity="0.7"/>
<path d="M479.0,529.6V580.2M474.3,529.6h9.4M474.3,580.2h9.4" stroke="#000" stroke-width="1" fill="none" opacity="0.7"/>
<path d="M484.7,527.4V613.3M480.0,527.4h9.4M480.0,613.3h9.4" stroke="#000" stroke-width="1" fill="none" opacity="0.7"/>
<path d="M503.9,550.5V587.3M499.2,550.5h9.4M499.2,587.3h9.4" stroke="#000" stroke-width="1" fill="none" opacity="0.7"/>
<path d="M432.6,528.4L441.6,537.4M432.6,537.4L441.6,528.4" stroke="#000" stroke-width="0.9" fill="none"/>
<path d="M434.2,526.6L443.2,535.6M434.2,535.6L443.2,526.6" stroke="#000" stroke-width="0.9" fill="none"/>
<path d="M448.0,538.3L457.0,547.3M448.0,547.3L457.0,538.3" stroke="#000" stroke-width="0.9" fill="none"/>
<path d="M453.5,544.9L462.5,553.9M453.5,553.9L462.5,544.9" stroke="#000" stroke-width="0.9" fill="none"/>
<path d="M459.1,533.9L468.1,542.9M459.1,542.9L468.1,533.9" stroke="#000" stroke-width="0.9" fill="none"/>
<path d="M467.9,528.4L476.9,537.4M467.9,537.4L476.9,528.4" stroke="#000" stroke-width="0.9" fill="none"/>
<path d="M474.5,538.3L483.5,547.3M474.5,547.3L483.5,538.3" stroke="#000" stroke-width="0.9" fill="none"/>
<path d="M484.4,528.4L493.4,537.4M484.4,537.4L493.4,528.4" stroke="#000" stroke-width="0.9" fill="none"/>
<path d="M486.6,535.0L495.6,544.0M486.6,544.0L495.6,535.0" stroke="#000" stroke-width="0.9" fill="none"/>
<path d="M432.6,571.3L441.6,580.3M432.6,580.3L441.6,571.3" stroke="#000" stroke-width="0.9" fill="none"/>
<path d="M439.2,558.1L448.2,567.1M439.2,567.1L448.2,558.1" stroke="#000" stroke-width="0.9" fill="none"/>
<path d="M443.6,575.7L452.6,584.7M443.6,584.7L452.6,575.7" stroke="#000" stroke-width="0.9" fill="none"/>
<path d="M450.2,552.6L459.2,561.6M450.2,561.6L459.2,552.6" stroke="#000" stroke-width="0.9" fill="none"/>
<path d="M456.9,579.0L465.9,588.0M456.9,588.0L465.9,579.0" stroke="#000" stroke-width="0.9" fill="none"/>
<path d="M464.6,551.5L473.6,560.5M464.6,560.5L473.6,551.5" stroke="#000" stroke-width="0.9" fill="none"/>
<path d="M467.9,559.2L476.9,568.2M467.9,568.2L476.9,559.2" stroke="#000" stroke-width="0.9" fill="none"/>
<path d="M478.9,575.7L487.9,584.7M478.9,584.7L487.9,575.7" stroke="#000" stroke-width="0.9" fill="none"/>
<path d="M484.4,576.8L493.4,585.8M484.4,585.8L493.4,576.8" stroke="#000" stroke-width="0.9" fill="none"/>
<path d="M491.0,551.5L500.0,560.5M491.0,560.5L500.0,551.5" stroke="#000" stroke-width="0.9" fill="none"/>
<path d="M496.5,554.8L505.5,563.8M496.5,563.8L505.5,554.8" stroke="#000" stroke-width="0.9" fill="none"/>
<path d="M499.8,552.6L508.8,561.6M499.8,561.6L508.8,552.6" stroke="#000" stroke-width="0.9" fill="none"/>
<path d="M495.4,571.3L504.4,580.3M495.4,580.3L504.4,571.3" stroke="#000" stroke-width="0.9" fill="none"/>
<path d="M499.8,570.2L508.8,579.2M499.8,579.2L508.8,570.2" stroke="#000" stroke-width="0.9" fill="none"/>
<path d="M513.0,585.7L522.0,594.7M513.0,594.7L522.0,585.7" stroke="#000" stroke-width="0.9" fill="none"/>
<path d="M518.5,564.7L527.5,573.7M518.5,573.7L527.5,564.7" stroke="#000" stroke-width="0.9" fill="none"/>
<path d="M518.5,572.4L527.5,581.4M518.5,581.4L527.5,572.4" stroke="#000" stroke-width="0.9" fill="none"/>
<path d="M528.5,530.6L537.5,539.6M528.5,539.6L537.5,530.6" stroke="#000" stroke-width="0.9" fill="none"/>
<path d="M531.8,538.3L540.8,547.3M531.8,547.3L540.8,538.3" stroke="#000" stroke-width="0.9" fill="none"/>
<path d="M528.5,546.0L537.5,555.0M528.5,555.0L537.5,546.0" stroke="#000" stroke-width="0.9" fill="none"/>
<path d="M529.6,552.6L538.6,561.6M529.6,561.6L538.6,552.6" stroke="#000" stroke-width="0.9" fill="none"/>
<path d="M532.9,557.0L541.9,566.0M532.9,566.0L541.9,557.0" stroke="#000" stroke-width="0.9" fill="none"/>
<path d="M540.6,570.2L549.6,579.2M540.6,579.2L549.6,570.2" stroke="#000" stroke-width="0.9" fill="none"/>
<path d="M545.0,541.6L554.0,550.6M545.0,550.6L554.0,541.6" stroke="#000" stroke-width="0.9" fill="none"/>
<path d="M550.5,541.6L559.5,550.6M550.5,550.6L559.5,541.6" stroke="#000" stroke-width="0.9" fill="none"/>
<path d="M546.1,551.5L555.1,560.5M546.1,560.5L555.1,551.5" stroke="#000" stroke-width="0.9" fill="none"/>
<path d="M550.5,576.8L559.5,585.8M550.5,585.8L559.5,576.8" stroke="#000" stroke-width="0.9" fill="none"/>
<path d="M543.9,581.3L552.9,590.3M543.9,590.3L552.9,581.3" stroke="#000" stroke-width="0.9" fill="none"/>
<path d="M570.3,576.8L579.3,585.8M570.3,585.8L579.3,576.8" stroke="#000" stroke-width="0.9" fill="none"/>
<path d="M564.8,533.9L573.8,542.9M564.8,542.9L573.8,533.9" stroke="#000" stroke-width="0.9" fill="none"/>
<path d="M569.2,535.0L578.2,544.0M569.2,544.0L578.2,535.0" stroke="#000" stroke-width="0.9" fill="none"/>
<path d="M572.5,537.2L581.5,546.2M572.5,546.2L581.5,537.2" stroke="#000" stroke-width="0.9" fill="none"/>
<path d="M574.7,531.7L583.7,540.7M574.7,540.7L583.7,531.7" stroke="#000" stroke-width="0.9" fill="none"/>
<path d="M579.1,535.0L588.1,544.0M579.1,544.0L588.1,535.0" stroke="#000" stroke-width="0.9" fill="none"/>
<path d="M582.4,539.4L591.4,548.4M582.4,548.4L591.4,539.4" stroke="#000" stroke-width="0.9" fill="none"/>
<path d="M585.7,533.9L594.7,542.9M585.7,542.9L594.7,533.9" stroke="#000" stroke-width="0.9" fill="none"/>
<path d="M589.0,541.6L598.0,550.6M589.0,550.6L598.0,541.6" stroke="#000" stroke-width="0.9" fill="none"/>
<path d="M592.3,537.2L601.3,546.2M592.3,546.2L601.3,537.2" stroke="#000" stroke-width="0.9" fill="none"/>
<path d="M595.6,543.8L604.6,552.8M595.6,552.8L604.6,543.8" stroke="#000" stroke-width="0.9" fill="none"/>
<path d="M597.9,530.6L606.9,539.6M597.9,539.6L606.9,530.6" stroke="#000" stroke-width="0.9" fill="none"/>
<path d="M599.0,548.2L608.0,557.2M599.0,557.2L608.0,548.2" stroke="#000" stroke-width="0.9" fill="none"/>
<path d="M576.9,543.8L585.9,552.8M576.9,552.8L585.9,543.8" stroke="#000" stroke-width="0.9" fill="none"/>
<path d="M583.5,548.2L592.5,557.2M583.5,557.2L592.5,548.2" stroke="#000" stroke-width="0.9" fill="none"/>
<path d="M587.9,551.5L596.9,560.5M587.9,560.5L596.9,551.5" stroke="#000" stroke-width="0.9" fill="none"/>
<path d="M593.4,550.4L602.4,559.4M593.4,559.4L602.4,550.4" stroke="#000" stroke-width="0.9" fill="none"/>
<path d="M565.9,539.4L574.9,548.4M565.9,548.4L574.9,539.4" stroke="#000" stroke-width="0.9" fill="none"/>
<path d="M580.2,530.6L589.2,539.6M580.2,539.6L589.2,530.6" stroke="#000" stroke-width="0.9" fill="none"/>
<path d="M590.1,529.5L599.1,538.5M590.1,538.5L599.1,529.5" stroke="#000" stroke-width="0.9" fill="none"/>
<path d="M596.8,539.4L605.8,548.4M596.8,548.4L605.8,539.4" stroke="#000" stroke-width="0.9" fill="none"/>
<path d="M572.5,541.6L581.5,550.6M572.5,550.6L581.5,541.6" stroke="#000" stroke-width="0.9" fill="none"/>
<path d="M584.6,542.7L593.6,551.7M584.6,551.7L593.6,542.7" stroke="#000" stroke-width="0.9" fill="none"/>
<path d="M659.9,522.0L668.9,531.0M659.9,531.0L668.9,522.0" stroke="#000" stroke-width="0.9" fill="none"/>
<path d="M613.4,522.0L622.4,531.0M613.4,531.0L622.4,522.0" stroke="#000" stroke-width="0.9" fill="none"/>
<path d="M614.6,525.5L623.6,534.5M614.6,534.5L623.6,525.5" stroke="#000" stroke-width="0.9" fill="none"/>
<path d="M599.5,530.2L608.5,539.2M599.5,539.2L608.5,530.2" stroke="#000" stroke-width="0.9" fill="none"/>
<path d="M618.1,531.3L627.1,540.3M618.1,540.3L627.1,531.3" stroke="#000" stroke-width="0.9" fill="none"/>
<path d="M646.0,536.0L655.0,545.0M646.0,545.0L655.0,536.0" stroke="#000" stroke-width="0.9" fill="none"/>
<path d="M589.0,533.6L598.0,542.6M589.0,542.6L598.0,533.6" stroke="#000" stroke-width="0.9" fill="none"/>
<path d="M594.8,538.3L603.8,547.3M594.8,547.3L603.8,538.3" stroke="#000" stroke-width="0.9" fill="none"/>
<path d="M602.9,540.6L611.9,549.6M602.9,549.6L611.9,540.6" stroke="#000" stroke-width="0.9" fill="none"/>
<path d="M608.8,536.0L617.8,545.0M608.8,545.0L617.8,536.0" stroke="#000" stroke-width="0.9" fill="none"/>
<path d="M611.1,542.9L620.1,551.9M611.1,551.9L620.1,542.9" stroke="#000" stroke-width="0.9" fill="none"/>
<path d="M620.4,542.9L629.4,551.9M620.4,551.9L629.4,542.9" stroke="#000" stroke-width="0.9" fill="none"/>
<path d="M625.0,545.3L634.0,554.3M625.0,554.3L634.0,545.3" stroke="#000" stroke-width="0.9" fill="none"/>
<path d="M592.5,545.3L601.5,554.3M592.5,554.3L601.5,545.3" stroke="#000" stroke-width="0.9" fill="none"/>
<path d="M598.3,549.9L607.3,558.9M598.3,558.9L607.3,549.9" stroke="#000" stroke-width="0.9" fill="none"/>
<path d="M605.3,547.6L614.3,556.6M605.3,556.6L614.3,547.6" stroke="#000" stroke-width="0.9" fill="none"/>
<path d="M615.7,549.9L624.7,558.9M615.7,558.9L624.7,549.9" stroke="#000" stroke-width="0.9" fill="none"/>
<path d="M629.7,542.9L638.7,551.9M629.7,551.9L638.7,542.9" stroke="#000" stroke-width="0.9" fill="none"/>
<path d="M634.3,545.3L643.3,554.3M634.3,554.3L643.3,545.3" stroke="#000" stroke-width="0.9" fill="none"/>
<path d="M587.8,552.2L596.8,561.2M587.8,561.2L596.8,552.2" stroke="#000" stroke-width="0.9" fill="none"/>
<path d="M596.0,555.7L605.0,564.7M596.0,564.7L605.0,555.7" stroke="#000" stroke-width="0.9" fill="none"/>
<path d="M607.6,554.6L616.6,563.6M607.6,563.6L616.6,554.6" stroke="#000" stroke-width="0.9" fill="none"/>
<path d="M620.8,540.6L629.8,549.6M620.8,549.6L629.8,540.6" stroke="#000" stroke-width="0.9" fill="none"/>
<path d="M632.6,536.2L641.6,545.2M632.6,545.2L641.6,536.2" stroke="#000" stroke-width="0.9" fill="none"/>
<path d="M593.7,550.1L602.7,559.1M593.7,559.1L602.7,550.1" stroke="#000" stroke-width="0.9" fill="none"/>
<path d="M616.6,552.3L625.6,561.3M616.6,561.3L625.6,552.3" stroke="#000" stroke-width="0.9" fill="none"/>
<path d="M616.4,537.1L625.4,546.1M616.4,546.1L625.4,537.1" stroke="#000" stroke-width="0.9" fill="none"/>
<path d="M594.2,565.7L603.2,574.7M594.2,574.7L603.2,565.7" stroke="#000" stroke-width="0.9" fill="none"/>
<path d="M637.3,534.3L646.3,543.3M637.3,543.3L646.3,534.3" stroke="#000" stroke-width="0.9" fill="none"/>
<path d="M608.2,549.3L617.2,558.3M608.2,558.3L617.2,549.3" stroke="#000" stroke-width="0.9" fill="none"/>
<path d="M629.1,540.7L638.1,549.7M629.1,549.7L638.1,540.7" stroke="#000" stroke-width="0.9" fill="none"/>
<path d="M624.7,545.6L633.7,554.6M624.7,554.6L633.7,545.6" stroke="#000" stroke-width="0.9" fill="none"/>
<path d="M604.5,550.2L613.5,559.2M604.5,559.2L613.5,550.2" stroke="#000" stroke-width="0.9" fill="none"/>
<path d="M608.8,548.6L617.8,557.6M608.8,557.6L617.8,548.6" stroke="#000" stroke-width="0.9" fill="none"/>
<path d="M579.1,538.3L588.1,547.3M579.1,547.3L588.1,538.3" stroke="#000" stroke-width="0.9" fill="none"/>
<path d="M621.6,560.7L630.6,569.7M621.6,569.7L630.6,560.7" stroke="#000" stroke-width="0.9" fill="none"/>
<path d="M591.8,553.1L600.8,562.1M591.8,562.1L600.8,553.1" stroke="#000" stroke-width="0.9" fill="none"/>
<path d="M600.2,548.5L609.2,557.5M600.2,557.5L609.2,548.5" stroke="#000" stroke-width="0.9" fill="none"/>
<path d="M590.3,543.2L599.3,552.2M590.3,552.2L599.3,543.2" stroke="#000" stroke-width="0.9" fill="none"/>
<path d="M607.4,545.0L616.4,554.0M607.4,554.0L616.4,545.0" stroke="#000" stroke-width="0.9" fill="none"/>
<path d="M615.0,532.4L624.0,541.4M615.0,541.4L624.0,532.4" stroke="#000" stroke-width="0.9" fill="none"/>
<path d="M632.7,528.0L641.7,537.0M632.7,537.0L641.7,528.0" stroke="#000" stroke-width="0.9" fill="none"/>
<path d="M585.5,548.4L594.5,557.4M585.5,557.4L594.5,548.4" stroke="#000" stroke-width="0.9" fill="none"/>
<path d="M594.6,541.0L603.6,550.0M594.6,550.0L603.6,541.0" stroke="#000" stroke-width="0.9" fill="none"/>
<path d="M617.0,546.4L626.0,555.4M617.0,555.4L626.0,546.4" stroke="#000" stroke-width="0.9" fill="none"/>
<path d="M612.6,532.2L621.6,541.2M612.6,541.2L621.6,532.2" stroke="#000" stroke-width="0.9" fill="none"/>
<path d="M609.2,545.3L618.2,554.3M609.2,554.3L618.2,545.3" stroke="#000" stroke-width="0.9" fill="none"/>
<path d="M599.1,536.2L608.1,545.2M599.1,545.2L608.1,536.2" stroke="#000" stroke-width="0.9" fill="none"/>
<path d="M628.2,558.0L637.2,567.0M628.2,567.0L637.2,558.0" stroke="#000" stroke-width="0.9" fill="none"/>
<path d="M593.9,559.9L602.9,568.9M593.9,568.9L602.9,559.9" stroke="#000" stroke-width="0.9" fill="none"/>
<path d="M607.7,530.5L616.7,539.5M607.7,539.5L616.7,530.5" stroke="#000" stroke-width="0.9" fill="none"/>
<path d="M609.7,550.5L618.7,559.5M609.7,559.5L618.7,550.5" stroke="#000" stroke-width="0.9" fill="none"/>
<path d="M606.9,556.9L615.9,565.9M606.9,565.9L615.9,556.9" stroke="#000" stroke-width="0.9" fill="none"/>
<path d="M611.1,568.3L620.1,577.3M611.1,577.3L620.1,568.3" stroke="#000" stroke-width="0.9" fill="none"/>
<path d="M607.4,551.2L616.4,560.2M607.4,560.2L616.4,551.2" stroke="#000" stroke-width="0.9" fill="none"/>
<path d="M602.9,550.7L611.9,559.7M602.9,559.7L611.9,550.7" stroke="#000" stroke-width="0.9" fill="none"/>
<path d="M606.4,537.7L615.4,546.7M606.4,546.7L615.4,537.7" stroke="#000" stroke-width="0.9" fill="none"/>
<path d="M615.1,556.6L624.1,565.6M615.1,565.6L624.1,556.6" stroke="#000" stroke-width="0.9" fill="none"/>
<path d="M603.5,551.5L612.5,560.5M603.5,560.5L612.5,551.5" stroke="#000" stroke-width="0.9" fill="none"/>
<path d="M634.1,553.1L643.1,562.1M634.1,562.1L643.1,553.1" stroke="#000" stroke-width="0.9" fill="none"/>
<path d="M605.7,544.6L614.7,553.6M605.7,553.6L614.7,544.6" stroke="#000" stroke-width="0.9" fill="none"/>
<path d="M588.8,534.0L597.8,543.0M588.8,543.0L597.8,534.0" stroke="#000" stroke-width="0.9" fill="none"/>
<path d="M628.2,553.5L637.2,562.5M628.2,562.5L637.2,553.5" stroke="#000" stroke-width="0.9" fill="none"/>
<path d="M605.9,545.4L614.9,554.4M605.9,554.4L614.9,545.4" stroke="#000" stroke-width="0.9" fill="none"/>
<path d="M611.6,552.3L620.6,561.3M611.6,561.3L620.6,552.3" stroke="#000" stroke-width="0.9" fill="none"/>
<path d="M630.5,557.1L639.5,566.1M630.5,566.1L639.5,557.1" stroke="#000" stroke-width="0.9" fill="none"/>
<path d="M578.2,557.6L587.2,566.6M578.2,566.6L587.2,557.6" stroke="#000" stroke-width="0.9" fill="none"/>
<circle cx="503.9" cy="503.6" r="2.35" fill="none" stroke="#000" stroke-width="0.55"/>
<circle cx="469.7" cy="524.1" r="2.35" fill="none" stroke="#000" stroke-width="0.55"/>
<circle cx="516.4" cy="535.3" r="2.35" fill="none" stroke="#000" stroke-width="0.55"/>
<circle cx="505.6" cy="542.6" r="2.35" fill="none" stroke="#000" stroke-width="0.55"/>
<circle cx="549.5" cy="533.1" r="2.35" fill="none" stroke="#000" stroke-width="0.55"/>
<circle cx="576.6" cy="528.5" r="2.35" fill="none" stroke="#000" stroke-width="0.55"/>
<circle cx="588.0" cy="531.1" r="2.35" fill="none" stroke="#000" stroke-width="0.55"/>
<circle cx="514.9" cy="560.4" r="2.35" fill="none" stroke="#000" stroke-width="0.55"/>
<circle cx="521.9" cy="564.8" r="2.35" fill="none" stroke="#000" stroke-width="0.55"/>
<circle cx="528.5" cy="572.1" r="2.35" fill="none" stroke="#000" stroke-width="0.55"/>
<circle cx="535.2" cy="576.5" r="2.35" fill="none" stroke="#000" stroke-width="0.55"/>
<circle cx="541.1" cy="586.2" r="2.35" fill="none" stroke="#000" stroke-width="0.55"/>
<circle cx="545.1" cy="579.1" r="2.35" fill="none" stroke="#000" stroke-width="0.55"/>
<circle cx="550.6" cy="576.5" r="2.35" fill="none" stroke="#000" stroke-width="0.55"/>
<circle cx="549.5" cy="588.0" r="2.35" fill="none" stroke="#000" stroke-width="0.55"/>
<circle cx="528.5" cy="596.8" r="2.35" fill="none" stroke="#000" stroke-width="0.55"/>
<circle cx="525.2" cy="600.1" r="2.35" fill="none" stroke="#000" stroke-width="0.55"/>
<circle cx="512.0" cy="612.8" r="2.35" fill="none" stroke="#000" stroke-width="0.55"/>
<circle cx="495.5" cy="608.9" r="2.35" fill="none" stroke="#000" stroke-width="0.55"/>
<circle cx="494.4" cy="596.8" r="2.35" fill="none" stroke="#000" stroke-width="0.55"/>
<circle cx="483.4" cy="594.6" r="2.35" fill="none" stroke="#000" stroke-width="0.55"/>
<circle cx="457.4" cy="590.2" r="2.35" fill="none" stroke="#000" stroke-width="0.55"/>
<circle cx="461.4" cy="576.3" r="2.35" fill="none" stroke="#000" stroke-width="0.55"/>
<circle cx="499.9" cy="583.1" r="2.35" fill="none" stroke="#000" stroke-width="0.55"/>
<circle cx="446.4" cy="617.7" r="2.35" fill="none" stroke="#000" stroke-width="0.55"/>
<circle cx="446.4" cy="619.9" r="2.35" fill="none" stroke="#000" stroke-width="0.55"/>
<circle cx="457.4" cy="636.0" r="2.35" fill="none" stroke="#000" stroke-width="0.55"/>
<circle cx="434.3" cy="606.2" r="2.35" fill="none" stroke="#000" stroke-width="0.55"/>
<circle cx="574.4" cy="599.6" r="2.35" fill="none" stroke="#000" stroke-width="0.55"/>
<circle cx="570.4" cy="585.8" r="2.35" fill="none" stroke="#000" stroke-width="0.55"/>
<circle cx="571.5" cy="590.2" r="2.35" fill="none" stroke="#000" stroke-width="0.55"/>
<circle cx="570.4" cy="576.3" r="2.35" fill="none" stroke="#000" stroke-width="0.55"/>
<circle cx="575.9" cy="574.7" r="2.35" fill="none" stroke="#000" stroke-width="0.55"/>
<circle cx="581.0" cy="576.3" r="2.35" fill="none" stroke="#000" stroke-width="0.55"/>
<circle cx="558.7" cy="569.7" r="2.35" fill="none" stroke="#000" stroke-width="0.55"/>
<circle cx="553.4" cy="564.8" r="2.35" fill="none" stroke="#000" stroke-width="0.55"/>
<circle cx="547.3" cy="558.2" r="2.35" fill="none" stroke="#000" stroke-width="0.55"/>
<circle cx="562.7" cy="547.2" r="2.35" fill="none" stroke="#000" stroke-width="0.55"/>
<circle cx="568.2" cy="551.6" r="2.35" fill="none" stroke="#000" stroke-width="0.55"/>
<circle cx="484.5" cy="558.2" r="2.35" fill="none" stroke="#000" stroke-width="0.55"/>
<circle cx="521.9" cy="576.9" r="2.35" fill="none" stroke="#000" stroke-width="0.55"/>
<circle cx="533.0" cy="557.1" r="2.35" fill="none" stroke="#000" stroke-width="0.55"/>
<circle cx="617.9" cy="503.3" r="2.35" fill="none" stroke="#000" stroke-width="0.55"/>
<circle cx="631.4" cy="535.3" r="2.35" fill="none" stroke="#000" stroke-width="0.55"/>
<circle cx="644.0" cy="537.4" r="2.35" fill="none" stroke="#000" stroke-width="0.55"/>
<circle cx="655.1" cy="533.0" r="2.35" fill="none" stroke="#000" stroke-width="0.55"/>
<circle cx="664.4" cy="544.0" r="2.35" fill="none" stroke="#000" stroke-width="0.55"/>
<circle cx="683.7" cy="578.8" r="2.35" fill="none" stroke="#000" stroke-width="0.55"/>
<circle cx="591.2" cy="574.2" r="2.35" fill="none" stroke="#000" stroke-width="0.55"/>
<circle cx="597.0" cy="569.5" r="2.35" fill="none" stroke="#000" stroke-width="0.55"/>
<circle cx="756.3" cy="544.4" r="2.35" fill="none" stroke="#000" stroke-width="0.55"/>
<circle cx="735.3" cy="537.0" r="2.35" fill="none" stroke="#000" stroke-width="0.55"/>
<circle cx="670.2" cy="544.0" r="2.35" fill="none" stroke="#000" stroke-width="0.55"/>
<circle cx="679.5" cy="545.1" r="2.35" fill="none" stroke="#000" stroke-width="0.55"/>
<circle cx="694.7" cy="547.4" r="2.35" fill="none" stroke="#000" stroke-width="0.55"/>
<circle cx="598.9" cy="561.0" r="2.35" fill="none" stroke="#000" stroke-width="0.55"/>
<circle cx="610.1" cy="571.1" r="2.35" fill="none" stroke="#000" stroke-width="0.55"/>
<circle cx="612.6" cy="556.2" r="2.35" fill="none" stroke="#000" stroke-width="0.55"/>
<circle cx="637.9" cy="555.9" r="2.35" fill="none" stroke="#000" stroke-width="0.55"/>
<circle cx="590.9" cy="553.3" r="2.35" fill="none" stroke="#000" stroke-width="0.55"/>
<circle cx="599.3" cy="558.8" r="2.35" fill="none" stroke="#000" stroke-width="0.55"/>
<circle cx="624.3" cy="551.6" r="2.35" fill="none" stroke="#000" stroke-width="0.55"/>
<circle cx="616.8" cy="561.9" r="2.35" fill="none" stroke="#000" stroke-width="0.55"/>
<circle cx="624.3" cy="561.6" r="2.35" fill="none" stroke="#000" stroke-width="0.55"/>
<circle cx="630.7" cy="563.1" r="2.35" fill="none" stroke="#000" stroke-width="0.55"/>
<circle cx="631.2" cy="543.2" r="2.35" fill="none" stroke="#000" stroke-width="0.55"/>
<circle cx="629.4" cy="555.7" r="2.35" fill="none" stroke="#000" stroke-width="0.55"/>
<circle cx="649.3" cy="559.6" r="2.35" fill="none" stroke="#000" stroke-width="0.55"/>
<circle cx="644.6" cy="571.4" r="2.35" fill="none" stroke="#000" stroke-width="0.55"/>
<circle cx="654.7" cy="555.3" r="2.35" fill="none" stroke="#000" stroke-width="0.55"/>
<circle cx="657.4" cy="564.4" r="2.35" fill="none" stroke="#000" stroke-width="0.55"/>
<circle cx="601.2" cy="575.9" r="2.35" fill="none" stroke="#000" stroke-width="0.55"/>
<circle cx="592.3" cy="559.2" r="2.35" fill="none" stroke="#000" stroke-width="0.55"/>
<circle cx="603.2" cy="558.2" r="2.35" fill="none" stroke="#000" stroke-width="0.55"/>
<circle cx="587.5" cy="553.3" r="2.35" fill="none" stroke="#000" stroke-width="0.55"/>
<circle cx="646.7" cy="545.8" r="2.35" fill="none" stroke="#000" stroke-width="0.55"/>
<circle cx="591.4" cy="566.1" r="2.35" fill="none" stroke="#000" stroke-width="0.55"/>
<circle cx="616.1" cy="558.3" r="2.35" fill="none" stroke="#000" stroke-width="0.55"/>
<circle cx="599.6" cy="557.8" r="2.35" fill="none" stroke="#000" stroke-width="0.55"/>
<circle cx="634.2" cy="576.4" r="2.35" fill="none" stroke="#000" stroke-width="0.55"/>
<circle cx="590.0" cy="548.3" r="2.35" fill="none" stroke="#000" stroke-width="0.55"/>
<circle cx="622.8" cy="559.2" r="2.35" fill="none" stroke="#000" stroke-width="0.55"/>
<circle cx="634.5" cy="549.1" r="2.35" fill="none" stroke="#000" stroke-width="0.55"/>
<circle cx="598.4" cy="562.7" r="2.35" fill="none" stroke="#000" stroke-width="0.55"/>
<circle cx="577.1" cy="561.3" r="2.35" fill="none" stroke="#000" stroke-width="0.55"/>
<circle cx="625.6" cy="548.4" r="2.35" fill="none" stroke="#000" stroke-width="0.55"/>
<circle cx="593.8" cy="558.4" r="2.35" fill="none" stroke="#000" stroke-width="0.55"/>
<circle cx="597.9" cy="563.6" r="2.35" fill="none" stroke="#000" stroke-width="0.55"/>
<circle cx="672.0" cy="572.4" r="2.35" fill="none" stroke="#000" stroke-width="0.55"/>
<circle cx="658.0" cy="560.4" r="2.35" fill="none" stroke="#000" stroke-width="0.55"/>
<circle cx="662.1" cy="559.6" r="2.35" fill="none" stroke="#000" stroke-width="0.55"/>
<circle cx="620.0" cy="559.5" r="2.35" fill="none" stroke="#000" stroke-width="0.55"/>
<circle cx="620.4" cy="551.7" r="2.35" fill="none" stroke="#000" stroke-width="0.55"/>
<circle cx="623.4" cy="548.9" r="2.35" fill="none" stroke="#000" stroke-width="0.55"/>
<circle cx="570.2" cy="564.4" r="2.35" fill="none" stroke="#000" stroke-width="0.55"/>
<circle cx="635.6" cy="561.3" r="2.35" fill="none" stroke="#000" stroke-width="0.55"/>
<circle cx="619.5" cy="554.6" r="2.35" fill="none" stroke="#000" stroke-width="0.55"/>
<circle cx="638.5" cy="554.1" r="2.35" fill="none" stroke="#000" stroke-width="0.55"/>
<circle cx="595.9" cy="562.2" r="2.35" fill="none" stroke="#000" stroke-width="0.55"/>
<circle cx="623.2" cy="575.6" r="2.35" fill="none" stroke="#000" stroke-width="0.55"/>
<circle cx="643.8" cy="560.0" r="2.35" fill="none" stroke="#000" stroke-width="0.55"/>
<circle cx="635.9" cy="565.7" r="2.35" fill="none" stroke="#000" stroke-width="0.55"/>
<circle cx="616.2" cy="550.2" r="2.35" fill="none" stroke="#000" stroke-width="0.55"/>
<circle cx="628.6" cy="535.9" r="2.35" fill="none" stroke="#000" stroke-width="0.55"/>
<circle cx="644.1" cy="557.7" r="2.35" fill="none" stroke="#000" stroke-width="0.55"/>
<circle cx="604.9" cy="570.3" r="2.35" fill="none" stroke="#000" stroke-width="0.55"/>
<circle cx="641.7" cy="551.4" r="2.35" fill="none" stroke="#000" stroke-width="0.55"/>
<circle cx="645.0" cy="544.2" r="2.35" fill="none" stroke="#000" stroke-width="0.55"/>
<circle cx="651.8" cy="567.7" r="2.35" fill="none" stroke="#000" stroke-width="0.55"/>
<circle cx="635.1" cy="560.0" r="2.35" fill="none" stroke="#000" stroke-width="0.55"/>
<circle cx="616.3" cy="545.3" r="2.35" fill="none" stroke="#000" stroke-width="0.55"/>
<circle cx="637.2" cy="565.1" r="2.35" fill="none" stroke="#000" stroke-width="0.55"/>
<circle cx="620.5" cy="561.9" r="2.35" fill="none" stroke="#000" stroke-width="0.55"/>
<circle cx="569.1" cy="552.8" r="2.35" fill="none" stroke="#000" stroke-width="0.55"/>
<circle cx="630.2" cy="567.6" r="2.35" fill="none" stroke="#000" stroke-width="0.55"/>
<circle cx="602.5" cy="570.3" r="2.35" fill="none" stroke="#000" stroke-width="0.55"/>
<circle cx="611.3" cy="554.9" r="2.35" fill="none" stroke="#000" stroke-width="0.55"/>
<circle cx="632.6" cy="549.6" r="2.35" fill="none" stroke="#000" stroke-width="0.55"/>
<circle cx="615.1" cy="554.7" r="2.35" fill="none" stroke="#000" stroke-width="0.55"/>
<circle cx="679.1" cy="549.8" r="2.35" fill="none" stroke="#000" stroke-width="0.55"/>
<circle cx="640.3" cy="548.7" r="2.35" fill="none" stroke="#000" stroke-width="0.55"/>
<circle cx="668.5" cy="568.8" r="2.35" fill="none" stroke="#000" stroke-width="0.55"/>
<circle cx="638.5" cy="560.0" r="2.35" fill="none" stroke="#000" stroke-width="0.55"/>
<circle cx="604.7" cy="557.0" r="2.35" fill="none" stroke="#000" stroke-width="0.55"/>
<circle cx="599.0" cy="560.7" r="2.35" fill="none" stroke="#000" stroke-width="0.55"/>
<circle cx="614.1" cy="563.9" r="2.35" fill="none" stroke="#000" stroke-width="0.55"/>
<circle cx="655.0" cy="561.6" r="2.35" fill="none" stroke="#000" stroke-width="0.55"/>
<circle cx="625.5" cy="537.8" r="2.35" fill="none" stroke="#000" stroke-width="0.55"/>
<circle cx="626.6" cy="557.6" r="2.35" fill="none" stroke="#000" stroke-width="0.55"/>
<circle cx="674.3" cy="548.3" r="2.35" fill="none" stroke="#000" stroke-width="0.55"/>
<circle cx="584.4" cy="548.4" r="2.35" fill="none" stroke="#000" stroke-width="0.55"/>
<circle cx="628.5" cy="558.8" r="2.35" fill="none" stroke="#000" stroke-width="0.55"/>
<circle cx="658.5" cy="555.6" r="2.35" fill="none" stroke="#000" stroke-width="0.55"/>
<circle cx="595.3" cy="554.5" r="2.35" fill="none" stroke="#000" stroke-width="0.55"/>
<circle cx="622.2" cy="559.6" r="2.35" fill="none" stroke="#000" stroke-width="0.55"/>
<circle cx="629.3" cy="576.6" r="2.35" fill="none" stroke="#000" stroke-width="0.55"/>
<circle cx="617.3" cy="565.8" r="2.35" fill="none" stroke="#000" stroke-width="0.55"/>
<circle cx="624.1" cy="552.5" r="2.35" fill="none" stroke="#000" stroke-width="0.55"/>
<circle cx="607.2" cy="554.7" r="2.35" fill="none" stroke="#000" stroke-width="0.55"/>
<circle cx="632.3" cy="552.5" r="2.35" fill="none" stroke="#000" stroke-width="0.55"/>
<circle cx="636.8" cy="556.0" r="2.35" fill="none" stroke="#000" stroke-width="0.55"/>
<circle cx="608.1" cy="565.0" r="2.35" fill="none" stroke="#000" stroke-width="0.55"/>
<circle cx="578.3" cy="560.2" r="2.35" fill="none" stroke="#000" stroke-width="0.55"/>
<circle cx="594.9" cy="559.5" r="2.35" fill="none" stroke="#000" stroke-width="0.55"/>
<circle cx="654.0" cy="550.2" r="2.35" fill="none" stroke="#000" stroke-width="0.55"/>
<circle cx="639.2" cy="581.2" r="2.35" fill="none" stroke="#000" stroke-width="0.55"/>
<circle cx="660.9" cy="565.4" r="2.35" fill="none" stroke="#000" stroke-width="0.55"/>
<circle cx="583.9" cy="566.5" r="2.35" fill="none" stroke="#000" stroke-width="0.55"/>
<circle cx="621.0" cy="554.0" r="2.35" fill="none" stroke="#000" stroke-width="0.55"/>
<circle cx="666.7" cy="558.3" r="2.35" fill="none" stroke="#000" stroke-width="0.55"/>
<circle cx="659.7" cy="567.7" r="2.35" fill="none" stroke="#000" stroke-width="0.55"/>
<circle cx="637.2" cy="536.7" r="2.35" fill="none" stroke="#000" stroke-width="0.55"/>
<circle cx="645.2" cy="562.7" r="2.35" fill="none" stroke="#000" stroke-width="0.55"/>
<circle cx="628.9" cy="567.0" r="2.35" fill="none" stroke="#000" stroke-width="0.55"/>
<circle cx="619.6" cy="566.2" r="2.35" fill="none" stroke="#000" stroke-width="0.55"/>
<circle cx="599.9" cy="568.5" r="2.35" fill="none" stroke="#000" stroke-width="0.55"/>
<circle cx="591.1" cy="562.5" r="2.35" fill="none" stroke="#000" stroke-width="0.55"/>
<circle cx="618.8" cy="554.5" r="2.35" fill="none" stroke="#000" stroke-width="0.55"/>
<circle cx="605.2" cy="551.4" r="2.35" fill="none" stroke="#000" stroke-width="0.55"/>
<circle cx="627.5" cy="546.5" r="2.35" fill="none" stroke="#000" stroke-width="0.55"/>
<circle cx="624.3" cy="565.4" r="2.35" fill="none" stroke="#000" stroke-width="0.55"/>
<circle cx="676.0" cy="570.1" r="2.35" fill="none" stroke="#000" stroke-width="0.55"/>
<circle cx="603.1" cy="555.3" r="2.35" fill="none" stroke="#000" stroke-width="0.55"/>
<circle cx="589.8" cy="570.4" r="2.35" fill="none" stroke="#000" stroke-width="0.55"/>
<circle cx="630.2" cy="549.8" r="2.35" fill="none" stroke="#000" stroke-width="0.55"/>
<circle cx="612.9" cy="557.3" r="2.35" fill="none" stroke="#000" stroke-width="0.55"/>
<circle cx="626.4" cy="570.7" r="2.35" fill="none" stroke="#000" stroke-width="0.55"/>
<circle cx="628.1" cy="549.7" r="2.35" fill="none" stroke="#000" stroke-width="0.55"/>
<circle cx="598.5" cy="549.3" r="2.35" fill="none" stroke="#000" stroke-width="0.55"/>
<circle cx="604.1" cy="576.8" r="2.35" fill="none" stroke="#000" stroke-width="0.55"/>
<circle cx="651.7" cy="555.9" r="2.35" fill="none" stroke="#000" stroke-width="0.55"/>
<circle cx="577.6" cy="565.6" r="2.35" fill="none" stroke="#000" stroke-width="0.55"/>
<circle cx="617.6" cy="561.2" r="2.35" fill="none" stroke="#000" stroke-width="0.55"/>
<circle cx="630.1" cy="566.6" r="2.35" fill="none" stroke="#000" stroke-width="0.55"/>
<circle cx="583.8" cy="565.5" r="2.35" fill="none" stroke="#000" stroke-width="0.55"/>
<circle cx="586.0" cy="555.0" r="2.35" fill="none" stroke="#000" stroke-width="0.55"/>
<circle cx="630.7" cy="549.5" r="2.35" fill="none" stroke="#000" stroke-width="0.55"/>
<circle cx="614.0" cy="553.5" r="2.35" fill="none" stroke="#000" stroke-width="0.55"/>
<circle cx="611.8" cy="559.7" r="2.35" fill="none" stroke="#000" stroke-width="0.55"/>
<circle cx="639.0" cy="560.1" r="2.35" fill="none" stroke="#000" stroke-width="0.55"/>
<circle cx="590.6" cy="556.7" r="2.35" fill="none" stroke="#000" stroke-width="0.55"/>
<circle cx="644.5" cy="548.6" r="2.35" fill="none" stroke="#000" stroke-width="0.55"/>
<circle cx="600.8" cy="549.6" r="2.35" fill="none" stroke="#000" stroke-width="0.55"/>
<circle cx="617.5" cy="558.1" r="2.35" fill="none" stroke="#000" stroke-width="0.55"/>
<circle cx="613.6" cy="573.5" r="2.35" fill="none" stroke="#000" stroke-width="0.55"/>
<circle cx="632.2" cy="565.6" r="2.35" fill="none" stroke="#000" stroke-width="0.55"/>
<circle cx="625.4" cy="558.2" r="2.35" fill="none" stroke="#000" stroke-width="0.55"/>
<circle cx="639.1" cy="565.8" r="2.35" fill="none" stroke="#000" stroke-width="0.55"/>
<circle cx="613.7" cy="554.9" r="2.35" fill="none" stroke="#000" stroke-width="0.55"/>
<circle cx="587.5" cy="561.7" r="2.35" fill="none" stroke="#000" stroke-width="0.55"/>
<circle cx="585.4" cy="557.2" r="2.35" fill="none" stroke="#000" stroke-width="0.55"/>
<circle cx="626.4" cy="546.6" r="2.35" fill="none" stroke="#000" stroke-width="0.55"/>
<circle cx="608.3" cy="560.2" r="2.35" fill="none" stroke="#000" stroke-width="0.55"/>
<circle cx="641.5" cy="563.3" r="2.35" fill="none" stroke="#000" stroke-width="0.55"/>
<circle cx="632.8" cy="561.1" r="2.35" fill="none" stroke="#000" stroke-width="0.55"/>
<circle cx="585.2" cy="555.2" r="2.35" fill="none" stroke="#000" stroke-width="0.55"/>
<circle cx="635.1" cy="570.6" r="2.35" fill="none" stroke="#000" stroke-width="0.55"/>
<circle cx="607.0" cy="563.8" r="2.35" fill="none" stroke="#000" stroke-width="0.55"/>
<circle cx="637.5" cy="564.3" r="2.35" fill="none" stroke="#000" stroke-width="0.55"/>
<circle cx="613.5" cy="568.2" r="2.35" fill="none" stroke="#000" stroke-width="0.55"/>
<circle cx="626.7" cy="567.1" r="2.35" fill="none" stroke="#000" stroke-width="0.55"/>
<circle cx="656.8" cy="574.5" r="2.35" fill="none" stroke="#000" stroke-width="0.55"/>
<circle cx="618.4" cy="552.3" r="2.35" fill="none" stroke="#000" stroke-width="0.55"/>
<circle cx="643.9" cy="556.0" r="2.35" fill="none" stroke="#000" stroke-width="0.55"/>
<circle cx="615.8" cy="565.5" r="2.35" fill="none" stroke="#000" stroke-width="0.55"/>
<circle cx="659.2" cy="562.8" r="2.35" fill="none" stroke="#000" stroke-width="0.55"/>
<circle cx="613.1" cy="555.2" r="2.35" fill="none" stroke="#000" stroke-width="0.55"/>
<circle cx="613.4" cy="553.7" r="2.35" fill="none" stroke="#000" stroke-width="0.55"/>
<circle cx="615.0" cy="565.0" r="2.35" fill="none" stroke="#000" stroke-width="0.55"/>
<circle cx="599.0" cy="546.1" r="2.35" fill="none" stroke="#000" stroke-width="0.55"/>
<circle cx="624.9" cy="553.1" r="2.35" fill="none" stroke="#000" stroke-width="0.55"/>
<circle cx="647.1" cy="553.7" r="2.35" fill="none" stroke="#000" stroke-width="0.55"/>
<circle cx="640.1" cy="556.5" r="2.35" fill="none" stroke="#000" stroke-width="0.55"/>
<circle cx="652.0" cy="557.8" r="2.35" fill="none" stroke="#000" stroke-width="0.55"/>
<circle cx="623.4" cy="560.4" r="2.35" fill="none" stroke="#000" stroke-width="0.55"/>
<circle cx="625.1" cy="539.7" r="2.35" fill="none" stroke="#000" stroke-width="0.55"/>
<circle cx="632.0" cy="550.0" r="2.35" fill="none" stroke="#000" stroke-width="0.55"/>
<circle cx="644.1" cy="567.6" r="2.35" fill="none" stroke="#000" stroke-width="0.55"/>
<circle cx="642.6" cy="562.3" r="2.35" fill="none" stroke="#000" stroke-width="0.55"/>
<circle cx="585.6" cy="570.9" r="2.35" fill="none" stroke="#000" stroke-width="0.55"/>
<circle cx="654.2" cy="564.5" r="2.35" fill="none" stroke="#000" stroke-width="0.55"/>
<circle cx="585.7" cy="556.5" r="2.35" fill="none" stroke="#000" stroke-width="0.55"/>
<circle cx="639.0" cy="555.1" r="2.35" fill="none" stroke="#000" stroke-width="0.55"/>
<circle cx="631.9" cy="558.7" r="2.35" fill="none" stroke="#000" stroke-width="0.55"/>
<circle cx="640.6" cy="564.0" r="2.35" fill="none" stroke="#000" stroke-width="0.55"/>
<circle cx="623.8" cy="559.5" r="2.35" fill="none" stroke="#000" stroke-width="0.55"/>
<circle cx="611.3" cy="551.0" r="2.35" fill="none" stroke="#000" stroke-width="0.55"/>
<circle cx="665.5" cy="553.5" r="2.35" fill="none" stroke="#000" stroke-width="0.55"/>
<circle cx="624.7" cy="550.5" r="2.35" fill="none" stroke="#000" stroke-width="0.55"/>
<circle cx="637.1" cy="553.8" r="2.35" fill="none" stroke="#000" stroke-width="0.55"/>
<circle cx="616.6" cy="541.7" r="2.35" fill="none" stroke="#000" stroke-width="0.55"/>
<circle cx="646.1" cy="550.4" r="2.35" fill="none" stroke="#000" stroke-width="0.55"/>
<circle cx="644.2" cy="544.7" r="2.35" fill="none" stroke="#000" stroke-width="0.55"/>
<circle cx="646.9" cy="573.7" r="2.35" fill="none" stroke="#000" stroke-width="0.55"/>
<circle cx="631.3" cy="545.6" r="2.35" fill="none" stroke="#000" stroke-width="0.55"/>
<circle cx="623.9" cy="555.1" r="2.35" fill="none" stroke="#000" stroke-width="0.55"/>
<circle cx="617.3" cy="544.9" r="2.35" fill="none" stroke="#000" stroke-width="0.55"/>
<circle cx="617.3" cy="566.8" r="2.35" fill="none" stroke="#000" stroke-width="0.55"/>
<circle cx="672.3" cy="568.2" r="2.35" fill="none" stroke="#000" stroke-width="0.55"/>
<circle cx="614.1" cy="561.6" r="2.35" fill="none" stroke="#000" stroke-width="0.55"/>
<circle cx="617.6" cy="563.6" r="2.35" fill="none" stroke="#000" stroke-width="0.55"/>
<circle cx="607.7" cy="561.8" r="2.35" fill="none" stroke="#000" stroke-width="0.55"/>
<circle cx="609.0" cy="558.5" r="2.35" fill="none" stroke="#000" stroke-width="0.55"/>
<circle cx="589.9" cy="551.1" r="2.35" fill="none" stroke="#000" stroke-width="0.55"/>
<circle cx="597.4" cy="548.2" r="2.35" fill="none" stroke="#000" stroke-width="0.55"/>
<circle cx="582.1" cy="549.3" r="2.35" fill="none" stroke="#000" stroke-width="0.55"/>
<circle cx="655.5" cy="560.8" r="2.35" fill="none" stroke="#000" stroke-width="0.55"/>
<circle cx="576.8" cy="563.6" r="2.35" fill="none" stroke="#000" stroke-width="0.55"/>
<circle cx="601.2" cy="562.4" r="2.35" fill="none" stroke="#000" stroke-width="0.55"/>
<circle cx="602.9" cy="556.9" r="2.35" fill="none" stroke="#000" stroke-width="0.55"/>
<circle cx="601.8" cy="548.6" r="2.35" fill="none" stroke="#000" stroke-width="0.55"/>
<circle cx="598.0" cy="558.3" r="2.35" fill="none" stroke="#000" stroke-width="0.55"/>
<circle cx="640.0" cy="563.2" r="2.35" fill="none" stroke="#000" stroke-width="0.55"/>
<circle cx="609.3" cy="544.9" r="2.35" fill="none" stroke="#000" stroke-width="0.55"/>
<circle cx="621.2" cy="554.4" r="2.35" fill="none" stroke="#000" stroke-width="0.55"/>
<circle cx="605.1" cy="572.6" r="2.35" fill="none" stroke="#000" stroke-width="0.55"/>
<circle cx="611.7" cy="547.4" r="2.35" fill="none" stroke="#000" stroke-width="0.55"/>
<circle cx="625.3" cy="567.5" r="2.35" fill="none" stroke="#000" stroke-width="0.55"/>
<circle cx="601.5" cy="556.7" r="2.35" fill="none" stroke="#000" stroke-width="0.55"/>
<circle cx="579.7" cy="573.2" r="2.35" fill="none" stroke="#000" stroke-width="0.55"/>
<circle cx="614.8" cy="554.2" r="2.35" fill="none" stroke="#000" stroke-width="0.55"/>
<circle cx="624.1" cy="552.3" r="2.35" fill="none" stroke="#000" stroke-width="0.55"/>
<circle cx="672.0" cy="557.1" r="2.35" fill="none" stroke="#000" stroke-width="0.55"/>
<circle cx="632.5" cy="558.6" r="2.35" fill="none" stroke="#000" stroke-width="0.55"/>
<circle cx="620.7" cy="560.0" r="2.35" fill="none" stroke="#000" stroke-width="0.55"/>
<circle cx="613.8" cy="562.6" r="2.35" fill="none" stroke="#000" stroke-width="0.55"/>
<circle cx="629.0" cy="546.5" r="2.35" fill="none" stroke="#000" stroke-width="0.55"/>
<circle cx="595.0" cy="563.2" r="2.35" fill="none" stroke="#000" stroke-width="0.55"/>
<circle cx="605.0" cy="565.0" r="2.35" fill="none" stroke="#000" stroke-width="0.55"/>
<circle cx="650.6" cy="546.9" r="2.35" fill="none" stroke="#000" stroke-width="0.55"/>
<circle cx="673.3" cy="556.6" r="2.35" fill="none" stroke="#000" stroke-width="0.55"/>
<circle cx="605.6" cy="554.6" r="2.35" fill="none" stroke="#000" stroke-width="0.55"/>
<circle cx="641.1" cy="557.4" r="2.35" fill="none" stroke="#000" stroke-width="0.55"/>
<circle cx="563.3" cy="566.7" r="2.35" fill="none" stroke="#000" stroke-width="0.55"/>
<circle cx="645.7" cy="544.3" r="2.35" fill="none" stroke="#000" stroke-width="0.55"/>
<circle cx="585.4" cy="557.9" r="2.35" fill="none" stroke="#000" stroke-width="0.55"/>
<circle cx="587.5" cy="572.1" r="2.35" fill="none" stroke="#000" stroke-width="0.55"/>
<circle cx="621.2" cy="539.2" r="2.35" fill="none" stroke="#000" stroke-width="0.55"/>
<circle cx="627.8" cy="562.5" r="2.35" fill="none" stroke="#000" stroke-width="0.55"/>
<circle cx="649.3" cy="553.5" r="2.35" fill="none" stroke="#000" stroke-width="0.55"/>
<circle cx="617.0" cy="572.2" r="2.35" fill="none" stroke="#000" stroke-width="0.55"/>
<circle cx="656.6" cy="570.7" r="2.35" fill="none" stroke="#000" stroke-width="0.55"/>
<circle cx="600.3" cy="567.3" r="2.35" fill="none" stroke="#000" stroke-width="0.55"/>
<circle cx="625.1" cy="554.1" r="2.35" fill="none" stroke="#000" stroke-width="0.55"/>
<circle cx="646.7" cy="557.5" r="2.35" fill="none" stroke="#000" stroke-width="0.55"/>
<circle cx="521.8" cy="563.2" r="2.35" fill="none" stroke="#000" stroke-width="0.55"/>
<circle cx="521.4" cy="569.4" r="2.35" fill="none" stroke="#000" stroke-width="0.55"/>
<circle cx="532.7" cy="562.5" r="2.35" fill="none" stroke="#000" stroke-width="0.55"/>
<circle cx="548.1" cy="553.9" r="2.35" fill="none" stroke="#000" stroke-width="0.55"/>
<circle cx="507.4" cy="554.5" r="2.35" fill="none" stroke="#000" stroke-width="0.55"/>
<circle cx="567.7" cy="573.2" r="2.35" fill="none" stroke="#000" stroke-width="0.55"/>
<circle cx="558.1" cy="563.9" r="2.35" fill="none" stroke="#000" stroke-width="0.55"/>
<circle cx="526.4" cy="563.4" r="2.35" fill="none" stroke="#000" stroke-width="0.55"/>
<circle cx="549.7" cy="566.2" r="2.35" fill="none" stroke="#000" stroke-width="0.55"/>
<circle cx="532.1" cy="580.4" r="2.35" fill="none" stroke="#000" stroke-width="0.55"/>
<circle cx="500.7" cy="586.5" r="2.35" fill="none" stroke="#000" stroke-width="0.55"/>
<circle cx="514.5" cy="563.9" r="2.35" fill="none" stroke="#000" stroke-width="0.55"/>
<circle cx="543.1" cy="562.1" r="2.35" fill="none" stroke="#000" stroke-width="0.55"/>
<circle cx="537.8" cy="576.3" r="2.35" fill="none" stroke="#000" stroke-width="0.55"/>
<circle cx="520.9" cy="558.8" r="2.35" fill="none" stroke="#000" stroke-width="0.55"/>
<circle cx="546.7" cy="575.2" r="2.35" fill="none" stroke="#000" stroke-width="0.55"/>
<circle cx="518.0" cy="571.0" r="2.35" fill="none" stroke="#000" stroke-width="0.55"/>
<circle cx="523.1" cy="583.5" r="2.35" fill="none" stroke="#000" stroke-width="0.55"/>
<circle cx="566.2" cy="547.2" r="2.35" fill="none" stroke="#000" stroke-width="0.55"/>
<circle cx="523.2" cy="557.6" r="2.35" fill="none" stroke="#000" stroke-width="0.55"/>
<circle cx="557.9" cy="570.5" r="2.35" fill="none" stroke="#000" stroke-width="0.55"/>
<circle cx="506.6" cy="568.6" r="2.35" fill="none" stroke="#000" stroke-width="0.55"/>
<circle cx="547.4" cy="563.0" r="2.35" fill="none" stroke="#000" stroke-width="0.55"/>
<circle cx="528.2" cy="557.7" r="2.35" fill="none" stroke="#000" stroke-width="0.55"/>
<circle cx="558.6" cy="560.6" r="2.35" fill="none" stroke="#000" stroke-width="0.55"/>
<polygon points="509.4,514.4 512.0,519.2 506.8,519.2" fill="none" stroke="#000" stroke-width="0.7"/>
<polygon points="490.4,560.2 493.0,565.0 487.8,565.0" fill="none" stroke="#000" stroke-width="0.7"/>
<polygon points="495.5,562.4 498.1,567.2 492.9,567.2" fill="none" stroke="#000" stroke-width="0.7"/>
<polygon points="490.4,582.9 493.0,587.7 487.8,587.7" fill="none" stroke="#000" stroke-width="0.7"/>
<polygon points="505.6,590.0 508.2,594.8 503.0,594.8" fill="none" stroke="#000" stroke-width="0.7"/>
<polygon points="521.9,590.0 524.5,594.8 519.3,594.8" fill="none" stroke="#000" stroke-width="0.7"/>
<polygon points="527.4,558.0 530.0,562.8 524.8,562.8" fill="none" stroke="#000" stroke-width="0.7"/>
<polygon points="531.9,580.5 534.5,585.3 529.3,585.3" fill="none" stroke="#000" stroke-width="0.7"/>
<polygon points="555.0,590.0 557.6,594.8 552.4,594.8" fill="none" stroke="#000" stroke-width="0.7"/>
<polygon points="553.9,585.1 556.5,589.9 551.3,589.9" fill="none" stroke="#000" stroke-width="0.7"/>
<polygon points="548.4,560.2 551.0,565.0 545.8,565.0" fill="none" stroke="#000" stroke-width="0.7"/>
<polygon points="553.9,558.0 556.5,562.8 551.3,562.8" fill="none" stroke="#000" stroke-width="0.7"/>
<polygon points="565.3,578.3 567.9,583.1 562.7,583.1" fill="none" stroke="#000" stroke-width="0.7"/>
<polygon points="570.4,564.6 573.0,569.4 567.8,569.4" fill="none" stroke="#000" stroke-width="0.7"/>
<polygon points="588.0,573.4 590.6,578.2 585.4,578.2" fill="none" stroke="#000" stroke-width="0.7"/>
<polygon points="509.8,563.5 512.4,568.3 507.2,568.3" fill="none" stroke="#000" stroke-width="0.7"/>
<polygon points="472.4,570.1 475.0,574.9 469.8,574.9" fill="none" stroke="#000" stroke-width="0.7"/>
<polygon points="487.8,542.6 490.4,547.4 485.2,547.4" fill="none" stroke="#000" stroke-width="0.7"/>
<polygon points="515.3,586.7 517.9,591.5 512.7,591.5" fill="none" stroke="#000" stroke-width="0.7"/>
<polygon points="544.0,583.4 546.6,588.2 541.4,588.2" fill="none" stroke="#000" stroke-width="0.7"/>
<polygon points="549.5,580.0 552.1,584.8 546.9,584.8" fill="none" stroke="#000" stroke-width="0.7"/>
<polygon points="561.6,560.2 564.2,565.0 559.0,565.0" fill="none" stroke="#000" stroke-width="0.7"/>
<polygon points="577.0,565.7 579.6,570.5 574.4,570.5" fill="none" stroke="#000" stroke-width="0.7"/>
<polygon points="581.4,563.5 584.0,568.3 578.8,568.3" fill="none" stroke="#000" stroke-width="0.7"/>
<polygon points="583.6,562.4 586.2,567.2 581.0,567.2" fill="none" stroke="#000" stroke-width="0.7"/>
<polygon points="499.9,596.6 502.5,601.4 497.3,601.4" fill="none" stroke="#000" stroke-width="0.7"/>
<polygon points="582.7,557.4 585.3,562.2 580.1,562.2" fill="none" stroke="#000" stroke-width="0.7"/>
<polygon points="575.7,566.1 578.3,570.9 573.1,570.9" fill="none" stroke="#000" stroke-width="0.7"/>
<polygon points="567.3,566.1 569.9,570.9 564.7,570.9" fill="none" stroke="#000" stroke-width="0.7"/>
<polygon points="652.1,549.9 654.7,554.7 649.5,554.7" fill="none" stroke="#000" stroke-width="0.7"/>
<polygon points="624.7,564.4 627.3,569.2 622.1,569.2" fill="none" stroke="#000" stroke-width="0.7"/>
<polygon points="636.7,563.4 639.3,568.2 634.1,568.2" fill="none" stroke="#000" stroke-width="0.7"/>
<polygon points="593.1,551.6 595.7,556.4 590.5,556.4" fill="none" stroke="#000" stroke-width="0.7"/>
<polygon points="601.2,568.7 603.8,573.5 598.6,573.5" fill="none" stroke="#000" stroke-width="0.7"/>
<polygon points="630.0,560.5 632.6,565.3 627.4,565.3" fill="none" stroke="#000" stroke-width="0.7"/>
<polygon points="658.2,562.9 660.8,567.7 655.6,567.7" fill="none" stroke="#000" stroke-width="0.7"/>
<polygon points="620.9,546.8 623.5,551.6 618.3,551.6" fill="none" stroke="#000" stroke-width="0.7"/>
<polygon points="561.9,555.6 564.5,560.4 559.3,560.4" fill="none" stroke="#000" stroke-width="0.7"/>
<polygon points="625.1,566.8 627.7,571.6 622.5,571.6" fill="none" stroke="#000" stroke-width="0.7"/>
<polygon points="570.6,551.9 573.2,556.7 568.0,556.7" fill="none" stroke="#000" stroke-width="0.7"/>
<polygon points="638.9,567.1 641.5,571.9 636.3,571.9" fill="none" stroke="#000" stroke-width="0.7"/>
<polygon points="642.5,555.6 645.1,560.4 639.9,560.4" fill="none" stroke="#000" stroke-width="0.7"/>
<polygon points="636.7,556.2 639.3,561.0 634.1,561.0" fill="none" stroke="#000" stroke-width="0.7"/>
<polygon points="650.3,551.6 652.9,556.4 647.7,556.4" fill="none" stroke="#000" stroke-width="0.7"/>
<polygon points="610.0,557.1 612.6,561.9 607.4,561.9" fill="none" stroke="#000" stroke-width="0.7"/>
<polygon points="574.2,553.6 576.8,558.4 571.6,558.4" fill="none" stroke="#000" stroke-width="0.7"/>
<polygon points="611.6,533.8 614.2,538.6 609.0,538.6" fill="none" stroke="#000" stroke-width="0.7"/>
<polygon points="631.5,562.7 634.1,567.5 628.9,567.5" fill="none" stroke="#000" stroke-width="0.7"/>
<polygon points="654.5,554.5 657.1,559.3 651.9,559.3" fill="none" stroke="#000" stroke-width="0.7"/>
<polygon points="622.7,560.8 625.3,565.6 620.1,565.6" fill="none" stroke="#000" stroke-width="0.7"/>
<polygon points="584.5,563.2 587.1,568.0 581.9,568.0" fill="none" stroke="#000" stroke-width="0.7"/>
<polygon points="617.6,557.0 620.2,561.8 615.0,561.8" fill="none" stroke="#000" stroke-width="0.7"/>
<polygon points="652.9,552.0 655.5,556.8 650.3,556.8" fill="none" stroke="#000" stroke-width="0.7"/>
<polygon points="596.1,555.1 598.7,559.9 593.5,559.9" fill="none" stroke="#000" stroke-width="0.7"/>
<polygon points="657.4,560.7 660.0,565.5 654.8,565.5" fill="none" stroke="#000" stroke-width="0.7"/>
<polygon points="573.6,568.9 576.2,573.7 571.0,573.7" fill="none" stroke="#000" stroke-width="0.7"/>
<polygon points="685.9,549.5 688.4,554.1 683.4,554.1" fill="#000"/>
<polygon points="761.9,549.6 764.4,554.2 759.4,554.2" fill="#000"/>
<polygon points="650.1,567.0 652.6,571.6 647.6,571.6" fill="#000"/>
<polygon points="687.0,571.9 689.5,576.5 684.5,576.5" fill="#000"/>
<polygon points="684.9,546.5 687.4,551.1 682.4,551.1" fill="#000"/>
<polygon points="754.7,547.8 757.2,552.4 752.2,552.4" fill="#000"/>
<polygon points="695.0,565.1 697.5,569.7 692.5,569.7" fill="#000"/>
<polygon points="688.5,568.3 691.0,572.9 686.0,572.9" fill="#000"/>
<polygon points="651.7,555.2 654.2,559.8 649.2,559.8" fill="#000"/>
<polygon points="654.2,558.7 656.7,563.3 651.7,563.3" fill="#000"/>
<polygon points="692.6,546.6 695.1,551.2 690.1,551.2" fill="#000"/>
<polygon points="651.9,570.2 654.4,574.8 649.4,574.8" fill="#000"/>
<polygon points="691.2,562.2 693.7,566.8 688.7,566.8" fill="#000"/>
<polygon points="701.6,561.0 704.1,565.6 699.1,565.6" fill="#000"/>
<polygon points="673.5,556.0 676.0,560.6 671.0,560.6" fill="#000"/>
<polygon points="714.2,555.2 716.7,559.8 711.7,559.8" fill="#000"/>
<polygon points="728.1,539.7 730.6,544.3 725.6,544.3" fill="#000"/>
<polygon points="713.8,563.2 716.3,567.8 711.3,567.8" fill="#000"/>
<polygon points="701.7,551.1 704.2,555.7 699.2,555.7" fill="#000"/>
<polygon points="631.4,558.6 633.9,563.2 628.9,563.2" fill="#000"/>
<polygon points="644.3,562.9 646.8,567.5 641.8,567.5" fill="#000"/>
<polygon points="672.4,550.0 674.9,554.6 669.9,554.6" fill="#000"/>
<polygon points="645.7,570.3 648.2,574.9 643.2,574.9" fill="#000"/>
<polygon points="706.0,545.4 708.5,550.0 703.5,550.0" fill="#000"/>
<polygon points="686.5,572.8 689.0,577.4 684.0,577.4" fill="#000"/>
<polygon points="634.7,574.1 637.2,578.7 632.2,578.7" fill="#000"/>
<polygon points="622.7,553.0 625.2,557.6 620.2,557.6" fill="#000"/>
<polygon points="746.2,544.6 748.7,549.2 743.7,549.2" fill="#000"/>
<polygon points="688.0,545.0 690.5,549.6 685.5,549.6" fill="#000"/>
<polygon points="645.4,548.2 647.9,552.8 642.9,552.8" fill="#000"/>
<polygon points="732.6,543.9 735.1,548.5 730.1,548.5" fill="#000"/>
<polygon points="715.7,568.4 718.2,573.0 713.2,573.0" fill="#000"/>
<polygon points="708.7,551.4 711.2,556.0 706.2,556.0" fill="#000"/>
<polygon points="762.9,536.6 765.4,541.2 760.4,541.2" fill="#000"/>
<polygon points="655.7,569.8 658.2,574.4 653.2,574.4" fill="#000"/>
<polygon points="614.3,564.1 616.8,568.7 611.8,568.7" fill="#000"/>
<polygon points="741.4,538.5 743.9,543.1 738.9,543.1" fill="#000"/>
<polygon points="716.9,558.7 719.4,563.3 714.4,563.3" fill="#000"/>
<polygon points="621.6,553.2 624.1,557.8 619.1,557.8" fill="#000"/>
<polygon points="659.3,561.9 661.8,566.5 656.8,566.5" fill="#000"/>
<polygon points="670.5,565.0 673.0,569.6 668.0,569.6" fill="#000"/>
<polygon points="664.7,569.1 667.2,573.7 662.2,573.7" fill="#000"/>
<polygon points="662.7,567.2 665.2,571.8 660.2,571.8" fill="#000"/>
<polygon points="683.3,561.9 685.8,566.5 680.8,566.5" fill="#000"/>
<polygon points="636.7,552.5 639.2,557.1 634.2,557.1" fill="#000"/>
<polygon points="624.7,570.1 627.2,574.7 622.2,574.7" fill="#000"/>
<polygon points="662.9,561.3 665.4,565.9 660.4,565.9" fill="#000"/>
<polygon points="720.8,558.8 723.3,563.4 718.3,563.4" fill="#000"/>
<polygon points="671.5,569.6 674.0,574.2 669.0,574.2" fill="#000"/>
<polygon points="692.9,553.6 695.4,558.2 690.4,558.2" fill="#000"/>
<polygon points="704.2,554.0 706.7,558.6 701.7,558.6" fill="#000"/>
<polygon points="682.7,571.3 685.2,575.9 680.2,575.9" fill="#000"/>
<polygon points="703.9,546.2 706.4,550.8 701.4,550.8" fill="#000"/>
<polygon points="703.4,565.1 705.9,569.7 700.9,569.7" fill="#000"/>
<polygon points="659.3,558.5 661.8,563.1 656.8,563.1" fill="#000"/>
<polygon points="642.9,564.1 645.4,568.7 640.4,568.7" fill="#000"/>
<polygon points="687.0,569.5 689.5,574.1 684.5,574.1" fill="#000"/>
<polygon points="633.2,558.0 635.7,562.6 630.7,562.6" fill="#000"/>
<polygon points="661.6,571.0 664.1,575.6 659.1,575.6" fill="#000"/>
<polygon points="684.5,568.6 687.0,573.2 682.0,573.2" fill="#000"/>
<polygon points="652.0,554.5 654.5,559.1 649.5,559.1" fill="#000"/>
<polygon points="683.1,551.4 685.6,556.0 680.6,556.0" fill="#000"/>
<polygon points="647.3,568.7 649.8,573.3 644.8,573.3" fill="#000"/>
<polygon points="639.6,569.8 642.1,574.4 637.1,574.4" fill="#000"/>
<polygon points="645.0,555.0 647.5,559.6 642.5,559.6" fill="#000"/>
<polygon points="721.0,556.8 723.5,561.4 718.5,561.4" fill="#000"/>
<polygon points="720.9,542.2 723.4,546.8 718.4,546.8" fill="#000"/>
<polygon points="622.5,571.4 625.0,576.0 620.0,576.0" fill="#000"/>
<polygon points="629.3,552.4 631.8,557.0 626.8,557.0" fill="#000"/>
<polygon points="647.9,566.6 650.4,571.2 645.4,571.2" fill="#000"/>
<polygon points="658.8,549.6 661.3,554.2 656.3,554.2" fill="#000"/>
<polygon points="716.5,551.8 719.0,556.4 714.0,556.4" fill="#000"/>
<polygon points="720.5,561.4 723.0,566.0 718.0,566.0" fill="#000"/>
<polygon points="644.8,554.5 647.3,559.1 642.3,559.1" fill="#000"/>
<polygon points="710.9,561.2 713.4,565.8 708.4,565.8" fill="#000"/>
<polygon points="709.1,551.9 711.6,556.5 706.6,556.5" fill="#000"/>
<polygon points="657.7,554.8 660.2,559.4 655.2,559.4" fill="#000"/>
<polygon points="620.6,553.2 623.1,557.8 618.1,557.8" fill="#000"/>
<polygon points="665.3,559.7 667.8,564.3 662.8,564.3" fill="#000"/>
<polygon points="725.0,551.8 727.5,556.4 722.5,556.4" fill="#000"/>
<polygon points="639.6,554.6 642.1,559.2 637.1,559.2" fill="#000"/>
<polygon points="641.5,549.2 644.0,553.8 639.0,553.8" fill="#000"/>
<polygon points="741.5,542.8 744.0,547.4 739.0,547.4" fill="#000"/>
<polygon points="652.6,573.3 655.1,577.9 650.1,577.9" fill="#000"/>
<polygon points="702.8,564.5 705.3,569.1 700.3,569.1" fill="#000"/>
<polygon points="671.5,545.5 674.0,550.1 669.0,550.1" fill="#000"/>
<polygon points="728.2,559.0 730.7,563.6 725.7,563.6" fill="#000"/>
<polygon points="644.5,555.5 647.0,560.1 642.0,560.1" fill="#000"/>
<polygon points="636.6,545.7 639.1,550.3 634.1,550.3" fill="#000"/>
<polygon points="674.8,561.4 677.3,566.0 672.3,566.0" fill="#000"/>
<polygon points="699.5,565.1 702.0,569.7 697.0,569.7" fill="#000"/>
<polygon points="620.6,552.3 623.1,556.9 618.1,556.9" fill="#000"/>
<polygon points="711.0,546.6 713.5,551.2 708.5,551.2" fill="#000"/>
<polygon points="668.3,550.2 670.8,554.8 665.8,554.8" fill="#000"/>
<polygon points="686.4,567.2 688.9,571.8 683.9,571.8" fill="#000"/>
<polygon points="727.5,556.7 730.0,561.3 725.0,561.3" fill="#000"/>
<polygon points="725.3,558.0 727.8,562.6 722.8,562.6" fill="#000"/>
<polygon points="718.3,567.6 720.8,572.2 715.8,572.2" fill="#000"/>
<polygon points="630.7,558.6 633.2,563.2 628.2,563.2" fill="#000"/>
<polygon points="629.0,552.3 631.5,556.9 626.5,556.9" fill="#000"/>
<polygon points="629.7,558.3 632.2,562.9 627.2,562.9" fill="#000"/>
<polygon points="638.8,552.6 641.3,557.2 636.3,557.2" fill="#000"/>
<polygon points="652.4,561.9 654.9,566.5 649.9,566.5" fill="#000"/>
<polygon points="685.4,565.9 687.9,570.5 682.9,570.5" fill="#000"/>
<polygon points="645.2,556.0 647.7,560.6 642.7,560.6" fill="#000"/>
<polygon points="633.2,559.6 635.7,564.2 630.7,564.2" fill="#000"/>
<polygon points="641.9,554.5 644.4,559.1 639.4,559.1" fill="#000"/>
<polygon points="735.7,544.3 738.2,548.9 733.2,548.9" fill="#000"/>
<polygon points="655.3,553.7 657.8,558.3 652.8,558.3" fill="#000"/>
<polygon points="687.2,567.8 689.7,572.4 684.7,572.4" fill="#000"/>
<polygon points="691.4,559.7 693.9,564.3 688.9,564.3" fill="#000"/>
<polygon points="708.0,569.5 710.5,574.1 705.5,574.1" fill="#000"/>
<polygon points="714.6,544.2 717.1,548.8 712.1,548.8" fill="#000"/>
<polygon points="669.6,574.1 672.1,578.7 667.1,578.7" fill="#000"/>
<polygon points="619.9,550.7 622.4,555.3 617.4,555.3" fill="#000"/>
<polygon points="634.9,554.4 637.4,559.0 632.4,559.0" fill="#000"/>
<polygon points="680.5,559.8 683.0,564.4 678.0,564.4" fill="#000"/>
<polygon points="708.2,570.3 710.7,574.9 705.7,574.9" fill="#000"/>
<polygon points="668.4,568.4 670.9,573.0 665.9,573.0" fill="#000"/>
<polygon points="696.3,574.6 698.8,579.2 693.8,579.2" fill="#000"/>
<polygon points="653.1,559.4 655.6,564.0 650.6,564.0" fill="#000"/>
<polygon points="663.4,565.8 665.9,570.4 660.9,570.4" fill="#000"/>
<polygon points="659.4,550.3 661.9,554.9 656.9,554.9" fill="#000"/>
<polygon points="650.3,546.7 652.8,551.3 647.8,551.3" fill="#000"/>
<polygon points="614.0,566.9 616.5,571.5 611.5,571.5" fill="#000"/>
<polygon points="679.4,549.4 681.9,554.0 676.9,554.0" fill="#000"/>
<polygon points="749.4,532.4 751.9,537.0 746.9,537.0" fill="#000"/>
<polygon points="681.6,564.3 684.1,568.9 679.1,568.9" fill="#000"/>
<polygon points="698.7,554.5 701.2,559.1 696.2,559.1" fill="#000"/>
<polygon points="702.3,569.0 704.8,573.6 699.8,573.6" fill="#000"/>
<polygon points="698.0,559.1 700.5,563.7 695.5,563.7" fill="#000"/>
<polygon points="705.7,543.9 708.2,548.5 703.2,548.5" fill="#000"/>
<polygon points="655.1,546.1 657.6,550.7 652.6,550.7" fill="#000"/>
<polygon points="717.2,572.5 719.7,577.1 714.7,577.1" fill="#000"/>
<polygon points="691.8,557.0 694.3,561.6 689.3,561.6" fill="#000"/>
<polygon points="761.1,531.2 763.6,535.8 758.6,535.8" fill="#000"/>
<polygon points="649.7,544.2 652.2,548.8 647.2,548.8" fill="#000"/>
<polygon points="722.9,550.7 725.4,555.3 720.4,555.3" fill="#000"/>
<polygon points="634.8,561.5 637.3,566.1 632.3,566.1" fill="#000"/>
<polygon points="665.4,568.0 667.9,572.6 662.9,572.6" fill="#000"/>
<polygon points="690.7,564.4 693.2,569.0 688.2,569.0" fill="#000"/>
<polygon points="730.1,556.3 732.6,560.9 727.6,560.9" fill="#000"/>
<polygon points="705.6,547.1 708.1,551.7 703.1,551.7" fill="#000"/>
<polygon points="726.2,553.5 728.7,558.1 723.7,558.1" fill="#000"/>
<polygon points="626.4,545.9 628.9,550.5 623.9,550.5" fill="#000"/>
<polygon points="651.8,561.9 654.3,566.5 649.3,566.5" fill="#000"/>
<polygon points="670.0,552.4 672.5,557.0 667.5,557.0" fill="#000"/>
<polygon points="610.7,570.0 613.2,574.6 608.2,574.6" fill="#000"/>
<polygon points="679.6,573.6 682.1,578.2 677.1,578.2" fill="#000"/>
<polygon points="711.1,553.2 713.6,557.8 708.6,557.8" fill="#000"/>
<polygon points="644.7,561.9 647.2,566.5 642.2,566.5" fill="#000"/>
<polygon points="691.1,554.9 693.6,559.5 688.6,559.5" fill="#000"/>
<polygon points="731.7,559.6 734.2,564.2 729.2,564.2" fill="#000"/>
<polygon points="654.4,542.9 656.9,547.5 651.9,547.5" fill="#000"/>
<polygon points="615.2,545.4 617.7,550.0 612.7,550.0" fill="#000"/>
<polygon points="682.2,546.0 684.7,550.6 679.7,550.6" fill="#000"/>
<polygon points="718.7,537.9 721.2,542.5 716.2,542.5" fill="#000"/>
<polygon points="700.3,554.0 702.8,558.6 697.8,558.6" fill="#000"/>
<polygon points="707.9,566.0 710.4,570.6 705.4,570.6" fill="#000"/>
<polygon points="730.4,556.5 732.9,561.1 727.9,561.1" fill="#000"/>
<polygon points="714.6,542.2 717.1,546.8 712.1,546.8" fill="#000"/>
<polygon points="658.6,553.0 661.1,557.6 656.1,557.6" fill="#000"/>
<polygon points="669.9,564.4 672.4,569.0 667.4,569.0" fill="#000"/>
<polygon points="662.9,569.9 665.4,574.5 660.4,574.5" fill="#000"/>
<polygon points="700.8,549.8 703.3,554.4 698.3,554.4" fill="#000"/>
<polygon points="684.8,563.7 687.3,568.3 682.3,568.3" fill="#000"/>
<polygon points="627.6,557.8 630.1,562.4 625.1,562.4" fill="#000"/>
<polygon points="633.4,555.0 635.9,559.6 630.9,559.6" fill="#000"/>
<polygon points="725.0,563.7 727.5,568.3 722.5,568.3" fill="#000"/>
<polygon points="701.8,548.0 704.3,552.6 699.3,552.6" fill="#000"/>
<polygon points="731.3,565.6 733.8,570.2 728.8,570.2" fill="#000"/>
<polygon points="673.5,564.9 676.0,569.5 671.0,569.5" fill="#000"/>
<polygon points="717.7,552.4 720.2,557.0 715.2,557.0" fill="#000"/>
<polygon points="669.3,574.4 671.8,579.0 666.8,579.0" fill="#000"/>
<polygon points="692.8,551.5 695.3,556.1 690.3,556.1" fill="#000"/>
<polygon points="712.8,565.7 715.3,570.3 710.3,570.3" fill="#000"/>
<polygon points="649.4,566.7 651.9,571.3 646.9,571.3" fill="#000"/>
<polygon points="677.2,561.2 679.7,565.8 674.7,565.8" fill="#000"/>
<polygon points="689.3,561.0 691.8,565.6 686.8,565.6" fill="#000"/>
<polygon points="642.6,559.8 645.1,564.4 640.1,564.4" fill="#000"/>
<polygon points="716.4,546.8 718.9,551.4 713.9,551.4" fill="#000"/>
<polygon points="721.4,561.9 723.9,566.5 718.9,566.5" fill="#000"/>
<polygon points="730.4,561.3 732.9,565.9 727.9,565.9" fill="#000"/>
<polygon points="647.8,561.3 650.3,565.9 645.3,565.9" fill="#000"/>
<polygon points="708.9,564.9 711.4,569.5 706.4,569.5" fill="#000"/>
<polygon points="682.0,571.3 684.5,575.9 679.5,575.9" fill="#000"/>
<polygon points="644.6,564.8 647.1,569.4 642.1,569.4" fill="#000"/>
<polygon points="684.0,572.5 686.5,577.1 681.5,577.1" fill="#000"/>
<polygon points="662.9,564.8 665.4,569.4 660.4,569.4" fill="#000"/>
<polygon points="680.2,551.4 682.7,556.0 677.7,556.0" fill="#000"/>
<polygon points="710.1,560.9 712.6,565.5 707.6,565.5" fill="#000"/>
<polygon points="652.4,553.1 654.9,557.7 649.9,557.7" fill="#000"/>
<polygon points="607.6,558.2 610.1,562.8 605.1,562.8" fill="#000"/>
<polygon points="619.3,553.2 621.8,557.8 616.8,557.8" fill="#000"/>
<polygon points="690.6,575.2 693.1,579.8 688.1,579.8" fill="#000"/>
<polygon points="691.6,571.7 694.1,576.3 689.1,576.3" fill="#000"/>
<polygon points="656.2,563.0 658.7,567.6 653.7,567.6" fill="#000"/>
<polygon points="665.9,562.2 668.4,566.8 663.4,566.8" fill="#000"/>
<polygon points="689.5,564.1 692.0,568.7 687.0,568.7" fill="#000"/>
<polygon points="678.2,547.9 680.7,552.5 675.7,552.5" fill="#000"/>
<polygon points="646.5,561.0 649.0,565.6 644.0,565.6" fill="#000"/>
<polygon points="740.5,553.9 743.0,558.5 738.0,558.5" fill="#000"/>
<polygon points="665.4,556.5 667.9,561.1 662.9,561.1" fill="#000"/>
<polygon points="637.7,557.4 640.2,562.0 635.2,562.0" fill="#000"/>
<polygon points="681.5,569.3 684.0,573.9 679.0,573.9" fill="#000"/>
<polygon points="697.7,548.4 700.2,553.0 695.2,553.0" fill="#000"/>
<polygon points="727.1,562.0 729.6,566.6 724.6,566.6" fill="#000"/>
<polygon points="677.3,570.2 679.8,574.8 674.8,574.8" fill="#000"/>
<polygon points="700.9,560.0 703.4,564.6 698.4,564.6" fill="#000"/>
<polygon points="663.1,556.7 665.6,561.3 660.6,561.3" fill="#000"/>
<polygon points="727.3,557.4 729.8,562.0 724.8,562.0" fill="#000"/>
<polygon points="660.1,558.5 662.6,563.1 657.6,563.1" fill="#000"/>
<polygon points="674.5,556.5 677.0,561.1 672.0,561.1" fill="#000"/>
<polygon points="709.7,558.8 712.2,563.4 707.2,563.4" fill="#000"/>
<polygon points="722.1,551.6 724.6,556.2 719.6,556.2" fill="#000"/>
<polygon points="699.3,562.5 701.8,567.1 696.8,567.1" fill="#000"/>
<polygon points="713.6,572.9 716.1,577.5 711.1,577.5" fill="#000"/>
<polygon points="669.7,557.5 672.2,562.1 667.2,562.1" fill="#000"/>
<polygon points="695.0,566.3 697.5,570.9 692.5,570.9" fill="#000"/>
<polygon points="730.2,560.0 732.7,564.6 727.7,564.6" fill="#000"/>
<polygon points="697.5,571.6 700.0,576.2 695.0,576.2" fill="#000"/>
<polygon points="632.0,555.2 634.5,559.8 629.5,559.8" fill="#000"/>
<polygon points="725.1,551.4 727.6,556.0 722.6,556.0" fill="#000"/>
<polygon points="629.4,564.8 631.9,569.4 626.9,569.4" fill="#000"/>
<polygon points="618.4,561.2 620.9,565.8 615.9,565.8" fill="#000"/>
<polygon points="706.5,561.8 709.0,566.4 704.0,566.4" fill="#000"/>
<polygon points="649.8,561.5 652.3,566.1 647.3,566.1" fill="#000"/>
<polygon points="751.2,530.0 753.7,534.6 748.7,534.6" fill="#000"/>
<polygon points="683.9,559.3 686.4,563.9 681.4,563.9" fill="#000"/>
<polygon points="642.4,551.8 644.9,556.4 639.9,556.4" fill="#000"/>
<polygon points="650.6,546.2 653.1,550.8 648.1,550.8" fill="#000"/>
<polygon points="664.1,566.5 666.6,571.1 661.6,571.1" fill="#000"/>
<polygon points="621.3,559.8 623.8,564.4 618.8,564.4" fill="#000"/>
<polygon points="677.7,571.6 680.2,576.2 675.2,576.2" fill="#000"/>
<polygon points="647.3,561.6 649.8,566.2 644.8,566.2" fill="#000"/>
<polygon points="690.2,570.7 692.7,575.3 687.7,575.3" fill="#000"/>
<polygon points="617.6,567.9 620.1,572.5 615.1,572.5" fill="#000"/>
<polygon points="698.4,547.0 700.9,551.6 695.9,551.6" fill="#000"/>
<polygon points="625.4,572.5 627.9,577.1 622.9,577.1" fill="#000"/>
<polygon points="709.5,542.6 712.0,547.2 707.0,547.2" fill="#000"/>
<polygon points="649.2,571.2 651.7,575.8 646.7,575.8" fill="#000"/>
<polygon points="680.1,566.3 682.6,570.9 677.6,570.9" fill="#000"/>
<polygon points="681.1,566.9 683.6,571.5 678.6,571.5" fill="#000"/>
<polygon points="664.5,565.2 667.0,569.8 662.0,569.8" fill="#000"/>
<polygon points="679.1,555.7 681.6,560.3 676.6,560.3" fill="#000"/>
<polygon points="677.0,545.0 679.5,549.6 674.5,549.6" fill="#000"/>
<polygon points="684.9,554.3 687.4,558.9 682.4,558.9" fill="#000"/>
<polygon points="648.1,553.8 650.6,558.4 645.6,558.4" fill="#000"/>
<polygon points="701.5,559.3 704.0,563.9 699.0,563.9" fill="#000"/>
<polygon points="629.9,575.2 632.4,579.8 627.4,579.8" fill="#000"/>
<polygon points="729.4,554.4 731.9,559.0 726.9,559.0" fill="#000"/>
<polygon points="664.7,561.6 667.2,566.2 662.2,566.2" fill="#000"/>
<polygon points="665.8,554.8 668.3,559.4 663.3,559.4" fill="#000"/>
<polygon points="613.2,552.3 615.7,556.9 610.7,556.9" fill="#000"/>
<polygon points="705.2,556.3 707.7,560.9 702.7,560.9" fill="#000"/>
<polygon points="695.8,543.8 698.3,548.4 693.3,548.4" fill="#000"/>
<polygon points="747.1,542.7 749.6,547.3 744.6,547.3" fill="#000"/>
<polygon points="707.2,565.3 709.7,569.9 704.7,569.9" fill="#000"/>
<polygon points="643.9,561.7 646.4,566.3 641.4,566.3" fill="#000"/>
<polygon points="716.0,565.2 718.5,569.8 713.5,569.8" fill="#000"/>
<polygon points="687.5,543.8 690.0,548.4 685.0,548.4" fill="#000"/>
<polygon points="674.3,567.9 676.8,572.5 671.8,572.5" fill="#000"/>
<polygon points="642.2,556.4 644.7,561.0 639.7,561.0" fill="#000"/>
<polygon points="671.0,555.7 673.5,560.3 668.5,560.3" fill="#000"/>
<polygon points="700.2,545.2 702.7,549.8 697.7,549.8" fill="#000"/>
<polygon points="643.7,562.6 646.2,567.2 641.2,567.2" fill="#000"/>
<polygon points="625.8,572.0 628.3,576.6 623.3,576.6" fill="#000"/>
<polygon points="715.6,545.7 718.1,550.3 713.1,550.3" fill="#000"/>
<polygon points="650.1,570.7 652.6,575.3 647.6,575.3" fill="#000"/>
<polygon points="642.6,554.5 645.1,559.1 640.1,559.1" fill="#000"/>
<polygon points="733.3,555.0 735.8,559.6 730.8,559.6" fill="#000"/>
<polygon points="703.8,547.6 706.3,552.2 701.3,552.2" fill="#000"/>
<polygon points="653.7,561.5 656.2,566.1 651.2,566.1" fill="#000"/>
<polygon points="627.6,563.4 630.1,568.0 625.1,568.0" fill="#000"/>
<polygon points="671.9,561.4 674.4,566.0 669.4,566.0" fill="#000"/>
<polygon points="679.4,570.8 681.9,575.4 676.9,575.4" fill="#000"/>
<polygon points="697.2,549.5 699.7,554.1 694.7,554.1" fill="#000"/>
<polygon points="661.1,548.6 663.6,553.2 658.6,553.2" fill="#000"/>
<polygon points="671.0,562.0 673.5,566.6 668.5,566.6" fill="#000"/>
<polygon points="720.0,569.5 722.5,574.1 717.5,574.1" fill="#000"/>
<polygon points="679.9,550.0 682.4,554.6 677.4,554.6" fill="#000"/>
<polygon points="709.5,542.1 712.0,546.7 707.0,546.7" fill="#000"/>
<polygon points="686.6,558.9 689.1,563.5 684.1,563.5" fill="#000"/>
<polygon points="743.7,554.8 746.2,559.4 741.2,559.4" fill="#000"/>
<polygon points="642.3,551.4 644.8,556.0 639.8,556.0" fill="#000"/>
<polygon points="683.9,563.7 686.4,568.3 681.4,568.3" fill="#000"/>
<polygon points="713.7,571.7 716.2,576.3 711.2,576.3" fill="#000"/>
<polygon points="669.8,571.2 672.3,575.8 667.3,575.8" fill="#000"/>
<polygon points="699.6,549.0 702.1,553.6 697.1,553.6" fill="#000"/>
<polygon points="641.7,559.7 644.2,564.3 639.2,564.3" fill="#000"/>
<polygon points="650.8,559.7 653.3,564.3 648.3,564.3" fill="#000"/>
<polygon points="663.4,547.6 665.9,552.2 660.9,552.2" fill="#000"/>
<polygon points="644.4,568.8 646.9,573.4 641.9,573.4" fill="#000"/>
<polygon points="684.6,562.0 687.1,566.6 682.1,566.6" fill="#000"/>
<polygon points="744.2,541.8 746.7,546.4 741.7,546.4" fill="#000"/>
<polygon points="646.4,553.9 648.9,558.5 643.9,558.5" fill="#000"/>
<polygon points="659.1,554.7 661.6,559.3 656.6,559.3" fill="#000"/>
<polygon points="733.7,552.1 736.2,556.7 731.2,556.7" fill="#000"/>
<polygon points="659.0,574.0 661.5,578.6 656.5,578.6" fill="#000"/>
<polygon points="646.5,567.0 649.0,571.6 644.0,571.6" fill="#000"/>
<polygon points="635.6,549.6 638.1,554.2 633.1,554.2" fill="#000"/>
<polygon points="727.8,562.4 730.3,567.0 725.3,567.0" fill="#000"/>
<polygon points="638.8,548.6 641.3,553.2 636.3,553.2" fill="#000"/>
<polygon points="740.2,557.6 742.7,562.2 737.7,562.2" fill="#000"/>
<polygon points="682.7,545.8 685.2,550.4 680.2,550.4" fill="#000"/>
<polygon points="655.1,557.7 657.6,562.3 652.6,562.3" fill="#000"/>
<polygon points="697.8,557.1 700.3,561.7 695.3,561.7" fill="#000"/>
<polygon points="646.5,553.1 649.0,557.7 644.0,557.7" fill="#000"/>
<polygon points="651.1,550.6 653.6,555.2 648.6,555.2" fill="#000"/>
<polygon points="697.6,575.7 700.1,580.3 695.1,580.3" fill="#000"/>
<polygon points="748.7,558.3 751.2,562.9 746.2,562.9" fill="#000"/>
<polygon points="633.0,560.8 635.5,565.4 630.5,565.4" fill="#000"/>
<polygon points="690.2,562.0 692.7,566.6 687.7,566.6" fill="#000"/>
<polygon points="718.7,541.8 721.2,546.4 716.2,546.4" fill="#000"/>
<polygon points="644.6,572.5 647.1,577.1 642.1,577.1" fill="#000"/>
<polygon points="696.5,558.4 699.0,563.0 694.0,563.0" fill="#000"/>
<polygon points="702.1,567.5 704.6,572.1 699.6,572.1" fill="#000"/>
<polygon points="720.0,566.1 722.5,570.7 717.5,570.7" fill="#000"/>
<polygon points="667.5,557.1 670.0,561.7 665.0,561.7" fill="#000"/>
<polygon points="688.0,559.0 690.5,563.6 685.5,563.6" fill="#000"/>
<polygon points="695.3,556.8 697.8,561.4 692.8,561.4" fill="#000"/>
<polygon points="652.3,555.2 654.8,559.8 649.8,559.8" fill="#000"/>
<polygon points="704.3,552.6 706.8,557.2 701.8,557.2" fill="#000"/>
<polygon points="682.9,553.6 685.4,558.2 680.4,558.2" fill="#000"/>
<polygon points="724.5,548.0 727.0,552.6 722.0,552.6" fill="#000"/>
<polygon points="667.0,563.3 669.5,567.9 664.5,567.9" fill="#000"/>
<polygon points="646.4,563.2 648.9,567.8 643.9,567.8" fill="#000"/>
<polygon points="657.9,557.7 660.4,562.3 655.4,562.3" fill="#000"/>
<polygon points="714.7,571.1 717.2,575.7 712.2,575.7" fill="#000"/>
<polygon points="651.1,567.3 653.6,571.9 648.6,571.9" fill="#000"/>
<polygon points="671.1,550.0 673.6,554.6 668.6,554.6" fill="#000"/>
<polygon points="700.8,557.1 703.3,561.7 698.3,561.7" fill="#000"/>
<polygon points="671.2,544.9 673.7,549.5 668.7,549.5" fill="#000"/>
<polygon points="723.4,547.3 725.9,551.9 720.9,551.9" fill="#000"/>
<polygon points="756.9,555.2 759.4,559.8 754.4,559.8" fill="#000"/>
<polygon points="716.3,544.6 718.8,549.2 713.8,549.2" fill="#000"/>
<polygon points="651.1,559.0 653.6,563.6 648.6,563.6" fill="#000"/>
<polygon points="741.9,561.3 744.4,565.9 739.4,565.9" fill="#000"/>
<polygon points="670.5,546.2 673.0,550.8 668.0,550.8" fill="#000"/>
<polygon points="619.5,559.5 622.0,564.1 617.0,564.1" fill="#000"/>
<polygon points="625.7,551.6 628.2,556.2 623.2,556.2" fill="#000"/>
<polygon points="686.6,567.4 689.1,572.0 684.1,572.0" fill="#000"/>
<polygon points="717.7,543.9 720.2,548.5 715.2,548.5" fill="#000"/>
<polygon points="702.4,571.0 704.9,575.6 699.9,575.6" fill="#000"/>
<polygon points="653.1,551.9 655.6,556.5 650.6,556.5" fill="#000"/>
<polygon points="719.8,554.2 722.3,558.8 717.3,558.8" fill="#000"/>
<polygon points="709.4,557.6 711.9,562.2 706.9,562.2" fill="#000"/>
<polygon points="720.6,568.4 723.1,573.0 718.1,573.0" fill="#000"/>
<polygon points="644.3,550.2 646.8,554.8 641.8,554.8" fill="#000"/>
<polygon points="641.6,553.3 644.1,557.9 639.1,557.9" fill="#000"/>
<polygon points="680.9,561.3 683.4,565.9 678.4,565.9" fill="#000"/>
<polygon points="625.6,546.0 628.1,550.6 623.1,550.6" fill="#000"/>
<polygon points="690.7,551.2 693.2,555.8 688.2,555.8" fill="#000"/>
<polygon points="669.2,570.0 671.7,574.6 666.7,574.6" fill="#000"/>
<polygon points="674.2,557.5 676.7,562.1 671.7,562.1" fill="#000"/>
<polygon points="725.7,565.8 728.2,570.4 723.2,570.4" fill="#000"/>
<polygon points="712.3,547.0 714.8,551.6 709.8,551.6" fill="#000"/>
<polygon points="720.7,551.2 723.2,555.8 718.2,555.8" fill="#000"/>
<polygon points="687.9,550.5 690.4,555.1 685.4,555.1" fill="#000"/>
<polygon points="727.1,542.3 729.6,546.9 724.6,546.9" fill="#000"/>
<polygon points="668.5,555.4 671.0,560.0 666.0,560.0" fill="#000"/>
<polygon points="671.1,543.4 673.6,548.0 668.6,548.0" fill="#000"/>
<polygon points="662.1,559.0 664.6,563.6 659.6,563.6" fill="#000"/>
<polygon points="633.3,556.7 635.8,561.3 630.8,561.3" fill="#000"/>
<polygon points="719.6,548.8 722.1,553.4 717.1,553.4" fill="#000"/>
<polygon points="659.2,568.3 661.7,572.9 656.7,572.9" fill="#000"/>
<polygon points="660.9,568.1 663.4,572.7 658.4,572.7" fill="#000"/>
<polygon points="717.6,555.9 720.1,560.5 715.1,560.5" fill="#000"/>
<polygon points="663.8,566.5 666.3,571.1 661.3,571.1" fill="#000"/>
<polygon points="657.6,568.2 660.1,572.8 655.1,572.8" fill="#000"/>
<polygon points="720.3,567.2 722.8,571.8 717.8,571.8" fill="#000"/>
<polygon points="706.4,562.9 708.9,567.5 703.9,567.5" fill="#000"/>
<polygon points="706.8,551.4 709.3,556.0 704.3,556.0" fill="#000"/>
<polygon points="633.8,558.8 636.3,563.4 631.3,563.4" fill="#000"/>
<polygon points="690.1,572.8 692.6,577.4 687.6,577.4" fill="#000"/>
<polygon points="638.8,546.1 641.3,550.7 636.3,550.7" fill="#000"/>
<polygon points="749.5,541.6 752.0,546.2 747.0,546.2" fill="#000"/>
<polygon points="696.9,568.3 699.4,572.9 694.4,572.9" fill="#000"/>
<polygon points="640.6,545.5 643.1,550.1 638.1,550.1" fill="#000"/>
<polygon points="743.9,554.2 746.4,558.8 741.4,558.8" fill="#000"/>
<polygon points="735.8,562.9 738.3,567.5 733.3,567.5" fill="#000"/>
<polygon points="680.3,554.3 682.8,558.9 677.8,558.9" fill="#000"/>
<polygon points="642.6,551.0 645.1,555.6 640.1,555.6" fill="#000"/>
<polygon points="703.6,561.5 706.1,566.1 701.1,566.1" fill="#000"/>
<polygon points="655.4,562.6 657.9,567.2 652.9,567.2" fill="#000"/>
<polygon points="717.3,555.2 719.8,559.8 714.8,559.8" fill="#000"/>
<polygon points="718.1,557.9 720.6,562.5 715.6,562.5" fill="#000"/>
<polygon points="744.1,543.7 746.6,548.3 741.6,548.3" fill="#000"/>
<polygon points="682.8,561.5 685.3,566.1 680.3,566.1" fill="#000"/>
<polygon points="678.8,566.2 681.3,570.8 676.3,570.8" fill="#000"/>
<polygon points="656.3,560.8 658.8,565.4 653.8,565.4" fill="#000"/>
<polygon points="609.4,557.6 611.9,562.2 606.9,562.2" fill="#000"/>
<polygon points="717.8,558.7 720.3,563.3 715.3,563.3" fill="#000"/>
<polygon points="678.9,572.7 681.4,577.3 676.4,577.3" fill="#000"/>
<polygon points="630.9,564.5 633.4,569.1 628.4,569.1" fill="#000"/>
<polygon points="716.9,565.9 719.4,570.5 714.4,570.5" fill="#000"/>
<polygon points="684.4,571.5 686.9,576.1 681.9,576.1" fill="#000"/>
<polygon points="644.7,548.1 647.2,552.7 642.2,552.7" fill="#000"/>
<polygon points="662.4,564.5 664.9,569.1 659.9,569.1" fill="#000"/>
<polygon points="693.1,562.2 695.6,566.8 690.6,566.8" fill="#000"/>
<polygon points="675.5,541.4 678.0,546.0 673.0,546.0" fill="#000"/>
<polygon points="721.3,543.9 723.8,548.5 718.8,548.5" fill="#000"/>
<polygon points="696.9,557.3 699.4,561.9 694.4,561.9" fill="#000"/>
<polygon points="701.0,556.2 703.5,560.8 698.5,560.8" fill="#000"/>
<polygon points="695.9,564.2 698.4,568.8 693.4,568.8" fill="#000"/>
<polygon points="609.7,559.9 612.2,564.5 607.2,564.5" fill="#000"/>
<polygon points="611.5,555.7 614.0,560.3 609.0,560.3" fill="#000"/>
<polygon points="748.3,545.9 750.8,550.5 745.8,550.5" fill="#000"/>
<polygon points="665.9,572.7 668.4,577.3 663.4,577.3" fill="#000"/>
<polygon points="625.6,552.5 628.1,557.1 623.1,557.1" fill="#000"/>
<polygon points="672.7,567.8 675.2,572.4 670.2,572.4" fill="#000"/>
<polygon points="704.9,561.7 707.4,566.3 702.4,566.3" fill="#000"/>
<polygon points="677.1,553.2 679.6,557.8 674.6,557.8" fill="#000"/>
<polygon points="673.7,552.6 676.2,557.2 671.2,557.2" fill="#000"/>
<polygon points="712.1,553.2 714.6,557.8 709.6,557.8" fill="#000"/>
<polygon points="713.6,571.4 716.1,576.0 711.1,576.0" fill="#000"/>
<polygon points="700.8,549.6 703.3,554.2 698.3,554.2" fill="#000"/>
<polygon points="717.9,559.9 720.4,564.5 715.4,564.5" fill="#000"/>
<polygon points="658.5,564.5 661.0,569.1 656.0,569.1" fill="#000"/>
<polygon points="720.4,551.2 722.9,555.8 717.9,555.8" fill="#000"/>
<polygon points="702.8,549.9 705.3,554.5 700.3,554.5" fill="#000"/>
<polygon points="658.1,556.6 660.6,561.2 655.6,561.2" fill="#000"/>
<polygon points="721.4,558.4 723.9,563.0 718.9,563.0" fill="#000"/>
<polygon points="708.7,551.1 711.2,555.7 706.2,555.7" fill="#000"/>
<polygon points="701.2,558.3 703.7,562.9 698.7,562.9" fill="#000"/>
<polygon points="697.8,553.9 700.3,558.5 695.3,558.5" fill="#000"/>
<polygon points="642.2,551.9 644.7,556.5 639.7,556.5" fill="#000"/>
<polygon points="717.9,547.3 720.4,551.9 715.4,551.9" fill="#000"/>
<polygon points="653.7,561.1 656.2,565.7 651.2,565.7" fill="#000"/>
<polygon points="739.3,544.0 741.8,548.6 736.8,548.6" fill="#000"/>
<polygon points="674.4,545.8 676.9,550.4 671.9,550.4" fill="#000"/>
<polygon points="721.3,556.7 723.8,561.3 718.8,561.3" fill="#000"/>
<polygon points="729.0,558.4 731.5,563.0 726.5,563.0" fill="#000"/>
<polygon points="625.4,563.3 627.9,567.9 622.9,567.9" fill="#000"/>
<polygon points="662.4,550.6 664.9,555.2 659.9,555.2" fill="#000"/>
<polygon points="642.0,554.3 644.5,558.9 639.5,558.9" fill="#000"/>
<polygon points="711.6,568.8 714.1,573.4 709.1,573.4" fill="#000"/>
<polygon points="654.6,550.1 657.1,554.7 652.1,554.7" fill="#000"/>
<polygon points="661.7,559.8 664.2,564.4 659.2,564.4" fill="#000"/>
<polygon points="642.3,568.9 644.8,573.5 639.8,573.5" fill="#000"/>
<polygon points="697.3,551.8 699.8,556.4 694.8,556.4" fill="#000"/>
<polygon points="725.3,553.5 727.8,558.1 722.8,558.1" fill="#000"/>
<polygon points="676.2,564.9 678.7,569.5 673.7,569.5" fill="#000"/>
<polygon points="725.5,547.5 728.0,552.1 723.0,552.1" fill="#000"/>
<polygon points="652.3,571.0 654.8,575.6 649.8,575.6" fill="#000"/>
<polygon points="676.1,558.1 678.6,562.7 673.6,562.7" fill="#000"/>
<polygon points="654.1,550.2 656.6,554.8 651.6,554.8" fill="#000"/>
<polygon points="657.7,570.6 660.2,575.2 655.2,575.2" fill="#000"/>
<polygon points="658.8,563.8 661.3,568.4 656.3,568.4" fill="#000"/>
<polygon points="639.7,547.2 642.2,551.8 637.2,551.8" fill="#000"/>
<polygon points="647.8,543.0 650.3,547.6 645.3,547.6" fill="#000"/>
<polygon points="720.7,559.5 723.2,564.1 718.2,564.1" fill="#000"/>
<polygon points="605.2,564.5 607.7,569.1 602.7,569.1" fill="#000"/>
<polygon points="662.4,562.6 664.9,567.2 659.9,567.2" fill="#000"/>
<polygon points="663.7,558.4 666.2,563.0 661.2,563.0" fill="#000"/>
<polygon points="669.5,550.3 672.0,554.9 667.0,554.9" fill="#000"/>
<polygon points="625.9,563.2 628.4,567.8 623.4,567.8" fill="#000"/>
<polygon points="649.3,566.3 651.8,570.9 646.8,570.9" fill="#000"/>
<polygon points="712.7,564.8 715.2,569.4 710.2,569.4" fill="#000"/>
<polygon points="694.1,561.5 696.6,566.1 691.6,566.1" fill="#000"/>
<polygon points="681.3,557.0 683.8,561.6 678.8,561.6" fill="#000"/>
<polygon points="683.7,567.7 686.2,572.3 681.2,572.3" fill="#000"/>
<polygon points="625.4,544.6 627.9,549.2 622.9,549.2" fill="#000"/>
<polygon points="690.9,552.9 693.4,557.5 688.4,557.5" fill="#000"/>
<polygon points="696.1,567.3 698.6,571.9 693.6,571.9" fill="#000"/>
<polygon points="677.3,551.1 679.8,555.7 674.8,555.7" fill="#000"/>
<polygon points="752.7,552.9 755.2,557.5 750.2,557.5" fill="#000"/>
<polygon points="622.8,571.5 625.3,576.1 620.3,576.1" fill="#000"/>
<polygon points="682.2,553.9 684.7,558.5 679.7,558.5" fill="#000"/>
<polygon points="721.8,568.9 724.3,573.5 719.3,573.5" fill="#000"/>
<polygon points="617.3,555.6 619.8,560.2 614.8,560.2" fill="#000"/>
<polygon points="717.0,553.7 719.5,558.3 714.5,558.3" fill="#000"/>
<polygon points="688.5,561.4 691.0,566.0 686.0,566.0" fill="#000"/>
<polygon points="739.7,541.8 742.2,546.4 737.2,546.4" fill="#000"/>
<polygon points="684.6,555.0 687.1,559.6 682.1,559.6" fill="#000"/>
<polygon points="691.8,543.9 694.3,548.5 689.3,548.5" fill="#000"/>
<polygon points="646.0,569.1 648.5,573.7 643.5,573.7" fill="#000"/>
<polygon points="718.5,560.3 721.0,564.9 716.0,564.9" fill="#000"/>
<polygon points="706.8,565.6 709.3,570.2 704.3,570.2" fill="#000"/>
<polygon points="644.7,545.2 647.2,549.8 642.2,549.8" fill="#000"/>
<polygon points="642.5,547.7 645.0,552.3 640.0,552.3" fill="#000"/>
<polygon points="718.6,550.6 721.1,555.2 716.1,555.2" fill="#000"/>
<polygon points="692.1,565.0 694.6,569.6 689.6,569.6" fill="#000"/>
<polygon points="721.0,555.2 723.5,559.8 718.5,559.8" fill="#000"/>
<polygon points="698.6,550.8 701.1,555.4 696.1,555.4" fill="#000"/>
<polygon points="719.4,547.5 721.9,552.1 716.9,552.1" fill="#000"/>
<polygon points="645.4,553.7 647.9,558.3 642.9,558.3" fill="#000"/>
<polygon points="663.8,566.7 666.3,571.3 661.3,571.3" fill="#000"/>
<polygon points="691.5,549.0 694.0,553.6 689.0,553.6" fill="#000"/>
<polygon points="680.5,542.9 683.0,547.5 678.0,547.5" fill="#000"/>
<polygon points="644.0,544.8 646.5,549.4 641.5,549.4" fill="#000"/>
<polygon points="729.5,548.6 732.0,553.2 727.0,553.2" fill="#000"/>
<polygon points="636.5,571.9 639.0,576.5 634.0,576.5" fill="#000"/>
<polygon points="702.8,561.6 705.3,566.2 700.3,566.2" fill="#000"/>
<polygon points="655.6,568.5 658.1,573.1 653.1,573.1" fill="#000"/>
<polygon points="619.8,560.2 622.3,564.8 617.3,564.8" fill="#000"/>
<polygon points="690.8,565.4 693.3,570.0 688.3,570.0" fill="#000"/>
<polygon points="643.4,545.1 645.9,549.7 640.9,549.7" fill="#000"/>
<polygon points="607.7,548.7 610.2,553.3 605.2,553.3" fill="#000"/>
<polygon points="608.8,567.7 611.3,572.3 606.3,572.3" fill="#000"/>
<polygon points="715.1,543.9 717.6,548.5 712.6,548.5" fill="#000"/>
<polygon points="649.2,550.7 651.7,555.3 646.7,555.3" fill="#000"/>
<polygon points="653.8,546.7 656.3,551.3 651.3,551.3" fill="#000"/>
<polygon points="635.7,558.6 638.2,563.2 633.2,563.2" fill="#000"/>
<polygon points="678.9,543.3 681.4,547.9 676.4,547.9" fill="#000"/>
<polygon points="640.8,569.2 643.3,573.8 638.3,573.8" fill="#000"/>
<polygon points="672.2,560.4 674.7,565.0 669.7,565.0" fill="#000"/>
<polygon points="698.1,553.5 700.6,558.1 695.6,558.1" fill="#000"/>
<polygon points="714.5,542.4 717.0,547.0 712.0,547.0" fill="#000"/>
<polygon points="704.3,565.0 706.8,569.6 701.8,569.6" fill="#000"/>
<polygon points="724.5,552.0 727.0,556.6 722.0,556.6" fill="#000"/>
<polygon points="702.8,549.1 705.3,553.7 700.3,553.7" fill="#000"/>
<polygon points="729.3,554.6 731.8,559.2 726.8,559.2" fill="#000"/>
<polygon points="751.3,546.9 753.8,551.5 748.8,551.5" fill="#000"/>
<polygon points="764.5,549.4 767.0,554.0 762.0,554.0" fill="#000"/>
<polygon points="718.7,545.1 721.2,549.7 716.2,549.7" fill="#000"/>
<polygon points="686.3,547.0 688.8,551.6 683.8,551.6" fill="#000"/>
<polygon points="662.9,552.3 665.4,556.9 660.4,556.9" fill="#000"/>
<polygon points="655.7,560.5 658.2,565.1 653.2,565.1" fill="#000"/>
<polygon points="670.0,559.3 672.5,563.9 667.5,563.9" fill="#000"/>
<polygon points="709.6,546.2 712.1,550.8 707.1,550.8" fill="#000"/>
<polygon points="599.6,531.1 602.1,535.7 597.1,535.7" fill="#000"/>
<polygon points="662.6,572.3 665.1,576.9 660.1,576.9" fill="#000"/>
<polygon points="659.1,557.2 661.6,561.8 656.6,561.8" fill="#000"/>
<polygon points="710.2,568.4 712.7,573.0 707.7,573.0" fill="#000"/>
<polygon points="665.6,566.2 668.1,570.8 663.1,570.8" fill="#000"/>
<polygon points="696.2,548.4 698.7,553.0 693.7,553.0" fill="#000"/>
<polygon points="690.6,542.6 693.1,547.2 688.1,547.2" fill="#000"/>
<polygon points="630.2,549.4 632.7,554.0 627.7,554.0" fill="#000"/>
<polygon points="719.4,540.3 721.9,544.9 716.9,544.9" fill="#000"/>
<polygon points="607.5,560.1 610.0,564.7 605.0,564.7" fill="#000"/>
<polygon points="710.2,550.3 712.7,554.9 707.7,554.9" fill="#000"/>
<polygon points="638.1,544.9 640.6,549.5 635.6,549.5" fill="#000"/>
<polygon points="610.6,561.0 613.1,565.6 608.1,565.6" fill="#000"/>
<polygon points="636.8,567.7 639.3,572.3 634.3,572.3" fill="#000"/>
<polygon points="699.7,570.1 702.2,574.7 697.2,574.7" fill="#000"/>
<polygon points="687.7,566.3 690.2,570.9 685.2,570.9" fill="#000"/>
<polygon points="703.5,556.5 706.0,561.1 701.0,561.1" fill="#000"/>
<polygon points="640.9,557.8 643.4,562.4 638.4,562.4" fill="#000"/>
<polygon points="681.9,547.5 684.4,552.1 679.4,552.1" fill="#000"/>
<polygon points="637.0,567.6 639.5,572.2 634.5,572.2" fill="#000"/>
<polygon points="677.4,558.0 679.9,562.6 674.9,562.6" fill="#000"/>
<polygon points="672.4,568.6 674.9,573.2 669.9,573.2" fill="#000"/>
<polygon points="669.3,573.2 671.8,577.8 666.8,577.8" fill="#000"/>
<polygon points="629.6,546.2 632.1,550.8 627.1,550.8" fill="#000"/>
<polygon points="630.5,560.9 633.0,565.5 628.0,565.5" fill="#000"/>
<polygon points="676.4,549.1 678.9,553.7 673.9,553.7" fill="#000"/>
<polygon points="640.9,573.1 643.4,577.7 638.4,577.7" fill="#000"/>
<polygon points="650.8,550.3 653.3,554.9 648.3,554.9" fill="#000"/>
<polygon points="639.1,548.2 641.6,552.8 636.6,552.8" fill="#000"/>
<polygon points="689.6,546.1 692.1,550.7 687.1,550.7" fill="#000"/>
<polygon points="642.2,546.5 644.7,551.1 639.7,551.1" fill="#000"/>
<polygon points="638.4,560.7 640.9,565.3 635.9,565.3" fill="#000"/>
<polygon points="643.7,559.6 646.2,564.2 641.2,564.2" fill="#000"/>
<polygon points="664.7,571.3 667.2,575.9 662.2,575.9" fill="#000"/>
<polygon points="646.1,574.5 648.6,579.1 643.6,579.1" fill="#000"/>
<polygon points="666.3,567.8 668.8,572.4 663.8,572.4" fill="#000"/>
<polygon points="633.5,546.3 636.0,550.9 631.0,550.9" fill="#000"/>
<polygon points="717.9,567.2 720.4,571.8 715.4,571.8" fill="#000"/>
<polygon points="653.8,568.1 656.3,572.7 651.3,572.7" fill="#000"/>
<polygon points="667.6,554.8 670.1,559.4 665.1,559.4" fill="#000"/>
<polygon points="649.7,543.5 652.2,548.1 647.2,548.1" fill="#000"/>
<polygon points="643.5,557.3 646.0,561.9 641.0,561.9" fill="#000"/>
<polygon points="654.4,570.9 656.9,575.5 651.9,575.5" fill="#000"/>
<polygon points="650.5,562.2 653.0,566.8 648.0,566.8" fill="#000"/>
<polygon points="689.9,567.5 692.4,572.1 687.4,572.1" fill="#000"/>
<polygon points="730.6,555.1 733.1,559.7 728.1,559.7" fill="#000"/>
<polygon points="673.7,553.0 676.2,557.6 671.2,557.6" fill="#000"/>
<polygon points="709.4,564.4 711.9,569.0 706.9,569.0" fill="#000"/>
<polygon points="709.2,552.6 711.7,557.2 706.7,557.2" fill="#000"/>
<polygon points="648.3,566.1 650.8,570.7 645.8,570.7" fill="#000"/>
<polygon points="727.6,550.6 730.1,555.2 725.1,555.2" fill="#000"/>
<polygon points="616.9,563.9 619.4,568.5 614.4,568.5" fill="#000"/>
<polygon points="702.2,548.8 704.7,553.4 699.7,553.4" fill="#000"/>
<polygon points="729.0,552.1 731.5,556.7 726.5,556.7" fill="#000"/>
<polygon points="663.8,555.4 666.3,560.0 661.3,560.0" fill="#000"/>
<polygon points="638.0,570.8 640.5,575.4 635.5,575.4" fill="#000"/>
<polygon points="655.7,550.3 658.2,554.9 653.2,554.9" fill="#000"/>
<polygon points="641.2,559.0 643.7,563.6 638.7,563.6" fill="#000"/>
<polygon points="666.2,542.8 668.7,547.4 663.7,547.4" fill="#000"/>
<polygon points="729.2,564.0 731.7,568.6 726.7,568.6" fill="#000"/>
<polygon points="736.0,539.7 738.5,544.3 733.5,544.3" fill="#000"/>
<polygon points="647.4,561.1 649.9,565.7 644.9,565.7" fill="#000"/>
<polygon points="613.2,560.5 615.7,565.1 610.7,565.1" fill="#000"/>
<polygon points="713.6,575.5 716.1,580.1 711.1,580.1" fill="#000"/>
<polygon points="693.0,557.5 695.5,562.1 690.5,562.1" fill="#000"/>
<polygon points="634.4,553.4 636.9,558.0 631.9,558.0" fill="#000"/>
<polygon points="698.5,560.2 701.0,564.8 696.0,564.8" fill="#000"/>
<polygon points="647.6,546.6 650.1,551.2 645.1,551.2" fill="#000"/>
<polygon points="618.0,571.6 620.5,576.2 615.5,576.2" fill="#000"/>
<polygon points="686.3,553.3 688.8,557.9 683.8,557.9" fill="#000"/>
<polygon points="667.2,568.5 669.7,573.1 664.7,573.1" fill="#000"/>
<polygon points="647.6,569.7 650.1,574.3 645.1,574.3" fill="#000"/>
<polygon points="623.8,564.4 626.3,569.0 621.3,569.0" fill="#000"/>
<polygon points="682.7,547.5 685.2,552.1 680.2,552.1" fill="#000"/>
<polygon points="661.1,564.3 663.6,568.9 658.6,568.9" fill="#000"/>
<polygon points="683.7,561.1 686.2,565.7 681.2,565.7" fill="#000"/>
<polygon points="647.7,567.5 650.2,572.1 645.2,572.1" fill="#000"/>
<polygon points="720.1,547.2 722.6,551.8 717.6,551.8" fill="#000"/>
<polygon points="707.1,570.5 709.6,575.1 704.6,575.1" fill="#000"/>
<polygon points="622.0,571.7 624.5,576.3 619.5,576.3" fill="#000"/>
<polygon points="732.6,541.1 735.1,545.7 730.1,545.7" fill="#000"/>
<polygon points="659.8,562.0 662.3,566.6 657.3,566.6" fill="#000"/>
<polygon points="677.5,553.7 680.0,558.3 675.0,558.3" fill="#000"/>
<polygon points="677.3,563.1 679.8,567.7 674.8,567.7" fill="#000"/>
<polygon points="651.9,543.3 654.4,547.9 649.4,547.9" fill="#000"/>
<polygon points="669.5,546.1 672.0,550.7 667.0,550.7" fill="#000"/>
<polygon points="747.5,531.3 750.0,535.9 745.0,535.9" fill="#000"/>
<polygon points="670.2,553.5 672.7,558.1 667.7,558.1" fill="#000"/>
<polygon points="636.4,567.8 638.9,572.4 633.9,572.4" fill="#000"/>
<polygon points="604.2,567.7 606.7,572.3 601.7,572.3" fill="#000"/>
<polygon points="699.4,567.6 701.9,572.2 696.9,572.2" fill="#000"/>
<polygon points="703.0,565.2 705.5,569.8 700.5,569.8" fill="#000"/>
<polygon points="677.1,550.2 679.6,554.8 674.6,554.8" fill="#000"/>
<polygon points="706.5,570.4 709.0,575.0 704.0,575.0" fill="#000"/>
<polygon points="718.7,572.3 721.2,576.9 716.2,576.9" fill="#000"/>
<polygon points="706.0,551.3 708.5,555.9 703.5,555.9" fill="#000"/>
<polygon points="676.3,567.6 678.8,572.2 673.8,572.2" fill="#000"/>
<polygon points="749.1,546.2 751.6,550.8 746.6,550.8" fill="#000"/>
<polygon points="624.7,551.8 627.2,556.4 622.2,556.4" fill="#000"/>
<polygon points="717.3,559.5 719.8,564.1 714.8,564.1" fill="#000"/>
<polygon points="700.0,552.2 702.5,556.8 697.5,556.8" fill="#000"/>
<polygon points="645.2,543.2 647.7,547.8 642.7,547.8" fill="#000"/>
<polygon points="686.3,553.0 688.8,557.6 683.8,557.6" fill="#000"/>
<polygon points="639.1,552.0 641.6,556.6 636.6,556.6" fill="#000"/>
<polygon points="644.2,552.7 646.7,557.3 641.7,557.3" fill="#000"/>
<polygon points="649.4,544.2 651.9,548.8 646.9,548.8" fill="#000"/>
<polygon points="729.2,551.4 731.7,556.0 726.7,556.0" fill="#000"/>
<polygon points="642.0,547.0 644.5,551.6 639.5,551.6" fill="#000"/>
<polygon points="685.6,555.9 688.1,560.5 683.1,560.5" fill="#000"/>
<polygon points="705.0,570.1 707.5,574.7 702.5,574.7" fill="#000"/>
<polygon points="741.9,551.8 744.4,556.4 739.4,556.4" fill="#000"/>
<polygon points="683.7,556.6 686.2,561.2 681.2,561.2" fill="#000"/>
<polygon points="644.3,565.4 646.8,570.0 641.8,570.0" fill="#000"/>
<polygon points="689.1,572.2 691.6,576.8 686.6,576.8" fill="#000"/>
<polygon points="717.8,546.9 720.3,551.5 715.3,551.5" fill="#000"/>
<polygon points="651.8,562.7 654.3,567.3 649.3,567.3" fill="#000"/>
<polygon points="712.4,542.1 714.9,546.7 709.9,546.7" fill="#000"/>
<polygon points="700.1,569.3 702.6,573.9 697.6,573.9" fill="#000"/>
<polygon points="640.1,563.9 642.6,568.5 637.6,568.5" fill="#000"/>
<polygon points="646.3,561.6 648.8,566.2 643.8,566.2" fill="#000"/>
<polygon points="648.6,570.3 651.1,574.9 646.1,574.9" fill="#000"/>
<polygon points="722.9,553.3 725.4,557.9 720.4,557.9" fill="#000"/>
<polygon points="695.1,545.1 697.6,549.7 692.6,549.7" fill="#000"/>
<polygon points="675.7,562.7 678.2,567.3 673.2,567.3" fill="#000"/>
<polygon points="754.0,555.2 756.5,559.8 751.5,559.8" fill="#000"/>
<polygon points="658.7,548.0 661.2,552.6 656.2,552.6" fill="#000"/>
<polygon points="668.7,573.5 671.2,578.1 666.2,578.1" fill="#000"/>
<polygon points="641.6,547.5 644.1,552.1 639.1,552.1" fill="#000"/>
<polygon points="643.4,554.0 645.9,558.6 640.9,558.6" fill="#000"/>
<polygon points="704.5,569.2 707.0,573.8 702.0,573.8" fill="#000"/>
<polygon points="758.2,548.2 760.7,552.8 755.7,552.8" fill="#000"/>
<polygon points="701.2,566.5 703.7,571.1 698.7,571.1" fill="#000"/>
<polygon points="662.2,558.1 664.7,562.7 659.7,562.7" fill="#000"/>
<polygon points="652.0,570.8 654.5,575.4 649.5,575.4" fill="#000"/>
<polygon points="658.6,576.3 661.1,580.9 656.1,580.9" fill="#000"/>
<polygon points="709.6,565.2 712.1,569.8 707.1,569.8" fill="#000"/>
<polygon points="646.1,567.3 648.6,571.9 643.6,571.9" fill="#000"/>
<polygon points="610.4,562.7 612.9,567.3 607.9,567.3" fill="#000"/>
<polygon points="713.3,568.5 715.8,573.1 710.8,573.1" fill="#000"/>
<polygon points="696.9,554.8 699.4,559.4 694.4,559.4" fill="#000"/>
<polygon points="645.6,569.7 648.1,574.3 643.1,574.3" fill="#000"/>
<polygon points="656.8,553.4 659.3,558.0 654.3,558.0" fill="#000"/>
<polygon points="685.0,548.3 687.5,552.9 682.5,552.9" fill="#000"/>
<polygon points="658.6,550.1 661.1,554.7 656.1,554.7" fill="#000"/>
<polygon points="697.0,569.9 699.5,574.5 694.5,574.5" fill="#000"/>
<polygon points="737.2,554.7 739.7,559.3 734.7,559.3" fill="#000"/>
<polygon points="669.1,553.0 671.6,557.6 666.6,557.6" fill="#000"/>
<polygon points="638.7,543.8 641.2,548.4 636.2,548.4" fill="#000"/>
<polygon points="689.7,563.1 692.2,567.7 687.2,567.7" fill="#000"/>
<polygon points="746.1,563.3 748.6,567.9 743.6,567.9" fill="#000"/>
<polygon points="641.2,559.5 643.7,564.1 638.7,564.1" fill="#000"/>
<polygon points="669.8,540.4 672.3,545.0 667.3,545.0" fill="#000"/>
<polygon points="691.2,569.1 693.7,573.7 688.7,573.7" fill="#000"/>
<polygon points="721.2,552.7 723.7,557.3 718.7,557.3" fill="#000"/>
<polygon points="730.3,535.1 732.8,539.7 727.8,539.7" fill="#000"/>
<polygon points="668.8,571.5 671.3,576.1 666.3,576.1" fill="#000"/>
<polygon points="648.0,553.8 650.5,558.4 645.5,558.4" fill="#000"/>
<polygon points="650.2,558.2 652.7,562.8 647.7,562.8" fill="#000"/>
<polygon points="720.1,548.6 722.6,553.2 717.6,553.2" fill="#000"/>
<polygon points="658.6,542.6 661.1,547.2 656.1,547.2" fill="#000"/>
<polygon points="680.1,562.7 682.6,567.3 677.6,567.3" fill="#000"/>
<polygon points="683.9,544.0 686.4,548.6 681.4,548.6" fill="#000"/>
<polygon points="703.1,564.8 705.6,569.4 700.6,569.4" fill="#000"/>
<polygon points="711.1,565.0 713.6,569.6 708.6,569.6" fill="#000"/>
<polygon points="708.9,572.0 711.4,576.6 706.4,576.6" fill="#000"/>
<polygon points="652.9,558.5 655.4,563.1 650.4,563.1" fill="#000"/>
<polygon points="647.2,556.9 649.7,561.5 644.7,561.5" fill="#000"/>
<polygon points="720.4,555.3 722.9,559.9 717.9,559.9" fill="#000"/>
<polygon points="657.9,553.8 660.4,558.4 655.4,558.4" fill="#000"/>
<polygon points="666.2,568.2 668.7,572.8 663.7,572.8" fill="#000"/>
<polygon points="753.1,539.4 755.6,544.0 750.6,544.0" fill="#000"/>
<polygon points="647.4,557.5 649.9,562.1 644.9,562.1" fill="#000"/>
<polygon points="613.7,574.2 616.2,578.8 611.2,578.8" fill="#000"/>
<polygon points="640.1,569.6 642.6,574.2 637.6,574.2" fill="#000"/>
<polygon points="645.1,565.8 647.6,570.4 642.6,570.4" fill="#000"/>
<polygon points="639.8,545.2 642.3,549.8 637.3,549.8" fill="#000"/>
<polygon points="715.9,564.1 718.4,568.7 713.4,568.7" fill="#000"/>
<polygon points="667.0,568.4 669.5,573.0 664.5,573.0" fill="#000"/>
<polygon points="673.9,558.6 676.4,563.2 671.4,563.2" fill="#000"/>
<polygon points="728.9,558.8 731.4,563.4 726.4,563.4" fill="#000"/>
<polygon points="655.6,545.3 658.1,549.9 653.1,549.9" fill="#000"/>
<polygon points="743.1,563.3 745.6,567.9 740.6,567.9" fill="#000"/>
<polygon points="645.1,551.3 647.6,555.9 642.6,555.9" fill="#000"/>
<polygon points="718.4,551.0 720.9,555.6 715.9,555.6" fill="#000"/>
<polygon points="658.1,550.2 660.6,554.8 655.6,554.8" fill="#000"/>
<polygon points="670.2,572.0 672.7,576.6 667.7,576.6" fill="#000"/>
<polygon points="707.8,558.4 710.3,563.0 705.3,563.0" fill="#000"/>
<polygon points="711.7,543.6 714.2,548.2 709.2,548.2" fill="#000"/>
<polygon points="659.1,565.5 661.6,570.1 656.6,570.1" fill="#000"/>
<polygon points="652.8,569.4 655.3,574.0 650.3,574.0" fill="#000"/>
<polygon points="753.3,545.8 755.8,550.4 750.8,550.4" fill="#000"/>
<polygon points="628.4,572.5 630.9,577.1 625.9,577.1" fill="#000"/>
<polygon points="644.9,555.0 647.4,559.6 642.4,559.6" fill="#000"/>
<polygon points="627.8,547.8 630.3,552.4 625.3,552.4" fill="#000"/>
<polygon points="647.9,560.6 650.4,565.2 645.4,565.2" fill="#000"/>
<polygon points="631.2,567.6 633.7,572.2 628.7,572.2" fill="#000"/>
<polygon points="672.2,570.5 674.7,575.1 669.7,575.1" fill="#000"/>
<polygon points="635.2,558.8 637.7,563.4 632.7,563.4" fill="#000"/>
<polygon points="658.3,544.7 660.8,549.3 655.8,549.3" fill="#000"/>
<polygon points="663.1,562.4 665.6,567.0 660.6,567.0" fill="#000"/>
<polygon points="644.1,549.1 646.6,553.7 641.6,553.7" fill="#000"/>
<polygon points="748.1,556.0 750.6,560.6 745.6,560.6" fill="#000"/>
<polygon points="720.7,545.4 723.2,550.0 718.2,550.0" fill="#000"/>
<polygon points="640.3,543.0 642.8,547.6 637.8,547.6" fill="#000"/>
<polygon points="642.8,560.8 645.3,565.4 640.3,565.4" fill="#000"/>
<polygon points="651.2,547.8 653.7,552.4 648.7,552.4" fill="#000"/>
<polygon points="692.8,567.3 695.3,571.9 690.3,571.9" fill="#000"/>
<polygon points="651.8,557.2 654.3,561.8 649.3,561.8" fill="#000"/>
<polygon points="644.6,564.8 647.1,569.4 642.1,569.4" fill="#000"/>
<polygon points="747.3,554.4 749.8,559.0 744.8,559.0" fill="#000"/>
<polygon points="657.7,551.6 660.2,556.2 655.2,556.2" fill="#000"/>
<polygon points="641.7,559.5 644.2,564.1 639.2,564.1" fill="#000"/>
<polygon points="711.0,570.7 713.5,575.3 708.5,575.3" fill="#000"/>
<polygon points="712.4,569.0 714.9,573.6 709.9,573.6" fill="#000"/>
<polygon points="639.1,574.7 641.6,579.3 636.6,579.3" fill="#000"/>
<polygon points="652.0,562.5 654.5,567.1 649.5,567.1" fill="#000"/>
<polygon points="630.3,569.1 632.8,573.7 627.8,573.7" fill="#000"/>
<polygon points="710.0,555.0 712.5,559.6 707.5,559.6" fill="#000"/>
<polygon points="686.7,555.4 689.2,560.0 684.2,560.0" fill="#000"/>
<polygon points="631.9,546.7 634.4,551.3 629.4,551.3" fill="#000"/>
<polygon points="651.3,568.6 653.8,573.2 648.8,573.2" fill="#000"/>
<polygon points="711.1,559.3 713.6,563.9 708.6,563.9" fill="#000"/>
<polygon points="688.0,563.6 690.5,568.2 685.5,568.2" fill="#000"/>
<polygon points="643.9,546.3 646.4,550.9 641.4,550.9" fill="#000"/>
<polygon points="736.6,544.0 739.1,548.6 734.1,548.6" fill="#000"/>
<polygon points="635.4,557.8 637.9,562.4 632.9,562.4" fill="#000"/>
<polygon points="725.0,547.2 727.5,551.8 722.5,551.8" fill="#000"/>
<polygon points="606.5,568.8 609.0,573.4 604.0,573.4" fill="#000"/>
<polygon points="636.0,550.5 638.5,555.1 633.5,555.1" fill="#000"/>
<polygon points="714.8,563.4 717.3,568.0 712.3,568.0" fill="#000"/>
<polygon points="702.3,552.9 704.8,557.5 699.8,557.5" fill="#000"/>
<polygon points="739.9,559.1 742.4,563.7 737.4,563.7" fill="#000"/>
<polygon points="718.2,558.6 720.7,563.2 715.7,563.2" fill="#000"/>
<polygon points="649.3,547.8 651.8,552.4 646.8,552.4" fill="#000"/>
<polygon points="659.8,546.6 662.3,551.2 657.3,551.2" fill="#000"/>
<polygon points="662.4,553.1 664.9,557.7 659.9,557.7" fill="#000"/>
<polygon points="747.0,554.7 749.5,559.3 744.5,559.3" fill="#000"/>
<polygon points="737.0,562.0 739.5,566.6 734.5,566.6" fill="#000"/>
<polygon points="687.7,550.7 690.2,555.3 685.2,555.3" fill="#000"/>
<polygon points="692.6,570.5 695.1,575.1 690.1,575.1" fill="#000"/>
<polygon points="658.5,542.9 661.0,547.5 656.0,547.5" fill="#000"/>
<polygon points="684.9,560.0 687.4,564.6 682.4,564.6" fill="#000"/>
<polygon points="685.3,560.9 687.8,565.5 682.8,565.5" fill="#000"/>
<polygon points="650.1,555.8 652.6,560.4 647.6,560.4" fill="#000"/>
<polygon points="755.4,540.1 757.9,544.7 752.9,544.7" fill="#000"/>
<polygon points="682.5,558.1 685.0,562.7 680.0,562.7" fill="#000"/>
<polygon points="621.9,555.9 624.4,560.5 619.4,560.5" fill="#000"/>
<polygon points="655.9,544.7 658.4,549.3 653.4,549.3" fill="#000"/>
<polygon points="689.2,561.4 691.7,566.0 686.7,566.0" fill="#000"/>
<polygon points="690.2,548.8 692.7,553.4 687.7,553.4" fill="#000"/>
<polygon points="700.1,560.9 702.6,565.5 697.6,565.5" fill="#000"/>
<polygon points="737.5,550.4 740.0,555.0 735.0,555.0" fill="#000"/>
<polygon points="663.7,551.5 666.2,556.1 661.2,556.1" fill="#000"/>
<polygon points="655.2,573.1 657.7,577.7 652.7,577.7" fill="#000"/>
<polygon points="733.3,568.4 735.8,573.0 730.8,573.0" fill="#000"/>
<polygon points="671.5,548.5 674.0,553.1 669.0,553.1" fill="#000"/>
<polygon points="690.5,566.6 693.0,571.2 688.0,571.2" fill="#000"/>
<polygon points="700.8,559.1 703.3,563.7 698.3,563.7" fill="#000"/>
<polygon points="685.9,543.8 688.4,548.4 683.4,548.4" fill="#000"/>
<polygon points="697.7,557.8 700.2,562.4 695.2,562.4" fill="#000"/>
<polygon points="633.8,554.3 636.3,558.9 631.3,558.9" fill="#000"/>
<polygon points="645.1,548.8 647.6,553.4 642.6,553.4" fill="#000"/>
<polygon points="721.7,542.4 724.2,547.0 719.2,547.0" fill="#000"/>
<polygon points="640.5,574.5 643.0,579.1 638.0,579.1" fill="#000"/>
<polygon points="677.7,546.8 680.2,551.4 675.2,551.4" fill="#000"/>
<polygon points="676.2,570.9 678.7,575.5 673.7,575.5" fill="#000"/>
<polygon points="685.3,568.3 687.8,572.9 682.8,572.9" fill="#000"/>
<polygon points="666.5,570.4 669.0,575.0 664.0,575.0" fill="#000"/>
<polygon points="711.1,542.3 713.6,546.9 708.6,546.9" fill="#000"/>
<polygon points="680.0,552.5 682.5,557.1 677.5,557.1" fill="#000"/>
<polygon points="674.6,562.3 677.1,566.9 672.1,566.9" fill="#000"/>
<polygon points="690.8,558.1 693.3,562.7 688.3,562.7" fill="#000"/>
<polygon points="720.1,554.0 722.6,558.6 717.6,558.6" fill="#000"/>
<polygon points="660.9,561.8 663.4,566.4 658.4,566.4" fill="#000"/>
<polygon points="710.5,551.0 713.0,555.6 708.0,555.6" fill="#000"/>
<polygon points="731.5,549.5 734.0,554.1 729.0,554.1" fill="#000"/>
<polygon points="682.9,554.8 685.4,559.4 680.4,559.4" fill="#000"/>
<polygon points="647.6,571.1 650.1,575.7 645.1,575.7" fill="#000"/>
<polygon points="609.5,568.2 612.0,572.8 607.0,572.8" fill="#000"/>
<polygon points="680.6,568.7 683.1,573.3 678.1,573.3" fill="#000"/>
<polygon points="618.3,547.0 620.8,551.6 615.8,551.6" fill="#000"/>
<polygon points="719.4,561.2 721.9,565.8 716.9,565.8" fill="#000"/>
<polygon points="688.4,569.4 690.9,574.0 685.9,574.0" fill="#000"/>
<polygon points="679.3,545.1 681.8,549.7 676.8,549.7" fill="#000"/>
<polygon points="732.9,543.6 735.4,548.2 730.4,548.2" fill="#000"/>
<polygon points="706.0,549.7 708.5,554.3 703.5,554.3" fill="#000"/>
<polygon points="655.4,558.1 657.9,562.7 652.9,562.7" fill="#000"/>
<polygon points="658.6,561.0 661.1,565.6 656.1,565.6" fill="#000"/>
<polygon points="728.4,570.1 730.9,574.7 725.9,574.7" fill="#000"/>
<polygon points="681.8,546.6 684.3,551.2 679.3,551.2" fill="#000"/>
<polygon points="638.2,547.9 640.7,552.5 635.7,552.5" fill="#000"/>
<polygon points="656.1,551.5 658.6,556.1 653.6,556.1" fill="#000"/>
<polygon points="676.6,544.8 679.1,549.4 674.1,549.4" fill="#000"/>
<polygon points="676.5,553.3 679.0,557.9 674.0,557.9" fill="#000"/>
<polygon points="708.7,565.6 711.2,570.2 706.2,570.2" fill="#000"/>
<polygon points="615.9,563.1 618.4,567.7 613.4,567.7" fill="#000"/>
<polygon points="686.0,553.5 688.5,558.1 683.5,558.1" fill="#000"/>
<polygon points="717.5,554.1 720.0,558.7 715.0,558.7" fill="#000"/>
<polygon points="680.4,557.1 682.9,561.7 677.9,561.7" fill="#000"/>
<polygon points="740.3,544.5 742.8,549.1 737.8,549.1" fill="#000"/>
<polygon points="669.2,557.0 671.7,561.6 666.7,561.6" fill="#000"/>
<polygon points="640.5,557.0 643.0,561.6 638.0,561.6" fill="#000"/>
<polygon points="660.8,555.3 663.3,559.9 658.3,559.9" fill="#000"/>
<polygon points="689.0,554.9 691.5,559.5 686.5,559.5" fill="#000"/>
<polygon points="685.2,544.2 687.7,548.8 682.7,548.8" fill="#000"/>
<polygon points="660.7,554.5 663.2,559.1 658.2,559.1" fill="#000"/>
<polygon points="652.8,561.5 655.3,566.1 650.3,566.1" fill="#000"/>
<polygon points="621.5,552.7 624.0,557.3 619.0,557.3" fill="#000"/>
<polygon points="729.4,535.7 731.9,540.3 726.9,540.3" fill="#000"/>
<polygon points="694.4,544.9 696.9,549.5 691.9,549.5" fill="#000"/>
<polygon points="645.5,551.3 648.0,555.9 643.0,555.9" fill="#000"/>
<polygon points="681.7,563.6 684.2,568.2 679.2,568.2" fill="#000"/>
<polygon points="683.1,549.7 685.6,554.3 680.6,554.3" fill="#000"/>
<polygon points="688.9,557.2 691.4,561.8 686.4,561.8" fill="#000"/>
<polygon points="686.2,559.0 688.7,563.6 683.7,563.6" fill="#000"/>
<polygon points="712.2,573.3 714.7,577.9 709.7,577.9" fill="#000"/>
<polygon points="703.3,561.7 705.8,566.3 700.8,566.3" fill="#000"/>
<polygon points="638.7,550.9 641.2,555.5 636.2,555.5" fill="#000"/>
<polygon points="685.0,559.8 687.5,564.4 682.5,564.4" fill="#000"/>
<polygon points="697.1,569.9 699.6,574.5 694.6,574.5" fill="#000"/>
<polygon points="665.7,554.1 668.2,558.7 663.2,558.7" fill="#000"/>
<polygon points="703.0,568.0 705.5,572.6 700.5,572.6" fill="#000"/>
<polygon points="719.7,551.8 722.2,556.4 717.2,556.4" fill="#000"/>
<polygon points="708.0,555.5 710.5,560.1 705.5,560.1" fill="#000"/>
<polygon points="682.6,555.5 685.1,560.1 680.1,560.1" fill="#000"/>
<polygon points="718.0,545.5 720.5,550.1 715.5,550.1" fill="#000"/>
<polygon points="758.4,549.9 760.9,554.5 755.9,554.5" fill="#000"/>
<polygon points="641.6,571.4 644.1,576.0 639.1,576.0" fill="#000"/>
<polygon points="739.7,556.6 742.2,561.2 737.2,561.2" fill="#000"/>
<polygon points="654.6,559.2 657.1,563.8 652.1,563.8" fill="#000"/>
<polygon points="628.8,559.5 631.3,564.1 626.3,564.1" fill="#000"/>
<polygon points="651.6,549.7 654.1,554.3 649.1,554.3" fill="#000"/>
<polygon points="636.1,560.8 638.6,565.4 633.6,565.4" fill="#000"/>
<polygon points="741.8,549.5 744.3,554.1 739.3,554.1" fill="#000"/>
<polygon points="724.3,549.7 726.8,554.3 721.8,554.3" fill="#000"/>
<polygon points="689.1,569.4 691.6,574.0 686.6,574.0" fill="#000"/>
<polygon points="643.8,570.3 646.3,574.9 641.3,574.9" fill="#000"/>
<polygon points="691.5,568.7 694.0,573.3 689.0,573.3" fill="#000"/>
<polygon points="661.0,555.6 663.5,560.2 658.5,560.2" fill="#000"/>
<polygon points="652.2,551.5 654.7,556.1 649.7,556.1" fill="#000"/>
<polygon points="606.2,560.4 608.7,565.0 603.7,565.0" fill="#000"/>
<polygon points="737.2,552.9 739.7,557.5 734.7,557.5" fill="#000"/>
<polygon points="713.7,550.0 716.2,554.6 711.2,554.6" fill="#000"/>
<polygon points="660.0,571.2 662.5,575.8 657.5,575.8" fill="#000"/>
<polygon points="652.8,553.9 655.3,558.5 650.3,558.5" fill="#000"/>
<polygon points="667.4,555.2 669.9,559.8 664.9,559.8" fill="#000"/>
<polygon points="642.6,556.1 645.1,560.7 640.1,560.7" fill="#000"/>
<polygon points="675.1,574.5 677.6,579.1 672.6,579.1" fill="#000"/>
<polygon points="714.9,567.3 717.4,571.9 712.4,571.9" fill="#000"/>
<polygon points="688.6,543.8 691.1,548.4 686.1,548.4" fill="#000"/>
<polygon points="640.6,567.5 643.1,572.1 638.1,572.1" fill="#000"/>
<polygon points="630.5,560.0 633.0,564.6 628.0,564.6" fill="#000"/>
<polygon points="638.8,548.6 641.3,553.2 636.3,553.2" fill="#000"/>
<polygon points="673.9,570.1 676.4,574.7 671.4,574.7" fill="#000"/>
<polygon points="718.5,552.2 721.0,556.8 716.0,556.8" fill="#000"/>
<polygon points="683.9,563.8 686.4,568.4 681.4,568.4" fill="#000"/>
<polygon points="699.3,557.3 701.8,561.9 696.8,561.9" fill="#000"/>
<polygon points="695.3,546.7 697.8,551.3 692.8,551.3" fill="#000"/>
<polygon points="654.9,552.5 657.4,557.1 652.4,557.1" fill="#000"/>
<polygon points="606.1,560.6 608.6,565.2 603.6,565.2" fill="#000"/>
<polygon points="640.7,545.2 643.2,549.8 638.2,549.8" fill="#000"/>
<polygon points="633.0,553.5 635.5,558.1 630.5,558.1" fill="#000"/>
<polygon points="670.7,541.8 673.2,546.4 668.2,546.4" fill="#000"/>
<polygon points="671.9,569.5 674.4,574.1 669.4,574.1" fill="#000"/>
<polygon points="652.7,547.2 655.2,551.8 650.2,551.8" fill="#000"/>
<polygon points="754.6,562.6 757.1,567.2 752.1,567.2" fill="#000"/>
<polygon points="700.1,559.5 702.6,564.1 697.6,564.1" fill="#000"/>
<polygon points="676.3,563.5 678.8,568.1 673.8,568.1" fill="#000"/>
<polygon points="625.1,548.0 627.6,552.6 622.6,552.6" fill="#000"/>
<polygon points="704.1,555.7 706.6,560.3 701.6,560.3" fill="#000"/>
<polygon points="672.2,543.8 674.7,548.4 669.7,548.4" fill="#000"/>
<polygon points="750.0,546.6 752.5,551.2 747.5,551.2" fill="#000"/>
<polygon points="734.8,554.2 737.3,558.8 732.3,558.8" fill="#000"/>
<polygon points="631.0,562.4 633.5,567.0 628.5,567.0" fill="#000"/>
<polygon points="693.5,552.3 696.0,556.9 691.0,556.9" fill="#000"/>
<polygon points="675.1,557.7 677.6,562.3 672.6,562.3" fill="#000"/>
<polygon points="622.6,566.5 625.1,571.1 620.1,571.1" fill="#000"/>
<polygon points="737.3,554.8 739.8,559.4 734.8,559.4" fill="#000"/>
<polygon points="719.4,554.7 721.9,559.3 716.9,559.3" fill="#000"/>
<polygon points="701.9,541.8 704.4,546.4 699.4,546.4" fill="#000"/>
<polygon points="700.1,568.8 702.6,573.4 697.6,573.4" fill="#000"/>
<polygon points="696.7,542.7 699.2,547.3 694.2,547.3" fill="#000"/>
<polygon points="680.2,554.4 682.7,559.0 677.7,559.0" fill="#000"/>
<polygon points="654.7,550.1 657.2,554.7 652.2,554.7" fill="#000"/>
<polygon points="637.2,566.1 639.7,570.7 634.7,570.7" fill="#000"/>
<polygon points="654.8,572.7 657.3,577.3 652.3,577.3" fill="#000"/>
<polygon points="653.6,553.7 656.1,558.3 651.1,558.3" fill="#000"/>
<polygon points="653.7,543.0 656.2,547.6 651.2,547.6" fill="#000"/>
<polygon points="718.0,551.6 720.5,556.2 715.5,556.2" fill="#000"/>
<polygon points="716.0,557.6 718.5,562.2 713.5,562.2" fill="#000"/>
<polygon points="665.3,546.2 667.8,550.8 662.8,550.8" fill="#000"/>
<polygon points="701.3,563.1 703.8,567.7 698.8,567.7" fill="#000"/>
<polygon points="705.4,563.1 707.9,567.7 702.9,567.7" fill="#000"/>
<polygon points="646.2,554.5 648.7,559.1 643.7,559.1" fill="#000"/>
<polygon points="630.1,568.3 632.6,572.9 627.6,572.9" fill="#000"/>
<polygon points="658.9,547.9 661.4,552.5 656.4,552.5" fill="#000"/>
<polygon points="657.0,562.5 659.5,567.1 654.5,567.1" fill="#000"/>
<polygon points="618.8,554.6 621.3,559.2 616.3,559.2" fill="#000"/>
<polygon points="640.8,566.2 643.3,570.8 638.3,570.8" fill="#000"/>
<polygon points="646.3,573.3 648.8,577.9 643.8,577.9" fill="#000"/>
<polygon points="647.0,564.8 649.5,569.4 644.5,569.4" fill="#000"/>
<polygon points="708.2,559.3 710.7,563.9 705.7,563.9" fill="#000"/>
<polygon points="676.6,562.0 679.1,566.6 674.1,566.6" fill="#000"/>
<polygon points="688.2,570.5 690.7,575.1 685.7,575.1" fill="#000"/>
<polygon points="728.8,537.6 731.3,542.2 726.3,542.2" fill="#000"/>
<polygon points="690.8,575.8 693.3,580.4 688.3,580.4" fill="#000"/>
<polygon points="699.4,566.9 701.9,571.5 696.9,571.5" fill="#000"/>
<polygon points="657.7,554.3 660.2,558.9 655.2,558.9" fill="#000"/>
<polygon points="700.2,559.0 702.7,563.6 697.7,563.6" fill="#000"/>
<polygon points="701.8,568.3 704.3,572.9 699.3,572.9" fill="#000"/>
<polygon points="645.2,550.5 647.7,555.1 642.7,555.1" fill="#000"/>
<polygon points="656.8,544.4 659.3,549.0 654.3,549.0" fill="#000"/>
<polygon points="644.1,542.6 646.6,547.2 641.6,547.2" fill="#000"/>
<polygon points="645.8,558.7 648.3,563.3 643.3,563.3" fill="#000"/>
<polygon points="665.0,551.3 667.5,555.9 662.5,555.9" fill="#000"/>
<polygon points="688.0,565.0 690.5,569.6 685.5,569.6" fill="#000"/>
<polygon points="689.8,550.6 692.3,555.2 687.3,555.2" fill="#000"/>
<polygon points="700.4,565.3 702.9,569.9 697.9,569.9" fill="#000"/>
<polygon points="714.8,571.6 717.3,576.2 712.3,576.2" fill="#000"/>
<polygon points="691.4,544.9 693.9,549.5 688.9,549.5" fill="#000"/>
<polygon points="647.7,559.5 650.2,564.1 645.2,564.1" fill="#000"/>
<polygon points="683.6,556.1 686.1,560.7 681.1,560.7" fill="#000"/>
<polygon points="644.3,548.3 646.8,552.9 641.8,552.9" fill="#000"/>
<polygon points="647.5,553.8 650.0,558.4 645.0,558.4" fill="#000"/>
<polygon points="677.2,574.0 679.7,578.6 674.7,578.6" fill="#000"/>
<polygon points="642.0,572.0 644.5,576.6 639.5,576.6" fill="#000"/>
<polygon points="695.6,545.9 698.1,550.5 693.1,550.5" fill="#000"/>
<polygon points="717.3,569.2 719.8,573.8 714.8,573.8" fill="#000"/>
<polygon points="647.5,563.2 650.0,567.8 645.0,567.8" fill="#000"/>
<polygon points="686.4,547.9 688.9,552.5 683.9,552.5" fill="#000"/>
<polygon points="612.3,556.5 614.8,561.1 609.8,561.1" fill="#000"/>
<polygon points="641.6,552.3 644.1,556.9 639.1,556.9" fill="#000"/>
<polygon points="646.0,548.1 648.5,552.7 643.5,552.7" fill="#000"/>
<polygon points="668.7,546.0 671.2,550.6 666.2,550.6" fill="#000"/>
<polygon points="670.5,561.5 673.0,566.1 668.0,566.1" fill="#000"/>
<polygon points="668.9,570.3 671.4,574.9 666.4,574.9" fill="#000"/>
<polygon points="656.2,559.5 658.7,564.1 653.7,564.1" fill="#000"/>
<polygon points="616.6,559.8 619.1,564.4 614.1,564.4" fill="#000"/>
<polygon points="657.5,559.6 660.0,564.2 655.0,564.2" fill="#000"/>
<polygon points="643.9,560.0 646.4,564.6 641.4,564.6" fill="#000"/>
<polygon points="663.9,565.7 666.4,570.3 661.4,570.3" fill="#000"/>
<polygon points="673.7,547.9 676.2,552.5 671.2,552.5" fill="#000"/>
<polygon points="718.8,547.9 721.3,552.5 716.3,552.5" fill="#000"/>
<polygon points="651.7,552.4 654.2,557.0 649.2,557.0" fill="#000"/>
<polygon points="659.6,543.0 662.1,547.6 657.1,547.6" fill="#000"/>
<polygon points="710.1,544.5 712.6,549.1 707.6,549.1" fill="#000"/>
<polygon points="689.2,559.5 691.7,564.1 686.7,564.1" fill="#000"/>
<polygon points="659.6,544.2 662.1,548.8 657.1,548.8" fill="#000"/>
<polygon points="636.1,550.3 638.6,554.9 633.6,554.9" fill="#000"/>
<polygon points="647.1,558.6 649.6,563.2 644.6,563.2" fill="#000"/>
<polygon points="629.0,554.7 631.5,559.3 626.5,559.3" fill="#000"/>
<polygon points="641.4,557.8 643.9,562.4 638.9,562.4" fill="#000"/>
<polygon points="659.0,572.6 661.5,577.2 656.5,577.2" fill="#000"/>
<polygon points="669.0,564.1 671.5,568.7 666.5,568.7" fill="#000"/>
<polygon points="668.9,564.6 671.4,569.2 666.4,569.2" fill="#000"/>
<polygon points="649.3,565.9 651.8,570.5 646.8,570.5" fill="#000"/>
<polygon points="680.8,563.6 683.3,568.2 678.3,568.2" fill="#000"/>
<polygon points="696.8,562.4 699.3,567.0 694.3,567.0" fill="#000"/>
<polygon points="715.3,558.0 717.8,562.6 712.8,562.6" fill="#000"/>
<polygon points="717.2,548.2 719.7,552.8 714.7,552.8" fill="#000"/>
<polygon points="681.1,551.7 683.6,556.3 678.6,556.3" fill="#000"/>
<polygon points="620.9,559.9 623.4,564.5 618.4,564.5" fill="#000"/>
<polygon points="695.8,559.2 698.3,563.8 693.3,563.8" fill="#000"/>
<polygon points="722.2,556.7 724.7,561.3 719.7,561.3" fill="#000"/>
<polygon points="690.2,560.0 692.7,564.6 687.7,564.6" fill="#000"/>
<polygon points="721.1,563.8 723.6,568.4 718.6,568.4" fill="#000"/>
<polygon points="706.0,573.6 708.5,578.2 703.5,578.2" fill="#000"/>
<polygon points="621.0,553.3 623.5,557.9 618.5,557.9" fill="#000"/>
<polygon points="679.8,565.5 682.3,570.1 677.3,570.1" fill="#000"/>
<polygon points="688.1,570.4 690.6,575.0 685.6,575.0" fill="#000"/>
<polygon points="727.3,555.6 729.8,560.2 724.8,560.2" fill="#000"/>
<polygon points="664.1,552.1 666.6,556.7 661.6,556.7" fill="#000"/>
<polygon points="745.0,562.2 747.5,566.8 742.5,566.8" fill="#000"/>
<polygon points="637.6,568.9 640.1,573.5 635.1,573.5" fill="#000"/>
<polygon points="648.3,548.0 650.8,552.6 645.8,552.6" fill="#000"/>
<polygon points="686.8,553.1 689.3,557.7 684.3,557.7" fill="#000"/>
<polygon points="706.8,546.5 709.3,551.1 704.3,551.1" fill="#000"/>
<polygon points="720.4,548.3 722.9,552.9 717.9,552.9" fill="#000"/>
<polygon points="644.7,565.9 647.2,570.5 642.2,570.5" fill="#000"/>
<polygon points="668.1,558.6 670.6,563.2 665.6,563.2" fill="#000"/>
<polygon points="638.0,571.7 640.5,576.3 635.5,576.3" fill="#000"/>
<polygon points="619.7,558.7 622.2,563.3 617.2,563.3" fill="#000"/>
<polygon points="644.3,547.3 646.8,551.9 641.8,551.9" fill="#000"/>
<polygon points="699.4,546.9 701.9,551.5 696.9,551.5" fill="#000"/>
<polygon points="667.3,549.3 669.8,553.9 664.8,553.9" fill="#000"/>
<polygon points="638.2,569.1 640.7,573.7 635.7,573.7" fill="#000"/>
<polygon points="637.2,551.5 639.7,556.1 634.7,556.1" fill="#000"/>
<polygon points="689.1,565.6 691.6,570.2 686.6,570.2" fill="#000"/>
<polygon points="631.1,544.3 633.6,548.9 628.6,548.9" fill="#000"/>
<polygon points="658.4,564.0 660.9,568.6 655.9,568.6" fill="#000"/>
<polygon points="723.0,549.1 725.5,553.7 720.5,553.7" fill="#000"/>
<polygon points="644.7,566.8 647.2,571.4 642.2,571.4" fill="#000"/>
<polygon points="649.6,563.7 652.1,568.3 647.1,568.3" fill="#000"/>
<polygon points="624.5,559.4 627.0,564.0 622.0,564.0" fill="#000"/>
<polygon points="693.6,569.6 696.1,574.2 691.1,574.2" fill="#000"/>
<polygon points="700.5,555.3 703.0,559.9 698.0,559.9" fill="#000"/>
<polygon points="655.8,557.1 658.3,561.7 653.3,561.7" fill="#000"/>
<polygon points="678.7,558.6 681.2,563.2 676.2,563.2" fill="#000"/>
<polygon points="673.6,566.7 676.1,571.3 671.1,571.3" fill="#000"/>
<polygon points="663.8,554.6 666.3,559.2 661.3,559.2" fill="#000"/>
<polygon points="687.3,544.3 689.8,548.9 684.8,548.9" fill="#000"/>
<polygon points="708.4,564.2 710.9,568.8 705.9,568.8" fill="#000"/>
<polygon points="723.2,546.8 725.7,551.4 720.7,551.4" fill="#000"/>
<polygon points="681.7,569.9 684.2,574.5 679.2,574.5" fill="#000"/>
<polygon points="606.3,552.2 608.8,556.8 603.8,556.8" fill="#000"/>
<polygon points="640.5,557.1 643.0,561.7 638.0,561.7" fill="#000"/>
<polygon points="666.1,551.5 668.6,556.1 663.6,556.1" fill="#000"/>
<polygon points="649.2,557.0 651.7,561.6 646.7,561.6" fill="#000"/>
<polygon points="741.4,553.6 743.9,558.2 738.9,558.2" fill="#000"/>
<polygon points="720.2,571.5 722.7,576.1 717.7,576.1" fill="#000"/>
<polygon points="658.6,542.7 661.1,547.3 656.1,547.3" fill="#000"/>
<polygon points="764.1,548.9 766.6,553.5 761.6,553.5" fill="#000"/>
<polygon points="720.7,558.8 723.2,563.4 718.2,563.4" fill="#000"/>
<polygon points="620.8,573.4 623.3,578.0 618.3,578.0" fill="#000"/>
<polygon points="641.9,568.3 644.4,572.9 639.4,572.9" fill="#000"/>
<polygon points="703.3,556.2 705.8,560.8 700.8,560.8" fill="#000"/>
<polygon points="747.3,544.3 749.8,548.9 744.8,548.9" fill="#000"/>
<polygon points="654.4,554.1 656.9,558.7 651.9,558.7" fill="#000"/>
<polygon points="643.9,561.0 646.4,565.6 641.4,565.6" fill="#000"/>
<polygon points="679.3,545.0 681.8,549.6 676.8,549.6" fill="#000"/>
<polygon points="703.4,553.0 705.9,557.6 700.9,557.6" fill="#000"/>
<polygon points="650.4,556.0 652.9,560.6 647.9,560.6" fill="#000"/>
<polygon points="701.1,556.4 703.6,561.0 698.6,561.0" fill="#000"/>
<polygon points="646.5,570.7 649.0,575.3 644.0,575.3" fill="#000"/>
<polygon points="654.2,568.5 656.7,573.1 651.7,573.1" fill="#000"/>
<polygon points="756.7,541.3 759.2,545.9 754.2,545.9" fill="#000"/>
<polygon points="699.1,559.0 701.6,563.6 696.6,563.6" fill="#000"/>
<polygon points="665.7,568.6 668.2,573.2 663.2,573.2" fill="#000"/>
<polygon points="635.8,560.1 638.3,564.7 633.3,564.7" fill="#000"/>
<polygon points="723.0,532.8 725.5,537.4 720.5,537.4" fill="#000"/>
<polygon points="742.3,527.7 744.8,532.3 739.8,532.3" fill="#000"/>
<polygon points="762.1,537.5 764.6,542.1 759.6,542.1" fill="#000"/>
<polygon points="762.1,551.0 764.6,555.6 759.6,555.6" fill="#000"/>
<polygon points="731.9,534.7 734.4,539.3 729.4,539.3" fill="#000"/>
<polygon points="740.0,534.7 742.5,539.3 737.5,539.3" fill="#000"/>
<polygon points="734.2,571.9 736.7,576.5 731.7,576.5" fill="#000"/>
<polygon points="657.4,576.5 659.9,581.1 654.9,581.1" fill="#000"/>
<polygon points="666.7,577.7 669.2,582.3 664.2,582.3" fill="#000"/>
<polygon points="672.6,578.2 675.1,582.8 670.1,582.8" fill="#000"/>
<polygon points="637.7,576.5 640.2,581.1 635.2,581.1" fill="#000"/>
<polygon points="620.2,578.2 622.7,582.8 617.7,582.8" fill="#000"/>
<polygon points="724.9,573.0 727.4,577.6 722.4,577.6" fill="#000"/>
<polygon points="716.7,575.4 719.2,580.0 714.2,580.0" fill="#000"/>
<polygon points="704.0,575.4 706.5,580.0 701.5,580.0" fill="#000"/>
<polygon points="692.3,575.8 694.8,580.4 689.8,580.4" fill="#000"/>
<polygon points="748.1,555.6 750.6,560.2 745.6,560.2" fill="#000"/>
<polygon points="742.3,562.6 744.8,567.2 739.8,567.2" fill="#000"/>
<polygon points="752.8,542.8 755.3,547.4 750.3,547.4" fill="#000"/>
<polygon points="756.3,547.5 758.8,552.1 753.8,552.1" fill="#000"/>
<polygon points="558.1,570.2 560.6,574.8 555.6,574.8" fill="#000"/>
<polygon points="591.8,561.1 594.3,565.7 589.3,565.7" fill="#000"/>
<polygon points="587.8,557.0 590.3,561.6 585.3,561.6" fill="#000"/>
<polygon points="593.8,564.4 596.3,569.0 591.3,569.0" fill="#000"/>
<polygon points="550.6,558.4 553.1,563.0 548.1,563.0" fill="#000"/>
<polygon points="572.8,552.0 575.3,556.6 570.3,556.6" fill="#000"/>
<polygon points="602.2,552.7 604.7,557.3 599.7,557.3" fill="#000"/>
<polygon points="556.7,552.1 559.2,556.7 554.2,556.7" fill="#000"/>
<polygon points="569.5,558.2 572.0,562.8 567.0,562.8" fill="#000"/>
<polygon points="590.2,565.4 592.7,570.0 587.7,570.0" fill="#000"/>
<polygon points="604.5,568.0 607.0,572.6 602.0,572.6" fill="#000"/>
<polygon points="603.5,554.5 606.0,559.1 601.0,559.1" fill="#000"/>
<rect x="433.2" y="564.8" width="6.6" height="6.6" fill="#000"/>
<rect x="436.7" y="558.2" width="6.6" height="6.6" fill="#000"/>
<rect x="448.1" y="578.5" width="6.6" height="6.6" fill="#000"/>
<rect x="454.3" y="567.0" width="6.6" height="6.6" fill="#000"/>
<rect x="460.0" y="560.9" width="6.6" height="6.6" fill="#000"/>
<rect x="471.1" y="565.9" width="6.6" height="6.6" fill="#000"/>
<rect x="475.7" y="551.6" width="6.6" height="6.6" fill="#000"/>
<rect x="481.4" y="567.0" width="6.6" height="6.6" fill="#000"/>
<rect x="500.6" y="565.7" width="6.6" height="6.6" fill="#000"/>
<path d="M88.8,188.7 L90.5,188.8 L92.7,188.9 L95.3,189.0 L98.2,189.1 L101.3,189.2 L104.6,189.4 L108.1,189.5 L111.6,189.7 L115.1,189.8 L118.5,190.0 L121.9,190.1 L125.0,190.3 L128.0,190.5 L131.0,190.6 L134.1,190.7 L137.1,190.9 L140.1,191.0 L143.1,191.2 L146.1,191.4 L149.2,191.5 L152.2,191.7 L155.3,191.9 L158.4,192.2 L161.5,192.4 L164.7,192.7 L167.9,193.0 L171.3,193.3 L174.6,193.6 L178.0,193.9 L181.3,194.3 L184.7,194.7 L188.0,195.0 L191.1,195.4 L194.2,195.8 L197.2,196.1 L200.0,196.5 L202.7,196.9 L205.4,197.3 L208.1,197.7 L210.7,198.1 L213.2,198.5 L215.6,198.9 L217.9,199.3 L220.1,199.7 L222.1,200.1 L223.9,200.4 L225.5,200.7 L226.9,201.0 L228.0,201.2 L228.8,201.4 L229.4,201.5 L229.8,201.6 L230.0,201.6 L230.0,201.7 L230.0,201.7 L230.0,201.8 L230.0,201.8 L230.1,201.9 L230.2,202.0 L230.5,202.2 L230.9,202.4 L231.3,202.6 L231.8,202.9 L232.2,203.1 L232.7,203.4 L233.2,203.7 L233.7,204.0 L234.2,204.3 L234.7,204.6 L235.1,204.9 L235.6,205.2 L236.0,205.5 L236.4,205.8 L236.7,206.0 L237.0,206.2 L237.2,206.4 L237.5,206.6 L237.7,206.8 L238.0,207.1 L238.3,207.3 L238.6,207.7 L239.0,208.1 L239.5,208.6 L240.0,209.2 L240.6,209.9 L241.2,210.6 L241.9,211.4 L242.6,212.2 L243.3,213.1 L244.1,214.0 L244.9,215.0 L245.8,216.1 L246.8,217.2 L247.8,218.5 L248.9,219.7 L250.0,221.1 L251.2,222.6 L252.5,224.1 L253.9,225.8 L255.4,227.5 L256.9,229.3 L258.4,231.1 L260.0,233.0 L261.6,235.0 L263.3,236.9 L264.9,238.9 L266.6,240.8 L268.2,242.8 L269.8,244.8 L271.5,246.8 L273.2,248.8 L274.9,250.9 L276.6,253.0 L278.3,255.1 L280.1,257.2 L281.8,259.3 L283.6,261.5 L285.4,263.6 L287.2,265.8 L289.0,267.9 L290.8,270.0 L292.6,272.2 L294.5,274.4 L296.3,276.5 L298.1,278.7 L300.0,280.9 L301.9,283.1 L303.8,285.3 L305.7,287.5 L307.7,289.6 L309.7,291.8 L311.7,294.0 L313.8,296.2 L315.9,298.4 L318.0,300.6 L320.2,302.8 L322.4,305.0 L324.7,307.2 L326.9,309.4 L329.2,311.5 L331.4,313.7 L333.7,315.8 L335.9,317.9 L338.1,320.0 L340.3,322.1 L342.5,324.1 L344.7,326.2 L346.9,328.2 L349.2,330.2 L351.4,332.2 L353.6,334.2 L355.8,336.1 L358.0,337.9 L360.2,339.8 L362.4,341.5 L364.6,343.2 L366.9,344.9 L369.3,346.5 L371.7,348.2 L374.3,349.8 L376.8,351.4 L379.3,352.9 L381.6,354.3 L383.9,355.7 L385.9,356.9 L387.8,358.0 L389.3,358.9 L390.6,359.7" fill="none" stroke="#ff0000" stroke-width="3" stroke-linejoin="round" />
<path d="M88.8,199.0 L89.8,199.2 L91.1,199.4 L92.5,199.7 L94.2,200.0 L96.0,200.3 L97.9,200.7 L99.9,201.1 L101.9,201.5 L104.0,201.8 L106.1,202.2 L108.1,202.6 L110.0,203.0 L111.9,203.4 L113.8,203.8 L115.7,204.1 L117.6,204.5 L119.6,204.9 L121.5,205.3 L123.5,205.8 L125.5,206.2 L127.6,206.6 L129.6,207.0 L131.8,207.4 L133.9,207.8 L136.1,208.2 L138.3,208.6 L140.6,209.0 L142.9,209.4 L145.3,209.8 L147.7,210.2 L150.1,210.6 L152.5,210.9 L154.9,211.4 L157.3,211.8 L159.6,212.2 L162.0,212.6 L164.4,213.0 L166.8,213.5 L169.3,213.9 L171.8,214.4 L174.3,214.8 L176.7,215.3 L179.2,215.7 L181.6,216.2 L183.9,216.7 L186.2,217.2 L188.3,217.6 L190.4,218.1 L192.4,218.6 L194.2,219.1 L196.0,219.5 L197.7,220.0 L199.3,220.5 L200.9,221.0 L202.5,221.5 L204.0,222.0 L205.5,222.5 L207.0,223.0 L208.5,223.5 L210.0,224.0 L211.5,224.5 L213.0,225.0 L214.5,225.5 L216.0,226.0 L217.4,226.6 L218.9,227.1 L220.3,227.6 L221.6,228.1 L223.0,228.6 L224.3,229.0 L225.6,229.5 L226.9,229.9 L228.1,230.3 L229.3,230.6 L230.4,230.9 L231.4,231.2 L232.5,231.5 L233.5,231.8 L234.5,232.0 L235.5,232.3 L236.6,232.6 L237.7,232.9 L238.8,233.3 L240.0,233.7 L241.3,234.1 L242.6,234.6 L244.0,235.1 L245.4,235.7 L246.8,236.2 L248.2,236.8 L249.7,237.4 L251.1,237.9 L252.5,238.5 L253.8,239.0 L255.1,239.5 L256.3,240.0 L257.4,240.4 L258.5,240.9 L259.6,241.3 L260.6,241.7 L261.6,242.1 L262.5,242.4 L263.5,242.8 L264.4,243.2 L265.3,243.5 L266.3,243.9 L267.2,244.3 L268.2,244.7 L269.2,245.1 L270.1,245.5 L270.9,245.8 L271.8,246.2 L272.6,246.6 L273.5,246.9 L274.4,247.3 L275.4,247.7 L276.4,248.2 L277.5,248.6 L278.7,249.1 L280.0,249.7 L281.5,250.3 L283.1,251.0 L284.9,251.8 L286.8,252.6 L288.7,253.4 L290.7,254.2 L292.6,255.0 L294.6,255.9 L296.4,256.7 L298.2,257.4 L299.8,258.2 L301.2,258.8 L302.4,259.4 L303.4,259.8 L304.2,260.2 L304.8,260.6 L305.4,260.9 L306.0,261.2 L306.6,261.6 L307.3,262.0 L308.1,262.4 L309.0,263.0 L310.2,263.6 L311.7,264.4 L313.5,265.4 L315.7,266.5 L318.1,267.8 L320.7,269.2 L323.4,270.7 L326.2,272.2 L328.9,273.7 L331.6,275.1 L334.1,276.5 L336.4,277.7 L338.4,278.8 L340.0,279.6 L341.3,280.3 L342.3,280.8 L343.0,281.2 L343.6,281.4 L344.1,281.6 L344.4,281.8 L344.6,281.8 L344.7,281.9 L344.8,281.9 L344.9,281.9 L345.0,281.9 L345.2,282.0" fill="none" stroke="#00ff00" stroke-width="3" stroke-linejoin="round" stroke-dasharray="2.6 3.54"/>
<path d="M88.8,194.1 L90.5,194.3 L92.7,194.6 L95.3,194.8 L98.2,195.2 L101.3,195.5 L104.6,195.9 L108.1,196.3 L111.6,196.7 L115.1,197.1 L118.5,197.5 L121.9,197.9 L125.0,198.3 L128.0,198.7 L131.1,199.0 L134.2,199.4 L137.3,199.8 L140.3,200.1 L143.4,200.5 L146.5,200.9 L149.5,201.3 L152.6,201.7 L155.6,202.1 L158.6,202.5 L161.5,203.0 L164.4,203.5 L167.3,204.0 L170.1,204.5 L172.9,205.0 L175.8,205.5 L178.5,206.1 L181.3,206.6 L184.1,207.2 L186.8,207.8 L189.5,208.3 L192.3,208.9 L195.0,209.5 L197.8,210.1 L200.7,210.7 L203.6,211.4 L206.6,212.0 L209.5,212.7 L212.4,213.4 L215.3,214.0 L218.0,214.7 L220.5,215.3 L222.9,215.9 L225.0,216.4 L226.9,216.9 L228.5,217.3 L229.9,217.8 L231.1,218.1 L232.0,218.5 L232.9,218.8 L233.6,219.1 L234.2,219.4 L234.7,219.6 L235.2,219.9 L235.7,220.1 L236.2,220.4 L236.7,220.6 L237.2,220.8 L237.5,220.9 L237.8,221.1 L238.0,221.1 L238.2,221.2 L238.3,221.3 L238.5,221.3 L238.6,221.5 L238.9,221.6 L239.1,221.9 L239.5,222.2 L240.0,222.6 L240.6,223.1 L241.2,223.7 L241.9,224.3 L242.7,224.9 L243.5,225.7 L244.3,226.4 L245.2,227.2 L246.1,228.1 L247.0,228.9 L248.0,229.8 L249.0,230.8 L250.0,231.7 L251.0,232.6 L252.0,233.6 L253.1,234.6 L254.1,235.6 L255.2,236.6 L256.3,237.7 L257.5,238.8 L258.8,240.0 L260.1,241.2 L261.5,242.5 L262.9,243.9 L264.5,245.3 L266.2,246.9 L268.1,248.6 L270.1,250.4 L272.2,252.3 L274.4,254.3 L276.7,256.3 L278.9,258.3 L281.1,260.3 L283.2,262.2 L285.3,264.0 L287.2,265.7 L289.0,267.3 L290.6,268.7 L292.1,270.0 L293.4,271.2 L294.7,272.3 L295.9,273.3 L297.0,274.4 L298.2,275.4 L299.4,276.3 L300.6,277.4 L301.9,278.4 L303.3,279.6 L304.9,280.8 L306.6,282.1 L308.5,283.6 L310.5,285.0 L312.6,286.6 L314.7,288.2 L316.9,289.7 L319.0,291.3 L321.1,292.8 L323.1,294.2 L324.9,295.6 L326.6,296.8 L328.1,297.9 L329.3,298.8 L330.3,299.6 L331.1,300.2 L331.8,300.7 L332.3,301.2 L332.8,301.6 L333.4,302.0 L334.0,302.5 L334.7,303.0 L335.5,303.7 L336.6,304.5 L338.0,305.5 L339.7,306.7 L341.7,308.2 L343.9,309.8 L346.2,311.5 L348.7,313.3 L351.3,315.1 L353.9,317.0 L356.4,318.7 L358.7,320.4 L360.9,322.0 L362.9,323.4 L364.6,324.5 L366.0,325.4 L367.3,326.3 L368.5,327.0 L369.5,327.5 L370.4,328.0 L371.2,328.4 L371.9,328.8 L372.6,329.1 L373.1,329.3 L373.6,329.6 L374.1,329.8 L374.5,330.0" fill="none" stroke="#0000ff" stroke-width="3" stroke-linejoin="round" stroke-dasharray="11 7.9"/>
<path d="M88.8,191.2 L90.5,191.3 L92.7,191.5 L95.3,191.7 L98.2,191.9 L101.3,192.1 L104.6,192.3 L108.1,192.5 L111.6,192.8 L115.1,193.0 L118.0,193.3M124.7,193.8 L125.0,193.8 L128.0,194.0 L131.1,194.3 L134.2,194.5 L137.3,194.8 L140.3,195.0 L143.4,195.3 L146.5,195.5 L149.5,195.8 L152.2,196.0M158.8,196.7 L161.5,197.0 L164.4,197.3 L167.3,197.7 L170.1,198.1 L172.9,198.4 L175.8,198.8 L178.5,199.2 L181.3,199.6 L184.1,200.1 L186.8,200.5 L187.4,200.6M195.2,201.8 L197.8,202.3 L200.7,202.8 L203.7,203.3 L206.7,203.8 L209.7,204.4 L212.7,204.9 L215.5,205.5 L218.2,206.0 L220.8,206.5 L220.9,206.5M226.8,207.8 L226.9,207.8 L228.3,208.1 L229.4,208.4 L230.2,208.7 L230.8,208.9 L231.2,209.1 L231.5,209.3 L231.7,209.5 L231.9,209.7 L232.0,209.9 L232.2,210.1 L232.5,210.4 L233.0,210.8 L233.5,211.2 L234.1,211.6 L234.6,212.0 L235.2,212.5 L235.7,213.0 L236.3,213.5 L236.8,214.0 L237.4,214.6 L238.0,215.2 L238.6,215.8 L239.3,216.4 L240.0,217.1 L240.7,217.8 L241.4,218.5 L242.1,219.2 L242.8,220.0 L243.5,220.7 L244.3,221.5 L245.1,222.4 L245.9,223.3 L246.9,224.2 L247.8,225.3 L248.9,226.4 L250.0,227.6 L251.2,228.9 L252.5,230.3 L253.9,231.8 L255.4,233.3 L256.9,234.9 L258.4,236.6 L260.0,238.3 L261.6,240.0 L263.3,241.8 L264.9,243.6 L266.6,245.3 L268.2,247.1 L269.8,248.9 L271.5,250.7 L273.2,252.6 L274.9,254.5 L276.6,256.4 L278.3,258.3 L280.1,260.2 L281.8,262.2 L283.6,264.1 L285.4,266.0 L287.2,267.9 L289.0,269.8 L290.8,271.6 L292.6,273.4 L294.5,275.2 L296.3,277.0 L298.1,278.8 L300.0,280.5 L301.9,282.3 L303.8,284.1 L305.7,285.9 L307.7,287.8 L309.7,289.7 L311.7,291.6 L313.8,293.6 L315.9,295.7 L318.0,297.8 L320.2,300.0 L322.4,302.2 L324.6,304.4 L326.8,306.7 L329.1,308.8 L331.3,310.9 L333.6,313.0 L335.8,314.9 L338.0,316.8 L340.2,318.6 L342.5,320.3 L344.8,321.9 L347.1,323.5 L349.5,325.0 L351.8,326.5 L354.1,327.9 L356.3,329.3 L358.5,330.7 L360.6,332.0 L362.7,333.3 L364.6,334.6 L366.5,335.9 L368.4,337.1 L368.5,337.2M372.5,339.9 L373.9,340.9 L375.6,342.0 L377.2,343.1 L378.7,344.1 L380.1,345.1 L381.4,345.9 L382.4,346.6 L383.3,347.2" fill="none" stroke="#ff00ff" stroke-width="3" stroke-linejoin="round"/>
<path d="M431.6,286.2 L433.0,286.2 L434.8,286.1 L436.9,286.1 L439.3,286.1 L441.9,286.0 L444.7,286.0 L447.5,285.9 L450.3,285.9 L453.0,285.8 L455.5,285.8 L457.9,285.7 L460.0,285.7 L461.9,285.7 L463.7,285.6 L465.4,285.6 L467.0,285.6 L468.6,285.5 L470.1,285.5 L471.5,285.5 L472.9,285.5 L474.2,285.4 L475.5,285.4 L476.8,285.3 L478.0,285.3 L479.2,285.3 L480.3,285.2 L481.3,285.2 L482.2,285.1 L483.2,285.1 L484.0,285.0 L484.9,285.0 L485.7,284.9 L486.5,284.8 L487.3,284.7 L488.0,284.6 L488.8,284.5 L489.6,284.4 L490.3,284.2 L491.0,284.1 L491.7,283.9 L492.4,283.7 L493.0,283.5 L493.6,283.3 L494.3,283.1 L494.9,282.9 L495.4,282.7 L496.0,282.5 L496.6,282.3 L497.2,282.1 L497.7,281.9 L498.2,281.7 L498.7,281.5 L499.2,281.3 L499.7,281.1 L500.1,280.8 L500.6,280.6 L501.1,280.4 L501.5,280.2 L502.0,280.0 L502.5,279.8 L503.0,279.6 L503.4,279.4 L503.7,279.3 L504.1,279.2 L504.4,279.0 L504.8,278.9 L505.2,278.7 L505.6,278.5 L506.1,278.3 L506.8,278.1 L507.5,277.8 L508.3,277.4 L509.2,277.0 L510.2,276.5 L511.3,276.1 L512.4,275.5 L513.6,275.0 L514.9,274.4 L516.3,273.8 L517.7,273.2 L519.2,272.5 L520.7,271.8 L522.4,271.1 L524.1,270.3 L526.0,269.5 L528.0,268.6 L530.1,267.7 L532.4,266.7 L534.8,265.7 L537.1,264.6 L539.5,263.6 L541.9,262.6 L544.2,261.6 L546.5,260.6 L548.6,259.7 L550.6,258.8 L552.5,258.0 L554.4,257.2 L556.2,256.4 L558.0,255.7 L559.8,254.9 L561.5,254.2 L563.1,253.6 L564.7,252.9 L566.1,252.3 L567.5,251.6 L568.7,251.1 L569.8,250.5 L570.8,250.0 L571.6,249.5 L572.2,249.1 L572.8,248.8 L573.2,248.4 L573.6,248.1 L573.9,247.7 L574.2,247.4 L574.5,247.0 L574.9,246.6 L575.3,246.1 L575.7,245.6 L576.2,245.0 L576.6,244.4 L577.1,243.8 L577.6,243.1 L578.0,242.5 L578.5,241.8 L578.9,241.0 L579.4,240.2 L579.9,239.4 L580.4,238.6 L580.9,237.7 L581.5,236.8 L582.1,235.8 L582.7,234.8 L583.3,233.7 L583.9,232.6 L584.5,231.4 L585.2,230.2 L585.9,229.0 L586.5,227.8 L587.2,226.6 L587.9,225.4 L588.7,224.2 L589.4,223.1 L590.2,222.0 L590.9,220.9 L591.7,219.8 L592.5,218.7 L593.3,217.6 L594.2,216.6 L595.0,215.5 L595.9,214.5 L596.7,213.4 L597.5,212.4 L598.4,211.4 L599.2,210.4 L600.0,209.4 L600.8,208.5 L601.7,207.5 L602.5,206.5 L603.3,205.6 L604.1,204.7 L604.9,203.8 L605.7,202.9 L606.6,202.0 L607.4,201.2 L608.2,200.4 L609.0,199.6 L609.8,198.8 L610.6,198.1 L611.5,197.4 L612.3,196.7 L613.1,196.0 L613.9,195.4 L614.7,194.8 L615.5,194.1 L616.3,193.5 L617.2,193.0 L618.0,192.4 L618.8,191.8 L619.6,191.2 L620.4,190.7 L621.2,190.2 L622.0,189.7 L622.8,189.2 L623.6,188.7 L624.4,188.3 L625.2,187.8 L626.0,187.3 L626.9,186.9 L627.7,186.4 L628.6,185.9 L629.5,185.4 L630.4,184.9 L631.4,184.4 L632.4,183.9 L633.4,183.4 L634.4,182.9 L635.4,182.4 L636.4,181.9 L637.3,181.4 L638.3,180.9 L639.2,180.4 L640.0,180.0 L640.7,179.6 L641.4,179.2 L641.9,178.9 L642.4,178.5 L642.8,178.2 L643.3,177.9 L643.8,177.6 L644.4,177.2 L645.1,176.8 L645.9,176.4 L646.9,175.9 L648.1,175.4 L649.5,174.8 L651.1,174.1 L652.9,173.3 L654.7,172.5 L656.7,171.7 L658.8,170.9 L660.9,170.0 L663.1,169.2 L665.2,168.4 L667.3,167.6 L669.4,166.9 L671.4,166.3 L673.3,165.7 L675.3,165.2 L677.2,164.8 L679.2,164.3 L681.1,163.9 L683.1,163.6 L685.0,163.2 L686.9,162.9 L688.9,162.6 L690.8,162.2 L692.8,161.9 L694.7,161.6 L696.7,161.3 L698.7,161.0 L700.7,160.7 L702.7,160.4 L704.7,160.2 L706.7,159.9 L708.7,159.7 L710.7,159.4 L712.6,159.2 L714.4,159.0 L716.2,158.8 L717.9,158.6 L719.6,158.4 L721.2,158.2 L722.8,158.1 L724.4,157.9 L726.0,157.8 L727.5,157.6 L728.9,157.5 L730.2,157.4 L731.4,157.3 L732.5,157.2 L733.4,157.1 L734.2,157.0" fill="none" stroke="#ff0000" stroke-width="3" stroke-linejoin="round" />
<path d="M431.6,294.6 L432.9,294.7 L434.5,294.9 L436.4,295.1 L438.5,295.3 L440.8,295.5 L443.2,295.7 L445.7,296.0 L448.3,296.2 L450.9,296.5 L453.4,296.7 L455.8,297.0 L458.0,297.2 L460.2,297.4 L462.3,297.7 L464.5,298.0 L466.7,298.2 L468.9,298.5 L471.0,298.8 L473.2,299.0 L475.3,299.3 L477.4,299.5 L479.4,299.7 L481.4,299.9 L483.4,300.1 L485.3,300.2 L487.2,300.4 L489.0,300.5 L490.8,300.6 L492.6,300.7 L494.3,300.8 L496.1,300.8 L497.7,300.8 L499.4,300.8 L501.1,300.8 L502.7,300.8 L504.3,300.7 L505.8,300.6 L507.3,300.5 L508.7,300.4 L510.0,300.2 L511.3,300.0 L512.6,299.8 L513.9,299.6 L515.3,299.3 L516.8,299.0 L518.4,298.7 L520.1,298.3 L521.9,297.9 L523.9,297.4 L526.0,296.9 L528.3,296.3 L530.6,295.7 L533.1,295.0 L535.6,294.3 L538.1,293.6 L540.6,292.9 L543.2,292.2 L545.7,291.5 L548.2,290.8 L550.6,290.2 L553.0,289.6 L555.6,289.0 L558.2,288.4 L560.8,287.7 L563.4,287.1 L566.0,286.5 L568.6,286.0 L571.0,285.4 L573.3,284.9 L575.5,284.4 L577.4,283.9 L579.2,283.5 L580.7,283.1 L581.9,282.8 L582.9,282.6 L583.7,282.3 L584.3,282.1 L584.9,282.0 L585.5,281.8 L586.1,281.6 L586.8,281.5 L587.7,281.3 L588.7,281.1 L590.0,280.9 L591.5,280.7 L593.2,280.4 L594.9,280.2 L596.8,279.9 L598.8,279.6 L600.9,279.4 L603.0,279.1 L605.1,278.8 L607.2,278.6 L609.3,278.3 L611.3,278.1 L613.3,277.9 L615.2,277.7 L617.2,277.5 L619.1,277.3 L621.0,277.1 L623.0,277.0 L624.9,276.8 L626.8,276.6 L628.8,276.5 L630.7,276.3 L632.6,276.2 L634.6,276.1 L636.5,276.0 L638.4,275.9 L640.3,275.8 L642.2,275.8 L644.0,275.7 L645.9,275.7 L647.8,275.6 L649.7,275.6 L651.6,275.6 L653.6,275.6 L655.6,275.6 L657.7,275.6 L659.8,275.6 L662.1,275.6 L664.6,275.7 L667.3,275.7 L670.1,275.8 L672.9,275.8 L675.8,275.9 L678.5,276.0 L681.1,276.1 L683.5,276.1 L685.6,276.2 L687.4,276.3 L688.8,276.3" fill="none" stroke="#00ff00" stroke-width="3" stroke-linejoin="round" stroke-dasharray="2.6 3.54"/>
<path d="M431.6,290.2 L433.4,290.3 L435.7,290.3 L438.4,290.4 L441.5,290.5 L444.7,290.6 L448.2,290.7 L451.8,290.8 L455.5,290.9 L459.1,291.0 L462.6,291.1 L465.9,291.2 L469.0,291.3 L471.9,291.4 L474.9,291.5 L477.8,291.6 L480.8,291.7 L483.7,291.7 L486.5,291.8 L489.3,291.9 L492.0,291.9 L494.7,291.9 L497.3,291.9 L499.7,291.8 L502.1,291.7 L504.3,291.5 L506.4,291.3 L508.3,291.1 L510.1,290.9 L511.8,290.6 L513.5,290.3 L515.2,289.9 L516.8,289.5 L518.5,289.1 L520.3,288.6 L522.1,288.1 L524.1,287.5 L526.2,286.8 L528.3,286.1 L530.6,285.2 L532.8,284.3 L535.2,283.4 L537.5,282.4 L539.8,281.4 L542.1,280.5 L544.3,279.5 L546.5,278.6 L548.6,277.7 L550.6,276.9 L552.5,276.2 L554.4,275.4 L556.2,274.8 L558.0,274.1 L559.8,273.5 L561.5,272.9 L563.1,272.3 L564.7,271.7 L566.2,271.1 L567.7,270.4 L569.1,269.8 L570.4,269.2 L571.6,268.6 L572.8,267.9 L573.9,267.3 L574.9,266.6 L575.9,266.0 L576.8,265.4 L577.7,264.7 L578.5,264.1 L579.3,263.4 L580.0,262.8 L580.7,262.2 L581.4,261.5 L582.0,260.8 L582.6,260.2 L583.0,259.5 L583.4,258.9 L583.8,258.2 L584.2,257.5 L584.5,256.8 L584.8,256.2 L585.2,255.5 L585.5,254.8 L585.9,254.2 L586.4,253.5 L586.9,252.8 L587.5,252.2 L588.1,251.5 L588.7,250.8 L589.3,250.2 L589.9,249.5 L590.5,248.8 L591.2,248.2 L591.7,247.5 L592.3,246.9 L592.8,246.2 L593.3,245.6 L593.7,245.0 L594.1,244.4 L594.4,243.8 L594.7,243.2 L595.0,242.6 L595.2,242.0 L595.5,241.4 L595.8,240.8 L596.1,240.2 L596.4,239.6 L596.8,238.9 L597.2,238.3 L597.7,237.6 L598.2,236.9 L598.8,236.2 L599.4,235.5 L600.0,234.8 L600.6,234.0 L601.2,233.3 L601.8,232.6 L602.4,231.9 L603.0,231.2 L603.6,230.6 L604.1,230.0 L604.6,229.5 L605.0,228.9 L605.4,228.5 L605.8,228.0 L606.2,227.6 L606.6,227.2 L606.9,226.8 L607.3,226.4 L607.7,226.0 L608.1,225.6 L608.5,225.1 L609.0,224.6 L609.5,224.1 L610.0,223.5 L610.6,222.9 L611.2,222.4 L611.7,221.8 L612.3,221.1 L612.9,220.5 L613.5,219.9 L614.1,219.4 L614.7,218.8 L615.3,218.2 L615.8,217.7 L616.3,217.2 L616.8,216.7 L617.3,216.2 L617.8,215.8 L618.3,215.3 L618.7,214.9 L619.2,214.4 L619.7,214.0 L620.2,213.6 L620.7,213.2 L621.2,212.7 L621.7,212.3 L622.2,211.9 L622.7,211.5 L623.2,211.1 L623.8,210.7 L624.3,210.3 L624.8,209.9 L625.4,209.5 L625.9,209.1 L626.5,208.7 L627.2,208.3 L627.9,207.9 L628.6,207.4 L629.4,206.9 L630.1,206.5 L630.9,206.0 L631.8,205.6 L632.6,205.1 L633.5,204.6 L634.4,204.1 L635.4,203.6 L636.5,203.0 L637.6,202.4 L638.7,201.8 L640.0,201.1 L641.3,200.4 L642.8,199.6 L644.3,198.7 L645.9,197.8 L647.5,196.8 L649.2,195.9 L650.9,194.9 L652.6,194.0 L654.4,193.1 L656.2,192.2 L658.0,191.4 L659.8,190.7 L661.6,190.0 L663.4,189.4 L665.3,188.9 L667.1,188.3 L669.0,187.8 L670.9,187.4 L672.8,186.9 L674.8,186.5 L676.8,186.1 L678.8,185.7 L680.9,185.3 L683.0,184.9 L685.2,184.5 L687.7,184.1 L690.3,183.8 L693.0,183.4 L695.7,183.1 L698.4,182.8 L701.0,182.5 L703.5,182.2 L705.8,182.0 L707.8,181.8 L709.5,181.6 L710.9,181.4" fill="none" stroke="#0000ff" stroke-width="3" stroke-linejoin="round" stroke-dasharray="11 7.9"/>
<path d="M431.6,288.0 L433.2,288.0 L435.3,288.0 L437.7,288.0 L440.4,288.0 L443.3,288.0 L446.4,288.0 L449.6,288.0 L452.8,288.0 L456.1,288.0 L459.2,288.0 L459.4,288.0M467.2,288.0 L467.6,288.0 L470.3,288.1 L472.9,288.2 L475.5,288.3 L478.0,288.5 L480.6,288.6 L483.1,288.6 L485.6,288.7 L488.1,288.6 L490.6,288.5 L493.0,288.3 L494.6,288.1M502.5,286.5 L502.8,286.5 L505.3,285.8 L507.7,285.0 L510.1,284.3 L512.4,283.4 L514.8,282.6 L517.1,281.7 L519.5,280.8 L521.8,280.0 L524.1,279.1 L526.4,278.2 L526.9,278.0M534.8,274.7 L535.7,274.4 L537.9,273.4 L540.2,272.4 L542.4,271.4 L544.5,270.4 L546.6,269.5 L548.7,268.6 L550.6,267.7 L552.5,266.9 L554.3,266.2 L556.1,265.5 L557.8,264.8 L558.3,264.6M565.1,261.8 L565.6,261.6 L567.1,260.9 L568.5,260.1 L569.8,259.3 L571.1,258.4 L572.4,257.5 L573.6,256.5 L574.8,255.5 L575.9,254.5 L577.0,253.5 L578.0,252.4 L579.0,251.4 L580.0,250.4 L580.9,249.4 L581.7,248.5 L582.5,247.6 L583.2,246.8 L583.8,246.1 L584.0,245.8M587.4,240.3 L587.6,240.0 L588.4,238.8 L589.3,237.4 L590.4,235.8 L591.7,234.0 L593.0,232.1 L594.3,230.1 L595.7,228.1 L597.2,226.1 L598.5,224.1 L599.8,222.2 L601.1,220.5 L602.2,219.0 L603.1,217.7 L603.6,217.0M608.5,211.8 L609.0,211.3 L609.7,210.6 L610.4,209.9 L611.1,209.1 L611.8,208.2 L612.6,207.4 L613.4,206.6 L614.2,205.7 L615.1,204.8 L616.0,204.0 L616.9,203.1 L617.8,202.3 L618.8,201.5 L619.8,200.7 L620.9,199.9 L622.1,199.1 L623.3,198.3 L624.5,197.5 L625.8,196.8 L627.0,196.0 L628.2,195.3 L629.4,194.6 L630.5,193.9 L631.5,193.3M636.5,190.2 L636.8,190.0 L637.4,189.7 L638.1,189.3 L639.0,188.9 L640.0,188.3 L641.2,187.6 L642.5,186.9 L644.0,186.0 L645.6,185.1 L647.2,184.2 L648.9,183.2 L650.7,182.2 L652.5,181.3 L654.3,180.4 L656.2,179.5 L657.6,178.8M664.0,176.4 L665.4,176.0 L667.3,175.4 L669.2,174.8 L671.2,174.3 L673.2,173.8 L675.1,173.3 L677.1,172.9 L679.1,172.4 L681.1,172.0 L683.0,171.6 L684.9,171.2 L686.9,170.8 L688.9,170.5 L690.9,170.2 L692.9,169.9 L694.9,169.6 L695.3,169.5M700.8,168.8 L702.6,168.6 L704.5,168.3 L706.3,168.1 L708.1,167.9 L710.0,167.7 L711.9,167.5 L713.9,167.3 L715.8,167.1 L717.6,167.0 L719.4,166.8 L721.0,166.7 L722.5,166.6 L723.9,166.5 L725.1,166.4 L726.0,166.3" fill="none" stroke="#ff00ff" stroke-width="3" stroke-linejoin="round"/>
<path d="M89.0,542.6 L90.4,542.7 L92.1,542.7 L94.1,542.8 L96.4,542.9 L98.8,543.0 L101.4,543.2 L104.2,543.3 L107.0,543.4 L109.8,543.5 L112.6,543.6 L115.3,543.6 L118.0,543.7 L120.7,543.7 L123.5,543.8 L126.5,543.8 L129.5,543.9 L132.6,543.9 L135.7,543.9 L138.7,543.9 L141.6,543.9 L144.3,543.9 L146.8,543.8 L149.1,543.8 L151.1,543.7 L152.7,543.6 L154.0,543.6 L154.9,543.5 L155.6,543.5 L156.1,543.4 L156.6,543.4 L157.1,543.2 L157.6,543.0 L158.3,542.8 L159.2,542.5 L160.5,542.0 L162.1,541.5 L164.1,540.8 L166.4,540.0 L169.0,539.1 L171.7,538.1 L174.7,537.0 L177.7,535.9 L180.8,534.8 L183.8,533.6 L186.9,532.5 L189.8,531.4 L192.6,530.4 L195.2,529.4 L197.7,528.5 L200.2,527.5 L202.6,526.6 L205.1,525.7 L207.5,524.8 L209.8,523.9 L212.0,523.0 L214.2,522.2 L216.2,521.4 L218.2,520.7 L220.0,520.1 L221.6,519.5 L223.1,519.0 L224.4,518.6 L225.5,518.2 L226.5,517.9 L227.5,517.7 L228.3,517.5 L229.1,517.3 L229.8,517.2 L230.5,517.0 L231.2,517.0 L231.9,516.9 L232.6,516.8 L233.3,516.7 L234.0,516.7 L234.6,516.7 L235.2,516.8 L235.8,516.9 L236.4,516.9 L236.9,517.1 L237.5,517.2 L238.1,517.3 L238.7,517.5 L239.3,517.6 L240.0,517.8 L240.7,518.0 L241.4,518.1 L242.0,518.3 L242.7,518.5 L243.4,518.7 L244.1,518.9 L244.9,519.2 L245.7,519.5 L246.6,519.7 L247.6,520.1 L248.7,520.4 L250.0,520.8 L251.4,521.2 L253.0,521.7 L254.7,522.2 L256.4,522.7 L258.3,523.3 L260.2,523.9 L262.2,524.5 L264.2,525.1 L266.2,525.7 L268.2,526.3 L270.1,526.8 L272.0,527.4 L273.8,528.0 L275.7,528.5 L277.5,529.1 L279.4,529.7 L281.2,530.3 L283.1,530.8 L284.9,531.4 L286.7,532.0 L288.6,532.5 L290.4,533.0 L292.3,533.5 L294.1,534.0 L295.9,534.4 L297.8,534.9 L299.6,535.3 L301.4,535.7 L303.3,536.1 L305.1,536.4 L306.9,536.8 L308.8,537.1 L310.6,537.5 L312.4,537.8 L314.3,538.1 L316.1,538.4 L317.9,538.7 L319.8,539.0 L321.6,539.2 L323.4,539.5 L325.3,539.7 L327.1,539.9 L328.9,540.1 L330.8,540.4 L332.6,540.6 L334.4,540.8 L336.3,541.0 L338.1,541.2 L339.9,541.4 L341.7,541.6 L343.4,541.8 L345.2,542.0 L346.9,542.2 L348.6,542.4 L350.4,542.6 L352.2,542.8 L354.1,543.0 L356.0,543.1 L358.1,543.3 L360.2,543.5 L362.5,543.7 L365.1,543.9 L367.9,544.0 L370.8,544.2 L373.8,544.4 L376.8,544.6 L379.7,544.8 L382.4,544.9 L384.9,545.1 L387.2,545.2 L389.1,545.3 L390.6,545.4" fill="none" stroke="#ff0000" stroke-width="3" stroke-linejoin="round" />
<path d="M89.0,549.2 L90.4,549.4 L92.1,549.6 L94.1,549.8 L96.4,550.1 L98.8,550.4 L101.4,550.7 L104.2,551.0 L107.0,551.3 L109.8,551.6 L112.6,551.9 L115.3,552.2 L118.0,552.5 L120.7,552.8 L123.5,553.0 L126.5,553.3 L129.5,553.5 L132.6,553.7 L135.7,554.0 L138.7,554.2 L141.6,554.4 L144.3,554.7 L146.8,554.8 L149.1,555.0 L151.1,555.2 L152.8,555.4 L154.1,555.5 L155.1,555.7 L156.0,555.8 L156.7,555.9 L157.3,556.0 L157.9,556.1 L158.4,556.2 L159.1,556.3 L159.9,556.3 L160.9,556.3 L162.1,556.3 L163.5,556.3 L165.0,556.3 L166.6,556.2 L168.2,556.2 L169.9,556.1 L171.7,556.1 L173.6,555.9 L175.5,555.8 L177.6,555.6 L179.7,555.4 L181.8,555.1 L184.1,554.7 L186.5,554.3 L189.0,553.7 L191.6,553.1 L194.4,552.5 L197.2,551.8 L200.1,551.0 L203.0,550.3 L205.9,549.6 L208.8,548.9 L211.7,548.2 L214.5,547.6 L217.2,547.0 L219.9,546.5 L222.6,546.0 L225.4,545.5 L228.1,545.0 L230.9,544.6 L233.6,544.1 L236.3,543.7 L238.8,543.4 L241.3,543.0 L243.7,542.7 L245.9,542.4 L248.0,542.2 L249.9,542.0 L251.7,541.9 L253.5,541.8 L255.1,541.8 L256.6,541.7 L258.0,541.8 L259.3,541.8 L260.6,541.8 L261.8,541.9 L262.9,541.9 L264.0,542.0 L265.0,542.0 L265.9,542.0 L266.6,542.1 L267.1,542.1 L267.5,542.1 L267.9,542.2 L268.2,542.2 L268.5,542.3 L268.9,542.3 L269.4,542.4 L270.1,542.5 L270.9,542.7 L272.0,542.8 L273.3,543.0 L274.8,543.1 L276.5,543.3 L278.3,543.6 L280.1,543.8 L282.1,544.0 L284.1,544.3 L286.2,544.5 L288.2,544.8 L290.2,545.1 L292.2,545.4 L294.1,545.7 L295.9,546.0 L297.7,546.3 L299.4,546.7 L301.2,547.0 L302.9,547.4 L304.7,547.7 L306.4,548.1 L308.2,548.5 L310.1,548.9 L312.0,549.3 L314.0,549.7 L316.1,550.1 L318.4,550.6 L320.9,551.1 L323.6,551.6 L326.4,552.2 L329.2,552.8 L332.0,553.3 L334.8,553.9 L337.4,554.4 L339.8,554.9 L342.0,555.3 L343.8,555.7 L345.2,556.0" fill="none" stroke="#00ff00" stroke-width="3" stroke-linejoin="round" stroke-dasharray="2.6 3.54"/>
<path d="M89.0,547.0 L90.5,547.1 L92.4,547.2 L94.6,547.3 L97.0,547.5 L99.7,547.6 L102.6,547.8 L105.5,548.0 L108.5,548.2 L111.5,548.3 L114.5,548.5 L117.3,548.7 L120.0,548.8 L122.6,548.9 L125.4,549.1 L128.2,549.3 L131.0,549.4 L133.9,549.6 L136.7,549.7 L139.4,549.9 L142.1,550.0 L144.6,550.1 L147.0,550.2 L149.1,550.3 L151.1,550.3 L152.8,550.3 L154.1,550.3 L155.2,550.4 L156.2,550.4 L157.0,550.4 L157.7,550.3 L158.5,550.3 L159.3,550.2 L160.2,550.0 L161.3,549.8 L162.6,549.5 L164.3,549.2 L166.3,548.8 L168.5,548.3 L170.9,547.7 L173.5,547.1 L176.1,546.4 L178.9,545.7 L181.7,545.0 L184.6,544.2 L187.4,543.5 L190.1,542.8 L192.7,542.1 L195.2,541.5 L197.6,540.9 L200.0,540.3 L202.4,539.7 L204.7,539.1 L207.1,538.5 L209.4,537.9 L211.6,537.3 L213.8,536.8 L215.9,536.2 L217.9,535.8 L219.8,535.3 L221.6,534.9 L223.3,534.5 L224.8,534.2 L226.3,533.9 L227.6,533.6 L228.9,533.4 L230.1,533.1 L231.3,533.0 L232.5,532.8 L233.6,532.6 L234.7,532.5 L235.8,532.4 L237.0,532.3 L238.1,532.2 L239.2,532.2 L240.2,532.2 L241.2,532.2 L242.1,532.2 L243.1,532.3 L244.1,532.4 L245.1,532.5 L246.2,532.6 L247.3,532.7 L248.6,532.8 L250.0,532.9 L251.5,533.0 L253.1,533.2 L254.9,533.3 L256.7,533.5 L258.5,533.6 L260.4,533.8 L262.4,534.0 L264.3,534.2 L266.3,534.4 L268.2,534.6 L270.1,534.9 L272.0,535.1 L273.8,535.4 L275.7,535.7 L277.5,536.0 L279.4,536.3 L281.2,536.6 L283.1,537.0 L284.9,537.3 L286.7,537.7 L288.6,538.0 L290.4,538.4 L292.3,538.7 L294.1,539.0 L295.9,539.3 L297.8,539.6 L299.6,539.9 L301.4,540.2 L303.3,540.4 L305.1,540.7 L306.9,541.0 L308.8,541.3 L310.6,541.5 L312.4,541.8 L314.3,542.0 L316.1,542.3 L317.9,542.5 L319.7,542.8 L321.5,543.0 L323.2,543.2 L325.0,543.5 L326.8,543.7 L328.5,543.9 L330.4,544.1 L332.2,544.3 L334.1,544.5 L336.1,544.8 L338.1,545.0 L340.3,545.2 L342.7,545.5 L345.3,545.8 L347.9,546.1 L350.6,546.3 L353.3,546.6 L355.9,546.9 L358.3,547.1 L360.6,547.4 L362.6,547.6 L364.3,547.8 L365.7,547.9" fill="none" stroke="#0000ff" stroke-width="3" stroke-linejoin="round" stroke-dasharray="11 7.9"/>
<path d="M89.0,544.8 L90.5,544.8 L92.4,544.9 L94.6,545.0 L97.0,545.1 L99.7,545.2 L102.6,545.2 L105.5,545.3 L108.5,545.4 L111.5,545.5 L114.5,545.6 L116.9,545.7M124.7,545.9 L125.4,546.0 L128.2,546.1 L131.1,546.2 L134.0,546.2 L136.8,546.3 L139.6,546.4 L142.2,546.5 L144.7,546.5 L147.1,546.6 L149.2,546.6 L151.1,546.6M159.9,546.0 L160.5,545.9 L162.1,545.5 L164.1,545.0 L166.4,544.4 L169.0,543.7 L171.7,542.9 L174.7,542.1 L177.7,541.2 L180.8,540.3 L183.8,539.4 L186.9,538.5 L189.8,537.6 L192.6,536.8 L195.2,536.0 L197.7,535.2 L200.1,534.4 L202.6,533.6 L204.0,533.1M211.7,530.4 L211.9,530.4 L214.0,529.6 L216.1,528.9 L218.0,528.3 L219.9,527.7 L221.6,527.2 L223.2,526.8 L224.5,526.4 L225.8,526.1 L226.9,525.8 L227.9,525.6 L228.9,525.4 L229.8,525.3 L230.7,525.2 L231.7,525.1 L232.6,525.1 L233.7,525.0 L234.8,525.0M242.5,525.6 L243.1,525.7 L244.4,525.9 L245.7,526.1 L247.1,526.4 L248.5,526.6 L250.0,526.9 L251.6,527.2 L253.3,527.5 L255.0,527.9 L256.8,528.3 L258.7,528.7 L260.6,529.2 L262.5,529.6 L264.4,530.0 L266.3,530.5 L268.2,530.9 L270.1,531.4 L272.0,531.8 L273.8,532.2 L275.7,532.6 L277.5,533.1 L279.4,533.5 L281.2,533.9 L283.0,534.4M290.3,536.0 L290.4,536.0 L292.3,536.4 L294.1,536.8 L295.9,537.2 L297.8,537.5 L299.6,537.9 L301.4,538.2 L303.3,538.5 L305.1,538.9 L306.9,539.2 L308.8,539.5 L310.6,539.8 L312.4,540.0 L314.3,540.3 L316.0,540.6M322.6,541.5 L323.4,541.6 L325.3,541.8 L327.1,542.0 L328.9,542.2 L330.8,542.4 L332.6,542.6 L334.4,542.8 L336.3,543.0 L338.1,543.2 L339.9,543.4 L341.8,543.6 L343.6,543.7 L345.4,543.9 L347.3,544.0 L349.0,544.2M354.9,544.6 L356.5,544.7 L358.3,544.9 L360.2,545.0 L362.2,545.1 L364.3,545.2 L366.4,545.4 L368.7,545.5 L370.9,545.6 L373.1,545.7 L375.3,545.8 L377.3,545.8 L379.1,545.9 L380.8,546.0 L382.2,546.0 L383.3,546.1" fill="none" stroke="#ff00ff" stroke-width="3" stroke-linejoin="round"/>
<path d="M431.6,601.6 L432.9,601.6 L434.4,601.6 L436.2,601.5 L438.2,601.5 L440.4,601.5 L442.7,601.5 L445.2,601.4 L447.7,601.4 L450.3,601.4 L452.9,601.3 L455.5,601.3 L458.0,601.2 L460.5,601.1 L463.1,601.0 L465.8,600.9 L468.5,600.7 L471.3,600.5 L474.1,600.4 L477.0,600.3 L479.8,600.1 L482.7,600.1 L485.5,600.0 L488.3,600.0 L491.1,600.1 L493.9,600.2 L496.6,600.4 L499.4,600.7 L502.1,601.0 L504.9,601.3 L507.6,601.6 L510.3,602.0 L513.1,602.4 L515.8,602.7 L518.6,603.1 L521.3,603.5 L524.1,603.8 L526.9,604.1 L529.8,604.5 L532.8,604.8 L535.9,605.2 L538.9,605.6 L541.9,605.9 L544.8,606.3 L547.7,606.6 L550.4,607.0 L552.9,607.3 L555.2,607.5 L557.2,607.8 L559.0,608.0 L560.6,608.2 L562.0,608.4 L563.3,608.6 L564.4,608.7 L565.5,608.8 L566.4,608.9 L567.2,609.0 L567.9,609.1 L568.6,609.2 L569.3,609.3 L570.0,609.4 L570.6,609.5 L571.1,609.6 L571.5,609.6 L571.9,609.7 L572.1,609.8 L572.4,609.8 L572.5,609.9 L572.7,609.9 L572.9,609.9 L573.1,609.9 L573.3,609.9 L573.5,609.8 L573.8,609.7 L574.0,609.6 L574.2,609.6 L574.3,609.5 L574.5,609.4 L574.7,609.2 L574.9,609.0 L575.1,608.8 L575.4,608.6 L575.7,608.3 L576.1,607.9 L576.5,607.5 L577.0,607.0 L577.6,606.4 L578.2,605.8 L578.9,605.1 L579.6,604.3 L580.3,603.6 L581.1,602.8 L581.9,601.9 L582.7,601.1 L583.4,600.3 L584.2,599.5 L585.0,598.8 L585.8,598.1 L586.6,597.3 L587.4,596.6 L588.2,595.8 L589.0,595.1 L589.8,594.3 L590.7,593.6 L591.5,592.8 L592.3,592.1 L593.2,591.4 L594.0,590.7 L594.8,590.0 L595.6,589.3 L596.4,588.7 L597.2,588.0 L598.1,587.4 L598.9,586.8 L599.7,586.2 L600.5,585.5 L601.3,584.9 L602.1,584.3 L603.0,583.8 L603.8,583.2 L604.6,582.6 L605.4,582.0 L606.2,581.5 L607.1,580.9 L607.9,580.4 L608.7,579.8 L609.5,579.3 L610.3,578.7 L611.1,578.2 L612.0,577.7 L612.8,577.2 L613.6,576.7 L614.4,576.2 L615.2,575.7 L616.0,575.2 L616.9,574.8 L617.7,574.3 L618.5,573.9 L619.3,573.5 L620.1,573.0 L620.9,572.6 L621.8,572.2 L622.6,571.7 L623.4,571.3 L624.2,570.9 L625.0,570.5 L625.8,570.0 L626.7,569.6 L627.5,569.2 L628.3,568.8 L629.1,568.4 L629.9,568.0 L630.7,567.6 L631.6,567.2 L632.4,566.8 L633.2,566.4 L634.0,566.0 L634.8,565.6 L635.6,565.3 L636.5,564.9 L637.3,564.6 L638.1,564.2 L638.9,563.9 L639.7,563.6 L640.5,563.3 L641.3,562.9 L642.2,562.6 L643.0,562.3 L643.8,562.0 L644.6,561.7 L645.4,561.4 L646.2,561.1 L647.0,560.8 L647.8,560.5 L648.6,560.2 L649.4,560.0 L650.2,559.7 L651.0,559.4 L651.9,559.1 L652.7,558.9 L653.6,558.6 L654.4,558.4 L655.2,558.1 L655.9,557.9 L656.6,557.7 L657.3,557.5 L658.1,557.3 L658.9,557.1 L659.8,556.9 L660.8,556.6 L662.0,556.4 L663.4,556.0 L665.0,555.7 L666.9,555.3 L669.0,554.8 L671.3,554.4 L673.8,553.8 L676.4,553.3 L679.1,552.7 L681.9,552.2 L684.6,551.6 L687.3,551.1 L689.9,550.6 L692.4,550.2 L694.7,549.8 L696.9,549.5 L699.0,549.2 L701.1,548.9 L703.2,548.7 L705.2,548.5 L707.2,548.3 L709.1,548.1 L711.0,548.0 L712.8,547.8 L714.5,547.7 L716.2,547.5 L717.9,547.4 L719.5,547.3 L721.1,547.1 L722.7,547.0 L724.3,546.9 L725.8,546.8 L727.2,546.7 L728.6,546.6 L729.9,546.5 L731.0,546.5 L732.1,546.4 L733.0,546.3 L733.7,546.3" fill="none" stroke="#ff0000" stroke-width="3" stroke-linejoin="round" />
<path d="M431.6,606.2 L432.9,606.2 L434.4,606.2 L436.2,606.3 L438.2,606.3 L440.4,606.3 L442.7,606.4 L445.2,606.4 L447.7,606.5 L450.3,606.5 L452.9,606.6 L455.5,606.6 L458.0,606.7 L460.5,606.8 L463.1,606.8 L465.8,606.9 L468.5,606.9 L471.3,607.0 L474.1,607.0 L477.0,607.1 L479.8,607.2 L482.7,607.3 L485.5,607.5 L488.3,607.6 L491.1,607.8 L493.9,608.0 L496.6,608.2 L499.4,608.5 L502.1,608.7 L504.9,609.0 L507.6,609.3 L510.3,609.6 L513.1,610.0 L515.8,610.3 L518.6,610.7 L521.3,611.1 L524.1,611.5 L526.9,611.9 L529.7,612.4 L532.6,612.9 L535.5,613.4 L538.4,614.0 L541.3,614.5 L544.2,615.1 L547.0,615.6 L549.7,616.2 L552.3,616.7 L554.8,617.2 L557.2,617.7 L559.5,618.2 L561.6,618.6 L563.7,619.1 L565.7,619.6 L567.6,620.0 L569.5,620.5 L571.2,620.9 L573.0,621.3 L574.6,621.7 L576.2,622.1 L577.7,622.5 L579.2,622.8 L580.6,623.1 L581.9,623.4 L583.2,623.6 L584.4,623.9 L585.5,624.1 L586.5,624.3 L587.5,624.5 L588.5,624.6 L589.4,624.8 L590.3,624.9 L591.2,625.1 L592.0,625.2 L592.8,625.3 L593.5,625.4 L594.1,625.5 L594.6,625.6 L595.1,625.7 L595.6,625.7 L596.1,625.7 L596.6,625.8 L597.1,625.8 L597.7,625.8 L598.3,625.8 L599.0,625.8 L599.8,625.8 L600.6,625.8 L601.4,625.7 L602.2,625.7 L603.1,625.6 L604.0,625.5 L604.9,625.5 L605.9,625.4 L606.9,625.3 L607.9,625.2 L608.9,625.0 L610.0,624.9 L611.1,624.7 L612.2,624.6 L613.3,624.4 L614.4,624.2 L615.5,624.0 L616.7,623.8 L617.9,623.6 L619.2,623.3 L620.5,623.1 L621.9,622.8 L623.4,622.6 L624.9,622.3 L626.5,622.0 L628.3,621.7 L630.1,621.4 L632.0,621.1 L634.0,620.7 L636.0,620.4 L638.0,620.0 L640.1,619.7 L642.1,619.3 L644.1,619.0 L646.1,618.7 L648.1,618.4 L650.1,618.1 L652.1,617.9 L654.1,617.6 L656.2,617.3 L658.2,617.1 L660.3,616.8 L662.3,616.6 L664.2,616.4 L666.1,616.2 L668.0,616.0 L669.7,615.8 L671.4,615.6 L673.0,615.4 L674.6,615.3 L676.1,615.1 L677.6,615.0 L679.0,614.8 L680.4,614.7 L681.7,614.6 L682.9,614.5 L684.0,614.4 L685.0,614.3 L685.8,614.3 L686.5,614.2" fill="none" stroke="#00ff00" stroke-width="3" stroke-linejoin="round" stroke-dasharray="2.6 3.54"/>
<path d="M431.6,601.8 L433.0,601.8 L434.7,601.8 L436.6,601.7 L438.9,601.7 L441.3,601.7 L443.9,601.7 L446.5,601.6 L449.3,601.6 L452.0,601.6 L454.8,601.6 L457.4,601.5 L460.0,601.5 L462.5,601.5 L465.0,601.4 L467.5,601.3 L470.1,601.2 L472.7,601.1 L475.3,601.0 L477.9,601.0 L480.5,600.9 L483.1,600.9 L485.8,601.0 L488.4,601.0 L491.1,601.2 L493.8,601.4 L496.5,601.7 L499.2,602.0 L502.0,602.4 L504.7,602.8 L507.5,603.3 L510.2,603.7 L513.0,604.2 L515.8,604.7 L518.6,605.1 L521.3,605.6 L524.1,606.0 L526.9,606.4 L529.8,606.9 L532.8,607.3 L535.9,607.8 L538.9,608.3 L541.9,608.7 L544.8,609.2 L547.7,609.6 L550.4,610.0 L552.9,610.4 L555.2,610.8 L557.2,611.1 L559.0,611.4 L560.6,611.6 L562.0,611.9 L563.2,612.1 L564.3,612.3 L565.2,612.4 L566.1,612.6 L566.9,612.7 L567.7,612.9 L568.4,613.0 L569.2,613.1 L570.0,613.2 L570.8,613.3 L571.5,613.4 L572.2,613.5 L572.9,613.6 L573.5,613.6 L574.1,613.7 L574.6,613.7 L575.1,613.7 L575.6,613.8 L576.1,613.8 L576.6,613.8 L577.0,613.8 L577.4,613.8 L577.8,613.8 L578.1,613.8 L578.5,613.8 L578.7,613.7 L579.0,613.7 L579.3,613.7 L579.5,613.6 L579.8,613.5 L580.1,613.4 L580.4,613.3 L580.7,613.2 L581.0,613.1 L581.3,612.9 L581.6,612.8 L581.9,612.6 L582.2,612.4 L582.5,612.2 L582.8,612.0 L583.1,611.8 L583.5,611.5 L584.0,611.2 L584.4,610.9 L585.0,610.5 L585.6,610.1 L586.3,609.6 L587.1,609.1 L587.9,608.5 L588.7,608.0 L589.6,607.4 L590.4,606.7 L591.3,606.1 L592.2,605.5 L593.1,604.9 L594.0,604.3 L594.8,603.7 L595.6,603.1 L596.4,602.6 L597.2,602.0 L598.1,601.4 L598.9,600.8 L599.7,600.2 L600.5,599.6 L601.3,599.1 L602.1,598.5 L603.0,597.9 L603.8,597.4 L604.6,596.8 L605.4,596.2 L606.2,595.7 L607.1,595.2 L607.9,594.6 L608.7,594.1 L609.5,593.5 L610.3,593.0 L611.1,592.5 L612.0,591.9 L612.8,591.4 L613.6,590.9 L614.4,590.4 L615.2,589.9 L616.0,589.4 L616.9,588.9 L617.7,588.4 L618.5,587.9 L619.3,587.4 L620.1,586.9 L620.9,586.4 L621.8,586.0 L622.6,585.5 L623.4,585.0 L624.2,584.6 L625.0,584.2 L625.8,583.7 L626.7,583.3 L627.5,582.8 L628.3,582.4 L629.1,582.0 L629.9,581.6 L630.7,581.2 L631.6,580.8 L632.4,580.4 L633.2,580.1 L634.0,579.7 L634.8,579.4 L635.6,579.0 L636.5,578.7 L637.3,578.4 L638.1,578.1 L638.9,577.9 L639.7,577.6 L640.5,577.3 L641.3,577.0 L642.2,576.8 L643.0,576.5 L643.8,576.2 L644.6,575.9 L645.4,575.6 L646.2,575.3 L647.0,575.1 L647.8,574.8 L648.6,574.5 L649.4,574.2 L650.2,573.9 L651.0,573.6 L651.9,573.4 L652.7,573.1 L653.6,572.8 L654.4,572.5 L655.2,572.3 L655.9,572.0 L656.6,571.7 L657.3,571.5 L658.1,571.2 L658.9,570.9 L659.8,570.7 L660.8,570.4 L662.0,570.1 L663.4,569.7 L665.0,569.4 L666.9,569.0 L669.0,568.6 L671.3,568.2 L673.9,567.7 L676.5,567.2 L679.3,566.7 L682.0,566.3 L684.8,565.8 L687.5,565.3 L690.0,564.9 L692.5,564.5 L694.7,564.2 L696.8,563.9 L698.9,563.6 L701.0,563.4 L703.1,563.1 L705.1,562.9 L707.0,562.7 L708.8,562.5 L710.5,562.4 L712.1,562.2 L713.4,562.1 L714.6,562.0 L715.6,561.9" fill="none" stroke="#0000ff" stroke-width="3" stroke-linejoin="round" stroke-dasharray="11 7.9"/>
<path d="M431.6,600.5 L433.0,600.5 L434.7,600.4 L436.6,600.4 L438.9,600.3 L441.3,600.3 L443.9,600.2 L446.5,600.1 L449.3,600.1 L452.0,600.0 L454.8,599.9 L457.4,599.9 L458.0,599.9M466.9,599.5 L467.5,599.5 L470.1,599.4 L472.7,599.3 L475.3,599.1 L477.9,599.0 L480.5,599.0 L483.1,598.9 L485.8,598.9 L488.4,598.9 L491.0,599.0M499.9,599.6 L502.0,599.8 L504.7,600.0 L507.5,600.3 L510.2,600.6 L513.0,601.0 L515.8,601.3 L518.6,601.6 L521.3,602.0 L524.1,602.3 L525.2,602.4M535.2,603.7 L535.8,603.8 L538.9,604.2 L541.9,604.6 L544.8,605.0 L547.6,605.4 L550.3,605.7 L552.8,606.1 L555.1,606.4 L557.2,606.7 L559.1,607.0 L560.7,607.2 L562.2,607.4 L563.6,607.7 L564.8,607.9 L565.9,608.0 L566.9,608.2 L567.9,608.4 L568.7,608.5 L569.5,608.7 L570.3,608.8 L571.0,608.9 L571.7,609.0 L572.2,609.1 L572.6,609.2M577.0,608.8 L577.3,608.7 L577.6,608.4 L578.0,608.2 L578.4,607.9 L578.9,607.6 L579.4,607.3 L579.9,606.9 L580.5,606.6 L581.1,606.1 L581.7,605.7 L582.3,605.3 L583.0,604.8 L583.6,604.3 L584.3,603.7 L585.0,603.2 L585.7,602.6 L586.5,602.0 L587.3,601.3 L588.1,600.6 L588.9,599.9 L589.7,599.2 L590.6,598.4 L591.4,597.7 L592.3,596.9 L593.1,596.2 L594.0,595.5 L594.8,594.8 L595.6,594.1 L596.4,593.4 L597.2,592.8 L598.1,592.1 L598.9,591.4 L599.7,590.8 L599.7,590.8M605.3,586.5 L605.4,586.4 L606.2,585.8 L607.1,585.3 L607.9,584.7 L608.7,584.2 L609.5,583.6 L610.3,583.1 L611.1,582.6 L612.0,582.1 L612.8,581.6 L613.6,581.1 L614.4,580.6 L615.2,580.1 L616.0,579.6 L616.9,579.2 L617.7,578.7 L618.5,578.3 L619.3,577.8 L620.1,577.4 L620.9,577.0 L621.8,576.5 L622.6,576.1 L623.4,575.7 L624.2,575.3 L625.0,574.9 L625.8,574.5 L626.7,574.1 L627.5,573.8 L628.3,573.4 L629.1,573.0 L629.9,572.7 L630.7,572.3 L631.6,572.0 L632.4,571.6 L633.2,571.2 L634.0,570.9 L634.8,570.6 L635.6,570.2 L636.5,569.9 L637.3,569.5 L638.1,569.2 L638.9,568.8 L639.7,568.5 L640.5,568.2 L641.3,567.8 L642.2,567.5 L643.0,567.2 L643.8,566.9 L644.6,566.6 L644.9,566.5M651.5,564.2 L651.9,564.0 L652.7,563.8 L653.6,563.5 L654.4,563.2 L655.2,563.0 L655.9,562.8 L656.6,562.6 L657.3,562.4 L658.1,562.1 L658.9,561.9 L659.8,561.7 L660.8,561.5 L662.0,561.2 L663.4,560.9 L665.0,560.6 L666.8,560.3 L668.9,559.9 L671.1,559.5 L673.5,559.0 L676.0,558.6 L678.6,558.1 L681.3,557.7 L684.0,557.2 L686.7,556.8 L689.0,556.4M696.7,555.3 L697.4,555.2 L700.2,554.9 L703.1,554.5 L706.2,554.2 L709.2,553.9 L712.2,553.5 L715.1,553.2 L717.8,553.0 L720.3,552.7 L722.6,552.5 L724.5,552.3 L726.0,552.1" fill="none" stroke="#ff00ff" stroke-width="3" stroke-linejoin="round"/>
<g opacity="0.999">
<line x1="141.1" y1="71.75" x2="201.1" y2="71.75" stroke="#ff0000" stroke-width="2" />
<line x1="141.1" y1="90.65" x2="201.1" y2="90.65" stroke="#00ff00" stroke-width="2" stroke-dasharray="2.6 3.54"/>
<line x1="141.1" y1="109.5" x2="201.1" y2="109.5" stroke="#0000ff" stroke-width="2" stroke-dasharray="11 7.9"/>
<line x1="141.1" y1="127.8" x2="201.1" y2="127.8" stroke="#ff00ff" stroke-width="2" stroke-dasharray="27.4 8.1"/>
<text x="213.3" y="75.45" font-family="Liberation Mono" font-weight="bold" font-size="16" fill="#ff0000" textLength="95.1" lengthAdjust="spacingAndGlyphs" xml:space="preserve">K19: Ch only</text>
<text x="213.3" y="94.35" font-family="Liberation Mono" font-weight="bold" font-size="16" fill="#00ff00" textLength="82.6" lengthAdjust="spacingAndGlyphs" xml:space="preserve">subCh only</text>
<text x="213.3" y="113.20" font-family="Liberation Mono" font-weight="bold" font-size="16" fill="#0000ff" textLength="158.9" lengthAdjust="spacingAndGlyphs" xml:space="preserve">50% Ch + 50% subCh</text>
<text x="213.3" y="131.50" font-family="Liberation Mono" font-weight="bold" font-size="16" fill="#ff00ff" textLength="158.9" lengthAdjust="spacingAndGlyphs" xml:space="preserve">75% Ch + 25% subCh</text>
</g>
</svg></body></html>
